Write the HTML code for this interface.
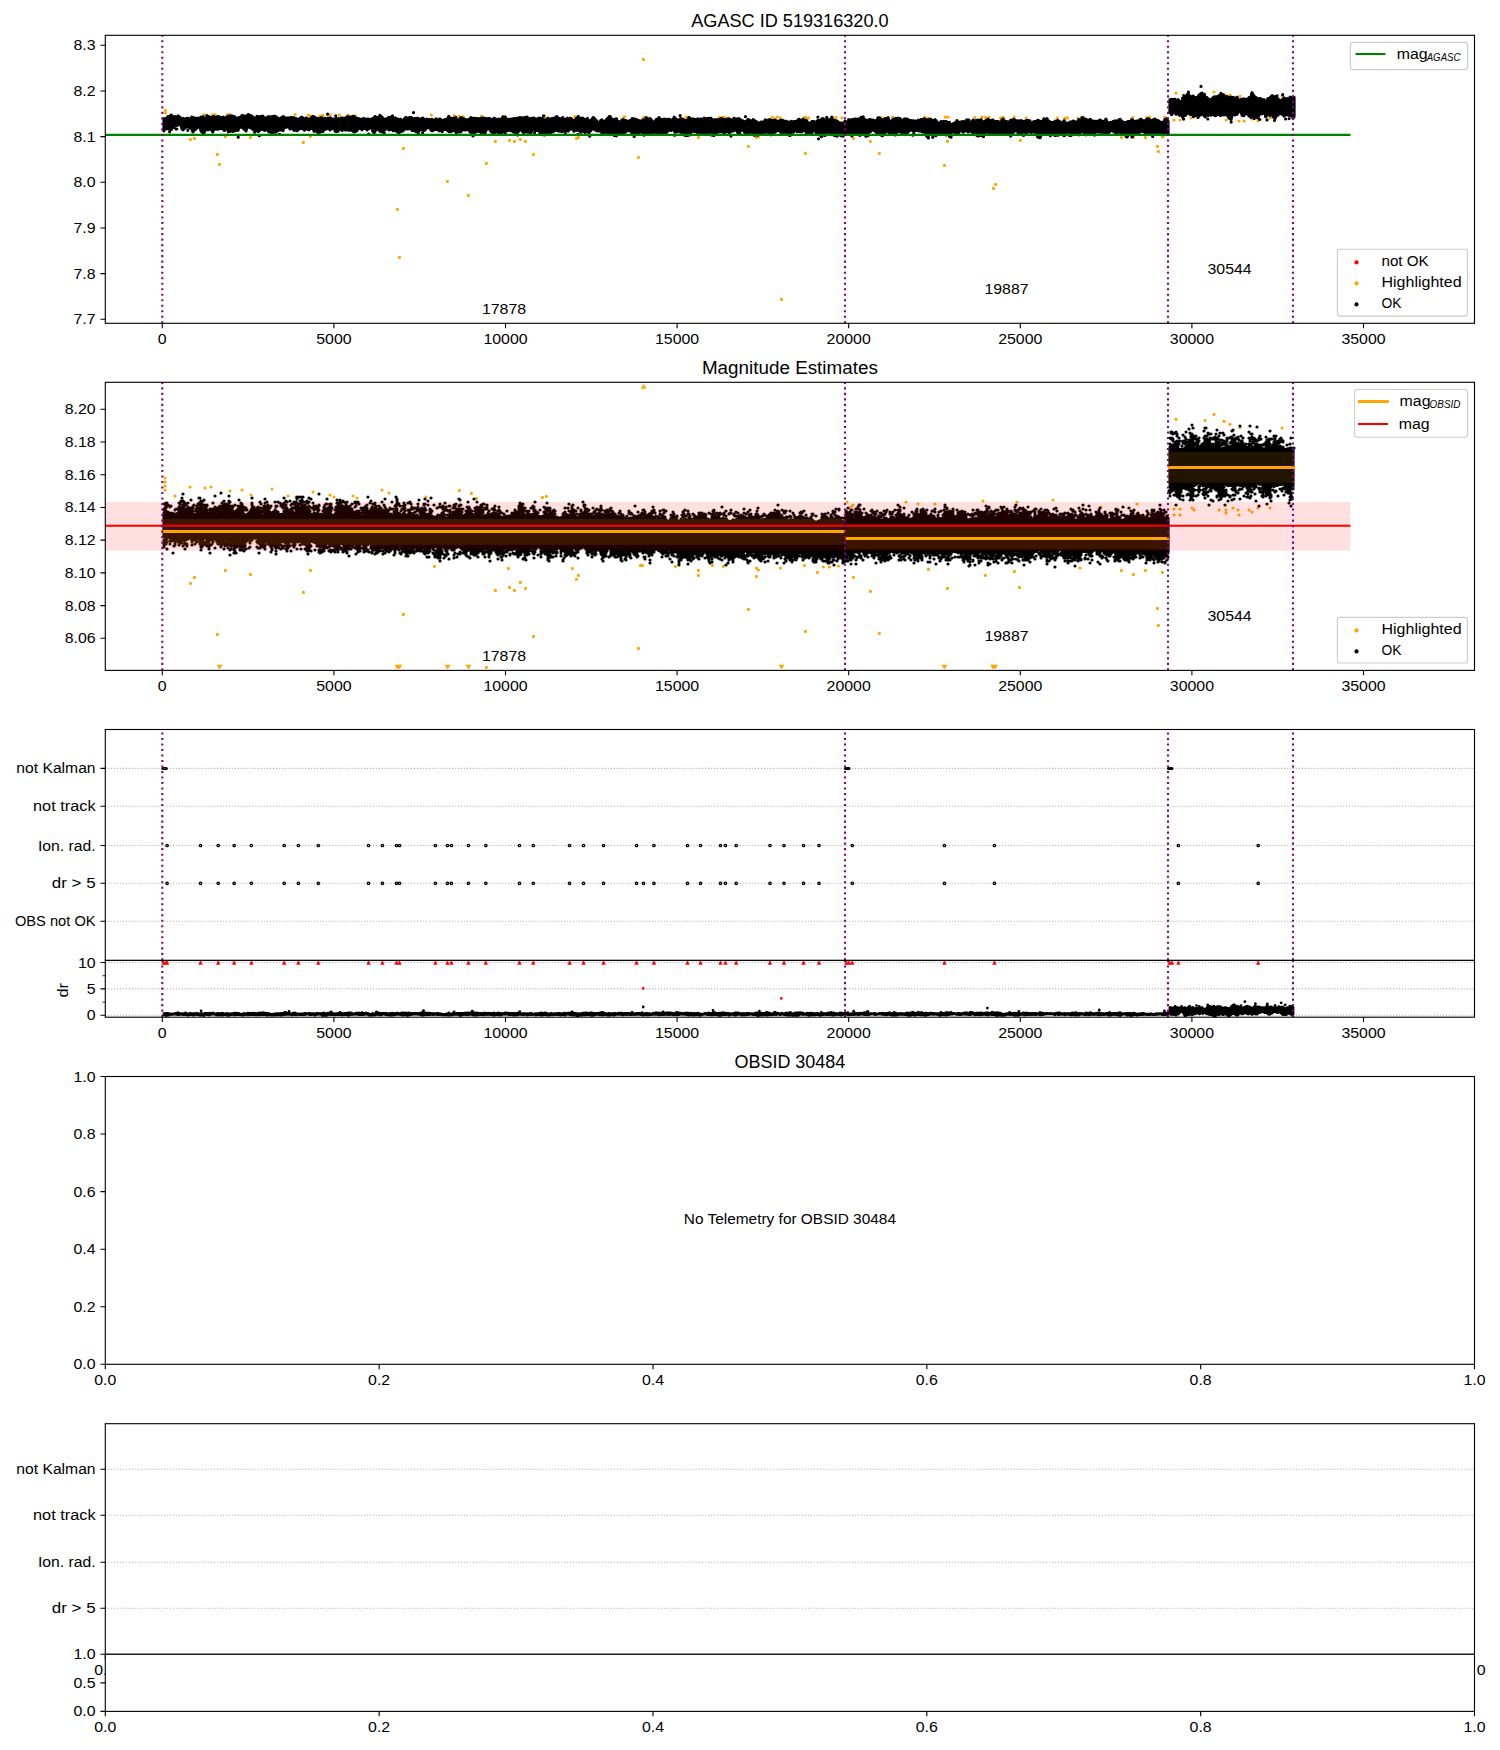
<!DOCTYPE html>
<html><head><meta charset="utf-8"><title>AGASC ID 519316320.0</title>
<style>html,body{margin:0;padding:0;background:#fff;}svg{display:block;}</style>
</head><body>
<svg width="1500" height="1750" viewBox="0 0 1500 1750" font-family="&quot;Liberation Sans&quot;, sans-serif" fill="#000">
<rect width="1500" height="1750" fill="#fff"/>
<text x="691.22" y="26.90" font-size="17.50" textLength="197.36" lengthAdjust="spacingAndGlyphs">AGASC ID 519316320.0</text>
<path d="M165.4 110.4h0M165.4 113.0h0M190.4 139.4h0M194.4 138.4h0M217.4 154.4h0M219.4 164.4h0M225.4 136.6h0M250.4 137.4h0M303.4 142.4h0M310.4 136.6h0M397.4 209.4h0M399.4 257.4h0M403.4 148.4h0M447.4 181.4h0M468.4 195.4h0M486.4 163.4h0M495.4 141.4h0M509.4 140.4h0M514.4 141.4h0M520.4 139.4h0M525.4 141.4h0M533.4 154.4h0M576.4 138.4h0M578.4 137.4h0M638.4 157.4h0M643.4 59.4h0M698.4 137.4h0M748.4 146.4h0M756.4 137.4h0M758.4 137.0h0M805.4 153.4h0M781.4 299.4h0M853.4 138.4h0M870.4 141.4h0M879.4 153.4h0M944.4 165.4h0M947.4 141.4h0M993.6 188.4h0M995.6 184.4h0M1020.4 140.4h0M1121.4 137.4h0M1133.4 137.4h0M1145.4 137.4h0M1157.4 146.4h0M1158.4 151.4h0M1162.4 137.0h0M1176.0 93.0h0M1205.0 94.0h0M1214.0 92.0h0M1224.0 94.0h0M1230.0 95.0h0M1240.0 96.0h0M1282.0 96.0h0M1174.0 120.0h0M1180.0 120.0h0M1191.0 118.0h0M1226.0 120.0h0M1239.0 121.0h0M1244.0 121.0h0M1252.0 119.0h0M1258.0 121.0h0M1270.0 118.0h0M171.5 114.7h0M203.8 114.9h0M212.6 114.8h0M215.2 114.9h0M227.6 114.5h0M228.8 115.3h0M230.0 114.5h0M244.8 115.7h0M295.2 114.5h0M308.4 115.1h0M310.6 116.0h0M320.0 116.0h0M322.6 115.7h0M323.0 115.4h0M330.2 114.8h0M339.4 115.2h0M348.1 115.2h0M355.7 115.8h0M431.4 115.0h0M454.3 115.5h0M459.1 116.3h0M463.3 116.6h0M481.5 116.2h0M504.9 116.4h0M544.6 115.9h0M544.6 116.9h0M574.7 116.7h0M623.8 117.1h0M624.8 116.8h0M643.6 117.5h0M644.8 117.4h0M686.3 117.0h0M687.9 117.8h0M689.2 118.1h0M709.2 118.0h0M719.4 117.7h0M722.1 117.3h0M723.8 117.4h0M725.4 117.8h0M728.4 118.0h0M772.6 117.3h0M777.1 117.2h0M780.1 117.9h0M804.2 117.5h0M805.5 117.0h0M808.5 118.1h0M827.0 118.0h0M831.4 118.4h0M832.6 117.6h0M836.0 117.6h0M841.9 117.8h0M881.8 117.8h0M892.5 117.2h0M895.0 118.3h0M924.9 117.3h0M928.5 118.2h0M945.3 117.1h0M948.1 117.1h0M974.8 117.6h0M981.6 118.3h0M982.1 117.1h0M985.5 117.4h0M989.2 117.3h0M1000.6 118.1h0M1003.0 117.4h0M1003.9 118.2h0M1014.1 117.2h0M1026.0 118.1h0M1057.2 118.2h0M1057.4 118.1h0M1064.8 118.4h0M1067.2 117.9h0M1077.8 118.3h0M1083.4 117.2h0M1132.7 117.5h0M1147.3 117.6h0M1149.2 118.4h0M1149.5 117.1h0M1164.6 117.1h0M1164.8 117.5h0" stroke="#ffa500" stroke-width="3.2" stroke-linecap="round"/>
<path d="M164.0 118.6 165.0 119.6 166.0 118.9 167.0 117.8 168.0 116.7 169.0 117.0 170.0 116.3 171.0 115.4 172.0 116.3 173.0 116.8 174.0 117.5 175.0 116.7 176.0 117.0 177.0 117.1 178.0 115.9 179.0 116.9 180.0 117.4 181.0 119.6 182.0 119.1 183.0 118.5 184.0 119.3 185.0 118.9 186.0 119.3 187.0 118.4 188.0 118.3 189.0 119.0 190.0 119.2 191.0 118.8 192.0 117.4 193.0 117.9 194.0 117.9 195.0 118.4 196.0 118.4 197.0 119.1 198.0 118.6 199.0 118.4 200.0 118.8 201.0 117.4 202.0 117.1 203.0 116.9 204.0 118.9 205.0 118.4 206.0 118.7 207.0 118.9 208.0 118.3 209.0 116.7 210.0 117.9 211.0 117.4 212.0 118.2 213.0 116.8 214.0 116.7 215.0 118.2 216.0 119.3 217.0 117.6 218.0 116.5 219.0 116.8 220.0 117.8 221.0 117.9 222.0 118.1 223.0 117.1 224.0 117.8 225.0 118.8 226.0 118.1 227.0 116.7 228.0 116.4 229.0 117.5 230.0 116.0 231.0 116.5 232.0 116.0 233.0 116.5 234.0 116.7 235.0 117.1 236.0 118.6 237.0 118.7 238.0 119.6 239.0 118.9 240.0 118.1 241.0 118.3 242.0 115.6 243.0 116.3 244.0 116.9 245.0 116.1 246.0 117.1 247.0 116.8 248.0 115.0 249.0 115.7 250.0 115.5 251.0 115.8 252.0 116.4 253.0 118.0 254.0 118.0 255.0 117.9 256.0 118.2 257.0 116.5 258.0 118.1 259.0 117.0 260.0 117.7 261.0 116.7 262.0 116.2 263.0 116.4 264.0 118.6 265.0 119.0 266.0 118.1 267.0 117.8 268.0 116.8 269.0 117.1 270.0 116.9 271.0 117.8 272.0 116.7 273.0 116.8 274.0 116.4 275.0 116.3 276.0 117.4 277.0 117.7 278.0 118.3 279.0 119.2 280.0 119.8 281.0 118.0 282.0 118.4 283.0 116.7 284.0 117.1 285.0 119.1 286.0 118.5 287.0 118.0 288.0 118.1 289.0 118.1 290.0 118.1 291.0 117.4 292.0 118.5 293.0 119.1 294.0 118.6 295.0 118.7 296.0 119.0 297.0 119.6 298.0 119.4 299.0 119.6 300.0 118.8 301.0 117.6 302.0 117.3 303.0 118.4 304.0 119.2 305.0 118.9 306.0 118.1 307.0 118.4 308.0 119.7 309.0 120.4 310.0 119.0 311.0 118.6 312.0 117.2 313.0 116.4 314.0 117.1 315.0 117.5 316.0 118.5 317.0 119.5 318.0 119.8 319.0 120.4 320.0 119.1 321.0 117.8 322.0 118.3 323.0 120.6 324.0 120.1 325.0 118.4 326.0 118.5 327.0 119.7 328.0 118.2 329.0 118.9 330.0 118.1 331.0 119.2 332.0 119.6 333.0 119.4 334.0 120.7 335.0 119.5 336.0 118.4 337.0 120.0 338.0 118.6 339.0 120.4 340.0 119.6 341.0 118.2 342.0 118.2 343.0 118.3 344.0 118.4 345.0 118.2 346.0 119.1 347.0 116.8 348.0 116.7 349.0 117.0 350.0 119.0 351.0 117.0 352.0 117.1 353.0 116.4 354.0 116.4 355.0 117.6 356.0 118.1 357.0 119.5 358.0 118.5 359.0 118.7 360.0 119.6 361.0 119.9 362.0 119.1 363.0 119.8 364.0 118.5 365.0 120.0 366.0 119.6 367.0 119.0 368.0 119.0 369.0 119.5 370.0 120.7 371.0 119.7 372.0 118.9 373.0 119.2 374.0 118.1 375.0 116.7 376.0 117.9 377.0 117.7 378.0 118.9 379.0 117.8 380.0 115.4 381.0 116.6 382.0 117.3 383.0 119.1 384.0 119.3 385.0 119.2 386.0 119.5 387.0 118.8 388.0 118.7 389.0 117.4 390.0 118.1 391.0 117.5 392.0 117.4 393.0 118.3 394.0 119.1 395.0 118.0 396.0 119.9 397.0 118.9 398.0 119.4 399.0 119.9 400.0 119.6 401.0 119.4 402.0 120.6 403.0 120.7 404.0 120.3 405.0 118.1 406.0 117.5 407.0 118.8 408.0 118.9 409.0 117.9 410.0 117.5 411.0 117.5 412.0 118.4 413.0 118.8 414.0 119.5 415.0 118.4 416.0 119.3 417.0 118.6 418.0 118.3 419.0 119.9 420.0 119.5 421.0 119.0 422.0 118.6 423.0 118.2 424.0 119.7 425.0 120.5 426.0 120.5 427.0 120.0 428.0 120.4 429.0 119.7 430.0 119.7 431.0 119.7 432.0 119.3 433.0 120.5 434.0 121.4 435.0 121.6 436.0 118.9 437.0 120.4 438.0 120.4 439.0 119.4 440.0 119.1 441.0 119.9 442.0 120.5 443.0 120.6 444.0 120.1 445.0 119.6 446.0 120.0 447.0 119.4 448.0 118.4 449.0 117.9 450.0 118.0 451.0 118.5 452.0 120.6 453.0 118.7 454.0 119.1 455.0 118.9 456.0 119.1 457.0 120.1 458.0 120.8 459.0 119.9 460.0 119.0 461.0 117.7 462.0 118.0 463.0 119.3 464.0 118.9 465.0 119.5 466.0 119.9 467.0 119.8 468.0 120.4 469.0 119.8 470.0 118.7 471.0 117.7 472.0 118.9 473.0 118.5 474.0 118.3 475.0 119.2 476.0 118.4 477.0 120.1 478.0 120.3 479.0 119.3 480.0 118.6 481.0 119.7 482.0 118.3 483.0 117.9 484.0 118.3 485.0 118.7 486.0 118.7 487.0 119.1 488.0 118.7 489.0 118.7 490.0 119.9 491.0 120.2 492.0 119.4 493.0 120.8 494.0 118.4 495.0 118.7 496.0 119.4 497.0 120.1 498.0 119.8 499.0 119.2 500.0 119.7 501.0 119.3 502.0 119.6 503.0 116.9 504.0 117.9 505.0 117.6 506.0 118.9 507.0 119.6 508.0 120.1 509.0 119.4 510.0 119.7 511.0 119.2 512.0 119.4 513.0 119.2 514.0 118.4 515.0 120.4 516.0 120.6 517.0 118.3 518.0 119.4 519.0 118.1 520.0 118.2 521.0 118.0 522.0 117.9 523.0 118.6 524.0 118.5 525.0 117.4 526.0 118.0 527.0 118.8 528.0 120.5 529.0 119.7 530.0 118.5 531.0 118.4 532.0 119.3 533.0 118.5 534.0 118.1 535.0 119.0 536.0 119.1 537.0 119.4 538.0 118.8 539.0 118.2 540.0 118.3 541.0 118.5 542.0 118.5 543.0 119.2 544.0 119.7 545.0 120.1 546.0 120.3 547.0 119.2 548.0 118.3 549.0 119.4 550.0 119.4 551.0 119.5 552.0 118.5 553.0 118.6 554.0 118.3 555.0 117.9 556.0 117.9 557.0 117.1 558.0 118.0 559.0 119.5 560.0 118.9 561.0 119.2 562.0 118.3 563.0 119.3 564.0 121.1 565.0 119.5 566.0 119.3 567.0 120.7 568.0 120.6 569.0 120.4 570.0 118.3 571.0 118.6 572.0 119.8 573.0 121.0 574.0 121.1 575.0 120.1 576.0 119.3 577.0 117.8 578.0 117.5 579.0 119.2 580.0 119.3 581.0 118.2 582.0 119.9 583.0 118.3 584.0 119.9 585.0 119.6 586.0 119.9 587.0 120.5 588.0 120.5 589.0 121.4 590.0 120.9 591.0 120.2 592.0 119.5 593.0 118.3 594.0 118.2 595.0 119.6 596.0 120.4 597.0 121.4 598.0 123.3 599.0 122.8 600.0 122.3 601.0 120.3 602.0 120.0 603.0 121.9 604.0 121.7 605.0 121.0 606.0 120.9 607.0 118.9 608.0 118.5 609.0 117.8 610.0 116.6 611.0 118.4 612.0 119.8 613.0 119.7 614.0 120.1 615.0 119.1 616.0 119.8 617.0 120.6 618.0 121.7 619.0 122.6 620.0 122.2 621.0 121.3 622.0 120.2 623.0 119.6 624.0 120.3 625.0 120.7 626.0 120.5 627.0 121.9 628.0 121.8 629.0 121.3 630.0 120.7 631.0 120.6 632.0 119.6 633.0 118.9 634.0 119.6 635.0 119.3 636.0 119.3 637.0 120.7 638.0 120.3 639.0 121.5 640.0 121.0 641.0 122.1 642.0 121.9 643.0 119.8 644.0 121.0 645.0 120.6 646.0 118.7 647.0 119.3 648.0 119.8 649.0 118.8 650.0 118.7 651.0 119.7 652.0 121.2 653.0 121.9 654.0 122.5 655.0 122.7 656.0 119.7 657.0 119.3 658.0 119.8 659.0 117.6 660.0 119.2 661.0 120.4 662.0 119.7 663.0 119.6 664.0 119.0 665.0 119.4 666.0 119.7 667.0 119.9 668.0 119.2 669.0 119.9 670.0 119.8 671.0 120.9 672.0 121.0 673.0 119.5 674.0 118.5 675.0 119.2 676.0 119.2 677.0 120.1 678.0 120.9 679.0 120.8 680.0 119.2 681.0 118.6 682.0 119.7 683.0 119.1 684.0 120.5 685.0 120.5 686.0 121.0 687.0 120.0 688.0 120.1 689.0 117.6 690.0 118.4 691.0 119.7 692.0 119.2 693.0 118.9 694.0 119.4 695.0 119.9 696.0 119.4 697.0 120.4 698.0 119.0 699.0 120.6 700.0 119.4 701.0 119.1 702.0 120.8 703.0 119.9 704.0 118.7 705.0 119.4 706.0 119.0 707.0 118.6 708.0 118.7 709.0 118.7 710.0 118.5 711.0 118.3 712.0 120.6 713.0 120.1 714.0 121.2 715.0 119.8 716.0 120.6 717.0 119.6 718.0 119.6 719.0 120.6 720.0 120.2 721.0 118.7 722.0 118.9 723.0 119.4 724.0 120.4 725.0 119.7 726.0 119.8 727.0 120.2 728.0 119.0 729.0 119.5 730.0 119.3 731.0 120.2 732.0 120.4 733.0 120.4 734.0 118.4 735.0 119.2 736.0 119.4 737.0 119.1 738.0 119.3 739.0 118.7 740.0 119.6 741.0 120.7 742.0 121.3 743.0 120.8 744.0 122.3 745.0 122.7 746.0 121.3 747.0 121.1 748.0 119.6 749.0 120.0 750.0 121.0 751.0 122.1 752.0 121.4 753.0 119.7 754.0 120.0 755.0 121.6 756.0 121.5 757.0 122.5 758.0 122.8 759.0 123.6 760.0 123.3 761.0 122.0 762.0 122.1 763.0 124.0 764.0 122.6 765.0 120.5 766.0 122.6 767.0 122.5 768.0 121.5 769.0 120.8 770.0 119.6 771.0 120.7 772.0 121.0 773.0 120.5 774.0 120.3 775.0 120.2 776.0 121.5 777.0 121.2 778.0 122.4 779.0 121.3 780.0 120.7 781.0 120.4 782.0 120.2 783.0 120.5 784.0 121.6 785.0 122.6 786.0 121.2 787.0 122.3 788.0 122.1 789.0 123.2 790.0 122.4 791.0 121.3 792.0 122.0 793.0 122.3 794.0 121.5 795.0 121.5 796.0 121.5 797.0 121.7 798.0 120.1 799.0 119.4 800.0 120.1 801.0 120.7 802.0 120.4 803.0 119.2 804.0 121.1 805.0 120.9 806.0 120.1 807.0 121.9 808.0 122.7 809.0 123.2 810.0 123.3 811.0 123.2 812.0 121.7 813.0 121.6 814.0 121.9 815.0 122.3 816.0 122.4 817.0 121.2 818.0 120.7 819.0 120.6 820.0 120.7 821.0 120.2 822.0 118.9 823.0 118.7 824.0 119.8 825.0 120.4 826.0 121.2 827.0 119.6 828.0 119.8 829.0 121.2 830.0 119.5 831.0 119.2 832.0 118.4 833.0 120.5 834.0 120.9 835.0 120.5 836.0 121.0 837.0 121.1 838.0 122.0 839.0 122.9 840.0 123.2 841.0 123.0 842.0 123.2 843.0 123.3 844.0 123.8 845.0 121.4 L845.0 131.5 844.0 134.3 843.0 136.1 842.0 135.4 841.0 134.1 840.0 133.0 839.0 132.7 838.0 133.9 837.0 135.6 836.0 135.2 835.0 133.9 834.0 135.3 833.0 134.4 832.0 132.5 831.0 134.0 830.0 133.6 829.0 131.2 828.0 132.0 827.0 131.8 826.0 132.9 825.0 135.3 824.0 133.6 823.0 135.1 822.0 134.6 821.0 135.3 820.0 135.0 819.0 133.6 818.0 132.5 817.0 133.8 816.0 131.9 815.0 131.3 814.0 128.2 813.0 128.3 812.0 130.8 811.0 132.9 810.0 132.3 809.0 133.4 808.0 133.4 807.0 132.8 806.0 131.5 805.0 129.6 804.0 130.5 803.0 130.7 802.0 131.7 801.0 131.5 800.0 131.7 799.0 131.3 798.0 131.4 797.0 131.5 796.0 130.4 795.0 130.5 794.0 130.7 793.0 132.0 792.0 130.4 791.0 132.8 790.0 133.4 789.0 135.1 788.0 133.5 787.0 133.2 786.0 132.7 785.0 132.0 784.0 131.8 783.0 132.6 782.0 131.6 781.0 132.3 780.0 131.3 779.0 130.0 778.0 130.5 777.0 129.9 776.0 131.3 775.0 130.4 774.0 130.9 773.0 133.5 772.0 133.4 771.0 134.7 770.0 132.8 769.0 132.2 768.0 131.2 767.0 132.1 766.0 131.6 765.0 132.3 764.0 131.8 763.0 133.6 762.0 132.4 761.0 133.4 760.0 134.3 759.0 132.7 758.0 131.8 757.0 133.7 756.0 133.2 755.0 134.2 754.0 135.0 753.0 132.0 752.0 132.2 751.0 131.0 750.0 132.0 749.0 133.3 748.0 132.5 747.0 134.4 746.0 133.8 745.0 132.9 744.0 130.2 743.0 129.3 742.0 129.7 741.0 129.8 740.0 131.4 739.0 131.9 738.0 132.9 737.0 130.8 736.0 128.8 735.0 130.1 734.0 130.2 733.0 131.1 732.0 131.0 731.0 129.5 730.0 132.3 729.0 131.8 728.0 130.7 727.0 130.8 726.0 131.7 725.0 129.3 724.0 132.8 723.0 131.6 722.0 131.3 721.0 131.1 720.0 131.9 719.0 130.0 718.0 131.2 717.0 132.7 716.0 132.9 715.0 131.7 714.0 135.4 713.0 135.1 712.0 132.8 711.0 130.6 710.0 131.4 709.0 130.8 708.0 132.8 707.0 133.0 706.0 133.1 705.0 132.7 704.0 132.9 703.0 133.1 702.0 132.4 701.0 131.6 700.0 133.1 699.0 130.7 698.0 130.7 697.0 132.4 696.0 130.8 695.0 129.7 694.0 131.5 693.0 131.0 692.0 130.2 691.0 131.5 690.0 133.3 689.0 133.6 688.0 135.0 687.0 134.1 686.0 134.3 685.0 134.2 684.0 132.9 683.0 132.2 682.0 130.2 681.0 132.0 680.0 131.6 679.0 127.8 678.0 130.6 677.0 131.2 676.0 130.9 675.0 132.1 674.0 130.1 673.0 128.1 672.0 129.7 671.0 130.4 670.0 129.8 669.0 129.6 668.0 130.9 667.0 131.3 666.0 132.9 665.0 132.8 664.0 132.3 663.0 133.7 662.0 134.0 661.0 133.4 660.0 134.4 659.0 132.7 658.0 131.2 657.0 132.4 656.0 129.5 655.0 129.9 654.0 132.9 653.0 132.9 652.0 132.7 651.0 133.9 650.0 132.8 649.0 133.3 648.0 130.9 647.0 130.5 646.0 133.2 645.0 132.9 644.0 135.0 643.0 134.5 642.0 130.9 641.0 131.3 640.0 131.3 639.0 132.8 638.0 132.8 637.0 132.7 636.0 133.3 635.0 133.6 634.0 134.0 633.0 132.6 632.0 132.4 631.0 131.0 630.0 129.5 629.0 130.5 628.0 128.1 627.0 130.1 626.0 131.8 625.0 131.6 624.0 132.9 623.0 132.2 622.0 131.1 621.0 132.5 620.0 134.3 619.0 133.5 618.0 134.3 617.0 131.4 616.0 133.7 615.0 134.2 614.0 132.9 613.0 134.0 612.0 133.6 611.0 133.0 610.0 132.5 609.0 134.4 608.0 133.1 607.0 132.1 606.0 129.2 605.0 130.1 604.0 132.3 603.0 130.9 602.0 131.6 601.0 130.9 600.0 131.1 599.0 130.2 598.0 130.6 597.0 130.7 596.0 130.2 595.0 128.1 594.0 129.2 593.0 128.6 592.0 128.2 591.0 130.0 590.0 131.3 589.0 132.5 588.0 132.1 587.0 131.2 586.0 130.8 585.0 132.4 584.0 130.8 583.0 130.8 582.0 131.0 581.0 132.2 580.0 130.9 579.0 130.3 578.0 129.9 577.0 130.3 576.0 130.1 575.0 130.1 574.0 131.1 573.0 129.1 572.0 128.4 571.0 128.8 570.0 128.0 569.0 128.8 568.0 129.8 567.0 130.2 566.0 131.0 565.0 129.8 564.0 131.1 563.0 129.8 562.0 131.5 561.0 130.8 560.0 131.2 559.0 129.6 558.0 129.1 557.0 129.6 556.0 130.2 555.0 130.3 554.0 130.9 553.0 131.7 552.0 129.6 551.0 132.2 550.0 132.6 549.0 132.4 548.0 132.5 547.0 133.2 546.0 133.4 545.0 133.3 544.0 133.1 543.0 131.5 542.0 132.3 541.0 133.1 540.0 131.1 539.0 131.1 538.0 130.3 537.0 130.4 536.0 130.2 535.0 130.2 534.0 127.8 533.0 127.5 532.0 130.5 531.0 132.5 530.0 132.6 529.0 132.3 528.0 130.6 527.0 131.2 526.0 131.4 525.0 131.2 524.0 132.6 523.0 132.1 522.0 130.5 521.0 129.5 520.0 130.0 519.0 130.1 518.0 131.9 517.0 133.0 516.0 133.0 515.0 132.1 514.0 131.6 513.0 131.1 512.0 130.4 511.0 130.7 510.0 128.7 509.0 128.5 508.0 130.7 507.0 129.3 506.0 130.9 505.0 131.8 504.0 131.7 503.0 130.7 502.0 132.6 501.0 134.3 500.0 132.7 499.0 132.1 498.0 130.7 497.0 131.9 496.0 130.9 495.0 132.3 494.0 131.8 493.0 132.5 492.0 130.7 491.0 131.1 490.0 129.8 489.0 128.2 488.0 127.5 487.0 128.3 486.0 129.7 485.0 132.8 484.0 131.7 483.0 131.4 482.0 131.2 481.0 132.2 480.0 130.2 479.0 130.4 478.0 131.3 477.0 130.9 476.0 130.0 475.0 132.4 474.0 131.0 473.0 131.4 472.0 133.9 471.0 131.3 470.0 131.8 469.0 129.8 468.0 129.4 467.0 129.0 466.0 129.8 465.0 129.3 464.0 129.0 463.0 129.4 462.0 128.7 461.0 131.5 460.0 132.0 459.0 131.2 458.0 129.7 457.0 132.4 456.0 131.3 455.0 130.9 454.0 128.6 453.0 130.5 452.0 131.2 451.0 131.0 450.0 131.7 449.0 131.5 448.0 130.0 447.0 130.2 446.0 128.4 445.0 129.4 444.0 129.5 443.0 129.3 442.0 131.2 441.0 129.5 440.0 128.6 439.0 130.8 438.0 129.6 437.0 129.2 436.0 129.4 435.0 129.3 434.0 129.3 433.0 130.5 432.0 130.7 431.0 130.1 430.0 126.4 429.0 126.9 428.0 125.8 427.0 125.6 426.0 127.1 425.0 129.9 424.0 130.3 423.0 129.9 422.0 128.0 421.0 129.2 420.0 128.1 419.0 131.3 418.0 131.6 417.0 130.9 416.0 131.5 415.0 130.8 414.0 130.6 413.0 130.0 412.0 130.4 411.0 127.7 410.0 128.5 409.0 128.1 408.0 129.0 407.0 128.1 406.0 128.9 405.0 128.9 404.0 128.6 403.0 130.7 402.0 131.1 401.0 130.2 400.0 131.0 399.0 132.6 398.0 130.4 397.0 130.7 396.0 130.9 395.0 130.3 394.0 128.9 393.0 129.5 392.0 129.0 391.0 129.4 390.0 128.9 389.0 129.9 388.0 127.8 387.0 128.7 386.0 127.4 385.0 129.3 384.0 130.4 383.0 129.6 382.0 131.9 381.0 129.7 380.0 131.2 379.0 129.7 378.0 127.2 377.0 129.3 376.0 129.7 375.0 131.2 374.0 132.0 373.0 130.2 372.0 128.3 371.0 126.2 370.0 126.0 369.0 128.7 368.0 128.3 367.0 129.9 366.0 128.5 365.0 128.5 364.0 126.5 363.0 127.0 362.0 129.7 361.0 127.9 360.0 127.4 359.0 128.4 358.0 128.8 357.0 130.5 356.0 131.3 355.0 129.9 354.0 131.9 353.0 130.8 352.0 130.4 351.0 129.8 350.0 130.0 349.0 130.3 348.0 129.3 347.0 128.6 346.0 129.8 345.0 128.8 344.0 128.7 343.0 128.7 342.0 130.4 341.0 128.6 340.0 128.0 339.0 129.0 338.0 131.0 337.0 131.4 336.0 129.6 335.0 128.8 334.0 128.6 333.0 126.8 332.0 128.8 331.0 129.0 330.0 129.9 329.0 127.1 328.0 128.0 327.0 128.4 326.0 129.1 325.0 127.6 324.0 128.8 323.0 131.4 322.0 128.8 321.0 129.3 320.0 131.6 319.0 131.2 318.0 132.0 317.0 131.7 316.0 129.8 315.0 128.4 314.0 130.1 313.0 129.0 312.0 128.6 311.0 127.7 310.0 128.6 309.0 129.8 308.0 129.3 307.0 128.4 306.0 128.4 305.0 129.4 304.0 129.3 303.0 128.7 302.0 127.0 301.0 128.4 300.0 128.8 299.0 127.7 298.0 129.1 297.0 130.1 296.0 129.8 295.0 129.7 294.0 130.3 293.0 128.7 292.0 127.4 291.0 128.3 290.0 128.9 289.0 126.5 288.0 126.9 287.0 126.0 286.0 127.2 285.0 125.7 284.0 126.7 283.0 130.5 282.0 129.6 281.0 128.6 280.0 129.9 279.0 127.5 278.0 130.5 277.0 129.7 276.0 132.1 275.0 129.4 274.0 129.2 273.0 133.2 272.0 133.2 271.0 130.9 270.0 130.4 269.0 131.9 268.0 130.2 267.0 128.6 266.0 128.4 265.0 130.4 264.0 128.5 263.0 129.6 262.0 128.4 261.0 128.6 260.0 129.8 259.0 131.1 258.0 131.4 257.0 129.5 256.0 127.9 255.0 128.7 254.0 128.7 253.0 129.4 252.0 128.3 251.0 127.1 250.0 127.5 249.0 126.2 248.0 125.7 247.0 127.9 246.0 129.8 245.0 128.9 244.0 129.2 243.0 126.6 242.0 127.1 241.0 127.3 240.0 127.1 239.0 126.9 238.0 130.3 237.0 130.2 236.0 129.5 235.0 130.6 234.0 129.2 233.0 129.4 232.0 127.9 231.0 128.1 230.0 131.0 229.0 130.9 228.0 129.7 227.0 128.0 226.0 129.1 225.0 129.5 224.0 129.5 223.0 128.2 222.0 128.6 221.0 128.3 220.0 128.3 219.0 128.8 218.0 129.2 217.0 129.1 216.0 127.6 215.0 129.2 214.0 129.2 213.0 130.3 212.0 130.6 211.0 129.4 210.0 126.0 209.0 128.2 208.0 129.8 207.0 129.6 206.0 129.8 205.0 129.6 204.0 132.8 203.0 132.7 202.0 131.5 201.0 130.5 200.0 126.6 199.0 125.7 198.0 127.1 197.0 126.9 196.0 128.9 195.0 129.6 194.0 128.9 193.0 131.4 192.0 129.3 191.0 128.5 190.0 127.0 189.0 127.3 188.0 126.8 187.0 126.6 186.0 126.9 185.0 127.9 184.0 128.5 183.0 129.8 182.0 128.9 181.0 125.2 180.0 124.6 179.0 123.4 178.0 124.4 177.0 125.5 176.0 125.5 175.0 124.9 174.0 126.2 173.0 126.4 172.0 127.6 171.0 129.1 170.0 129.1 169.0 129.0 168.0 128.4 167.0 128.5 166.0 128.9 165.0 128.9 164.0 128.9Z" fill="#000" stroke="#000" stroke-width="3.2" stroke-linejoin="round"/>
<path d="M163.8 130.8h0M169.6 131.8h0M171.3 129.4h0M172.9 127.3h0M174.0 127.3h0M176.0 129.0h0M176.8 129.0h0M187.8 130.3h0M191.8 117.2h0M193.0 132.0h0M195.1 118.4h0M197.4 127.2h0M198.2 118.2h0M201.4 131.1h0M203.2 133.3h0M204.2 118.0h0M204.6 129.8h0M206.8 115.7h0M209.1 128.6h0M209.5 128.5h0M212.8 132.0h0M215.1 118.1h0M217.2 117.1h0M224.4 130.4h0M228.2 131.8h0M229.1 117.1h0M230.5 131.2h0M233.0 131.5h0M236.4 118.4h0M238.2 137.2h0M238.8 117.7h0M240.1 117.6h0M242.6 115.9h0M246.0 130.9h0M248.2 114.9h0M248.8 114.9h0M248.7 126.2h0M254.6 132.2h0M255.7 130.5h0M259.2 116.8h0M259.3 135.7h0M260.7 129.1h0M266.3 118.0h0M270.4 131.7h0M271.7 134.6h0M276.0 117.2h0M279.5 134.3h0M284.9 118.9h0M291.5 128.1h0M293.7 117.5h0M296.0 118.6h0M295.9 129.8h0M297.2 130.7h0M300.2 118.8h0M304.4 130.2h0M314.1 131.3h0M317.9 118.4h0M318.3 132.9h0M320.4 132.0h0M322.5 129.2h0M327.6 114.2h0M330.6 118.0h0M333.5 119.1h0M335.1 131.1h0M335.7 115.8h0M337.0 131.5h0M343.7 118.4h0M344.9 129.8h0M346.9 129.7h0M364.7 119.5h0M368.7 134.0h0M369.6 119.8h0M370.3 126.6h0M370.7 126.9h0M373.1 118.5h0M372.6 130.9h0M374.0 133.0h0M375.5 116.8h0M377.6 118.4h0M383.0 131.3h0M384.3 132.9h0M388.2 118.1h0M390.8 117.3h0M392.5 115.8h0M393.2 130.7h0M398.4 119.3h0M397.6 131.9h0M400.8 131.5h0M413.5 112.6h0M417.5 131.4h0M418.1 133.3h0M420.6 129.3h0M422.6 132.9h0M426.8 119.0h0M427.5 128.0h0M435.4 120.5h0M442.1 131.6h0M445.8 128.6h0M448.7 116.4h0M453.6 118.2h0M455.9 117.4h0M456.4 132.9h0M457.8 120.7h0M464.4 130.0h0M469.3 130.2h0M471.7 118.8h0M473.0 136.0h0M477.5 118.6h0M477.0 131.1h0M481.0 132.6h0M481.5 131.4h0M482.7 132.5h0M485.9 130.6h0M486.8 128.4h0M489.6 118.7h0M491.2 131.4h0M491.7 131.9h0M493.0 132.6h0M499.0 132.7h0M505.1 117.1h0M505.4 134.0h0M509.2 128.7h0M512.1 119.3h0M513.1 131.8h0M516.8 118.3h0M517.7 135.0h0M519.9 117.5h0M521.0 129.6h0M527.2 117.0h0M527.3 132.1h0M532.8 129.2h0M534.6 132.8h0M536.0 130.4h0M537.0 130.5h0M539.9 133.6h0M543.5 115.9h0M543.5 132.9h0M544.3 135.0h0M548.9 132.5h0M552.3 131.0h0M553.8 118.3h0M556.7 116.6h0M558.1 130.9h0M562.9 117.6h0M565.3 133.5h0M567.3 118.0h0M568.2 131.1h0M570.9 129.1h0M578.3 116.4h0M578.0 134.3h0M579.3 119.1h0M579.2 130.3h0M587.1 131.2h0M587.5 118.4h0M589.7 136.2h0M593.2 117.7h0M597.8 130.7h0M601.8 134.0h0M603.3 132.6h0M604.3 132.8h0M607.4 132.1h0M609.2 116.6h0M614.3 135.4h0M616.5 118.9h0M616.3 135.8h0M618.1 121.6h0M622.3 131.6h0M630.5 130.8h0M632.2 118.6h0M631.7 132.4h0M633.9 119.6h0M634.2 136.5h0M635.9 133.3h0M646.3 117.7h0M646.8 130.8h0M647.5 119.3h0M649.2 133.6h0M651.9 132.7h0M655.0 130.8h0M656.3 130.8h0M660.7 134.0h0M669.3 119.6h0M669.5 119.4h0M672.9 129.0h0M674.2 117.2h0M674.6 135.2h0M676.2 119.0h0M677.0 131.9h0M679.2 128.9h0M680.1 115.6h0M680.3 132.1h0M683.3 132.6h0M684.7 135.2h0M686.5 135.7h0M688.9 134.9h0M691.2 134.7h0M696.0 131.2h0M697.9 131.1h0M703.2 119.2h0M704.0 118.0h0M708.7 133.5h0M711.3 135.0h0M712.5 120.1h0M718.9 131.1h0M723.9 133.2h0M725.3 131.7h0M727.7 130.7h0M729.0 134.2h0M730.9 136.1h0M735.3 119.0h0M739.2 132.1h0M740.4 134.6h0M740.8 120.4h0M741.3 130.1h0M742.9 130.1h0M745.3 122.4h0M745.5 116.7h0M748.6 133.7h0M754.4 135.1h0M755.8 134.8h0M757.8 135.1h0M758.7 133.3h0M761.8 134.0h0M765.5 119.8h0M768.3 120.2h0M768.7 132.8h0M773.0 120.5h0M773.9 134.1h0M775.2 120.2h0M774.8 131.9h0M784.5 121.6h0M790.2 135.3h0M793.7 131.8h0M806.3 133.3h0M806.7 121.4h0M807.1 133.1h0M812.0 133.1h0M813.1 121.6h0M817.9 117.2h0M818.5 138.8h0M821.4 136.7h0M825.0 135.3h0M826.0 133.8h0M826.7 117.4h0M831.8 117.1h0M835.3 135.6h0M837.0 136.1h0M840.9 135.7h0" stroke="#000" stroke-width="3.2" stroke-linecap="round"/>
<path d="M846.0 123.1 847.0 121.8 848.0 121.9 849.0 121.7 850.0 122.2 851.0 120.6 852.0 120.4 853.0 119.9 854.0 119.3 855.0 119.1 856.0 119.3 857.0 119.6 858.0 119.3 859.0 120.2 860.0 120.0 861.0 117.5 862.0 119.7 863.0 119.8 864.0 119.5 865.0 120.3 866.0 120.7 867.0 120.9 868.0 120.2 869.0 120.6 870.0 119.4 871.0 121.2 872.0 120.0 873.0 120.2 874.0 120.5 875.0 120.9 876.0 120.7 877.0 121.3 878.0 117.9 879.0 118.8 880.0 119.3 881.0 119.4 882.0 121.2 883.0 120.1 884.0 120.3 885.0 118.6 886.0 119.5 887.0 118.5 888.0 117.8 889.0 120.9 890.0 121.5 891.0 121.2 892.0 121.2 893.0 119.7 894.0 119.1 895.0 120.0 896.0 118.4 897.0 119.4 898.0 118.3 899.0 119.2 900.0 118.7 901.0 120.9 902.0 121.8 903.0 121.0 904.0 119.2 905.0 119.0 906.0 119.5 907.0 119.0 908.0 119.8 909.0 121.0 910.0 120.9 911.0 120.5 912.0 121.3 913.0 120.8 914.0 121.6 915.0 121.0 916.0 122.4 917.0 121.6 918.0 120.4 919.0 120.6 920.0 120.1 921.0 119.5 922.0 119.8 923.0 120.8 924.0 118.8 925.0 119.4 926.0 119.7 927.0 119.9 928.0 121.0 929.0 119.7 930.0 120.7 931.0 120.5 932.0 120.7 933.0 120.5 934.0 120.3 935.0 120.0 936.0 120.7 937.0 122.6 938.0 123.0 939.0 123.0 940.0 122.8 941.0 121.7 942.0 122.0 943.0 123.5 944.0 121.5 945.0 122.0 946.0 122.6 947.0 122.3 948.0 122.5 949.0 123.3 950.0 124.5 951.0 124.5 952.0 124.8 953.0 123.8 954.0 123.6 955.0 122.9 956.0 122.5 957.0 121.6 958.0 122.0 959.0 123.0 960.0 122.2 961.0 122.0 962.0 122.3 963.0 121.9 964.0 122.4 965.0 122.2 966.0 120.8 967.0 119.9 968.0 121.0 969.0 121.6 970.0 122.4 971.0 122.2 972.0 122.0 973.0 120.3 974.0 121.8 975.0 120.7 976.0 121.8 977.0 120.5 978.0 120.1 979.0 120.6 980.0 120.4 981.0 120.0 982.0 121.2 983.0 121.8 984.0 121.9 985.0 121.4 986.0 120.5 987.0 120.3 988.0 120.1 989.0 120.4 990.0 121.4 991.0 121.1 992.0 120.4 993.0 120.1 994.0 121.6 995.0 121.6 996.0 121.7 997.0 121.8 998.0 122.1 999.0 121.9 1000.0 122.8 1001.0 123.0 1002.0 119.9 1003.0 120.2 1004.0 123.2 1005.0 121.4 1006.0 121.4 1007.0 122.3 1008.0 122.0 1009.0 122.9 1010.0 121.2 1011.0 120.1 1012.0 120.3 1013.0 120.0 1014.0 119.4 1015.0 120.5 1016.0 121.0 1017.0 121.1 1018.0 120.8 1019.0 121.2 1020.0 121.1 1021.0 120.5 1022.0 121.2 1023.0 121.6 1024.0 121.5 1025.0 122.1 1026.0 120.8 1027.0 120.9 1028.0 120.5 1029.0 122.0 1030.0 122.2 1031.0 123.8 1032.0 124.4 1033.0 123.0 1034.0 121.5 1035.0 121.8 1036.0 121.4 1037.0 121.2 1038.0 120.3 1039.0 121.2 1040.0 121.4 1041.0 121.7 1042.0 121.9 1043.0 120.9 1044.0 119.0 1045.0 119.5 1046.0 119.6 1047.0 119.7 1048.0 121.1 1049.0 121.1 1050.0 122.5 1051.0 122.3 1052.0 122.6 1053.0 122.6 1054.0 122.9 1055.0 121.3 1056.0 122.3 1057.0 122.0 1058.0 120.9 1059.0 121.6 1060.0 121.8 1061.0 122.8 1062.0 123.0 1063.0 122.8 1064.0 120.8 1065.0 122.5 1066.0 123.4 1067.0 123.4 1068.0 123.2 1069.0 123.6 1070.0 122.1 1071.0 122.5 1072.0 122.1 1073.0 121.0 1074.0 121.4 1075.0 121.7 1076.0 123.1 1077.0 123.4 1078.0 121.3 1079.0 119.6 1080.0 120.1 1081.0 120.3 1082.0 119.8 1083.0 119.0 1084.0 119.6 1085.0 119.2 1086.0 119.3 1087.0 120.7 1088.0 121.2 1089.0 120.6 1090.0 119.8 1091.0 120.2 1092.0 122.1 1093.0 121.4 1094.0 123.0 1095.0 121.7 1096.0 121.4 1097.0 122.0 1098.0 121.1 1099.0 121.3 1100.0 120.1 1101.0 121.1 1102.0 122.2 1103.0 121.4 1104.0 121.6 1105.0 121.1 1106.0 119.3 1107.0 122.4 1108.0 122.7 1109.0 123.0 1110.0 122.8 1111.0 122.5 1112.0 124.3 1113.0 121.7 1114.0 121.3 1115.0 121.0 1116.0 120.9 1117.0 121.7 1118.0 121.0 1119.0 119.9 1120.0 119.4 1121.0 120.5 1122.0 121.7 1123.0 122.3 1124.0 123.4 1125.0 122.3 1126.0 122.9 1127.0 123.0 1128.0 122.4 1129.0 121.4 1130.0 122.2 1131.0 121.3 1132.0 121.1 1133.0 120.4 1134.0 122.3 1135.0 122.0 1136.0 121.3 1137.0 121.2 1138.0 121.1 1139.0 121.3 1140.0 119.8 1141.0 119.3 1142.0 120.5 1143.0 121.8 1144.0 120.8 1145.0 121.1 1146.0 120.7 1147.0 118.9 1148.0 119.5 1149.0 119.2 1150.0 120.7 1151.0 120.8 1152.0 121.0 1153.0 119.8 1154.0 120.5 1155.0 119.1 1156.0 120.1 1157.0 121.8 1158.0 120.6 1159.0 121.6 1160.0 122.8 1161.0 122.2 1162.0 123.0 1163.0 122.6 1164.0 121.8 1165.0 119.9 1166.0 119.5 1167.0 118.8 1168.0 121.8 L1168.0 134.4 1167.0 133.2 1166.0 132.4 1165.0 133.0 1164.0 134.6 1163.0 133.7 1162.0 133.6 1161.0 132.3 1160.0 131.5 1159.0 130.8 1158.0 131.3 1157.0 130.3 1156.0 130.8 1155.0 131.8 1154.0 131.0 1153.0 132.9 1152.0 132.8 1151.0 133.4 1150.0 132.9 1149.0 131.7 1148.0 133.0 1147.0 131.3 1146.0 131.8 1145.0 132.0 1144.0 130.8 1143.0 131.3 1142.0 131.1 1141.0 131.2 1140.0 131.0 1139.0 132.2 1138.0 132.5 1137.0 131.5 1136.0 132.5 1135.0 133.9 1134.0 132.7 1133.0 134.1 1132.0 135.4 1131.0 133.6 1130.0 133.2 1129.0 133.3 1128.0 135.1 1127.0 136.9 1126.0 135.3 1125.0 132.5 1124.0 130.8 1123.0 131.7 1122.0 132.8 1121.0 132.1 1120.0 131.6 1119.0 131.5 1118.0 131.4 1117.0 133.9 1116.0 133.1 1115.0 132.5 1114.0 129.6 1113.0 130.2 1112.0 129.6 1111.0 130.2 1110.0 131.2 1109.0 131.7 1108.0 133.6 1107.0 133.0 1106.0 132.9 1105.0 132.7 1104.0 130.6 1103.0 132.2 1102.0 132.8 1101.0 130.3 1100.0 128.8 1099.0 132.2 1098.0 131.6 1097.0 130.9 1096.0 131.5 1095.0 133.1 1094.0 132.6 1093.0 130.7 1092.0 132.4 1091.0 131.5 1090.0 132.7 1089.0 131.8 1088.0 132.5 1087.0 133.4 1086.0 134.7 1085.0 133.7 1084.0 131.8 1083.0 131.9 1082.0 130.7 1081.0 131.9 1080.0 132.0 1079.0 134.8 1078.0 133.5 1077.0 132.2 1076.0 133.9 1075.0 134.2 1074.0 133.9 1073.0 133.7 1072.0 133.4 1071.0 133.2 1070.0 133.0 1069.0 131.6 1068.0 129.8 1067.0 131.8 1066.0 133.0 1065.0 135.2 1064.0 135.6 1063.0 133.3 1062.0 132.5 1061.0 132.5 1060.0 133.1 1059.0 133.7 1058.0 135.2 1057.0 134.4 1056.0 135.3 1055.0 135.5 1054.0 133.3 1053.0 134.2 1052.0 132.5 1051.0 133.2 1050.0 133.9 1049.0 133.7 1048.0 133.9 1047.0 133.5 1046.0 132.7 1045.0 133.0 1044.0 133.2 1043.0 132.9 1042.0 131.7 1041.0 134.9 1040.0 137.7 1039.0 137.3 1038.0 136.7 1037.0 135.2 1036.0 131.9 1035.0 131.8 1034.0 131.9 1033.0 131.1 1032.0 132.2 1031.0 132.3 1030.0 128.9 1029.0 128.3 1028.0 131.2 1027.0 132.0 1026.0 133.6 1025.0 131.1 1024.0 131.8 1023.0 131.0 1022.0 132.7 1021.0 132.8 1020.0 131.2 1019.0 131.6 1018.0 132.6 1017.0 130.0 1016.0 130.4 1015.0 129.8 1014.0 131.9 1013.0 132.5 1012.0 132.3 1011.0 133.8 1010.0 133.3 1009.0 133.3 1008.0 132.8 1007.0 130.8 1006.0 132.0 1005.0 132.8 1004.0 134.3 1003.0 133.8 1002.0 134.4 1001.0 133.7 1000.0 134.3 999.0 133.4 998.0 133.8 997.0 133.6 996.0 133.3 995.0 134.1 994.0 134.1 993.0 133.7 992.0 133.4 991.0 131.4 990.0 131.3 989.0 132.3 988.0 131.3 987.0 131.1 986.0 131.6 985.0 133.1 984.0 133.3 983.0 135.5 982.0 133.7 981.0 133.0 980.0 134.2 979.0 134.7 978.0 135.5 977.0 132.8 976.0 131.3 975.0 130.1 974.0 132.6 973.0 133.1 972.0 131.8 971.0 130.8 970.0 130.9 969.0 131.5 968.0 131.9 967.0 129.2 966.0 128.2 965.0 131.0 964.0 130.2 963.0 132.1 962.0 129.1 961.0 130.3 960.0 129.4 959.0 131.9 958.0 133.1 957.0 134.4 956.0 133.4 955.0 130.9 954.0 132.1 953.0 129.9 952.0 131.3 951.0 133.1 950.0 132.5 949.0 133.7 948.0 133.9 947.0 133.4 946.0 135.0 945.0 133.8 944.0 133.5 943.0 133.2 942.0 132.4 941.0 133.1 940.0 131.9 939.0 130.7 938.0 132.2 937.0 134.5 936.0 132.3 935.0 131.7 934.0 132.7 933.0 132.6 932.0 133.6 931.0 133.5 930.0 134.3 929.0 134.1 928.0 136.1 927.0 135.7 926.0 134.8 925.0 131.6 924.0 131.9 923.0 131.3 922.0 131.9 921.0 130.5 920.0 129.9 919.0 131.1 918.0 129.6 917.0 128.8 916.0 130.4 915.0 130.7 914.0 131.0 913.0 131.0 912.0 129.8 911.0 129.9 910.0 129.7 909.0 130.8 908.0 131.8 907.0 132.8 906.0 132.3 905.0 132.6 904.0 132.0 903.0 131.6 902.0 133.3 901.0 131.3 900.0 131.6 899.0 129.9 898.0 131.9 897.0 132.0 896.0 133.5 895.0 134.3 894.0 133.6 893.0 134.0 892.0 132.5 891.0 132.1 890.0 133.3 889.0 132.3 888.0 131.3 887.0 131.4 886.0 130.2 885.0 131.9 884.0 132.9 883.0 134.9 882.0 135.7 881.0 134.7 880.0 134.4 879.0 134.0 878.0 132.1 877.0 131.9 876.0 132.0 875.0 130.5 874.0 130.3 873.0 128.9 872.0 129.8 871.0 131.0 870.0 131.9 869.0 131.3 868.0 134.0 867.0 134.7 866.0 135.7 865.0 132.8 864.0 131.6 863.0 132.0 862.0 133.6 861.0 133.5 860.0 135.3 859.0 134.8 858.0 134.3 857.0 132.3 856.0 131.0 855.0 132.6 854.0 132.7 853.0 134.0 852.0 134.6 851.0 133.8 850.0 131.8 849.0 133.5 848.0 130.9 847.0 132.5 846.0 132.8Z" fill="#000" stroke="#000" stroke-width="3.2" stroke-linejoin="round"/>
<path d="M848.7 119.7h0M851.6 119.5h0M851.9 136.0h0M858.6 119.1h0M863.2 116.9h0M862.9 133.8h0M864.0 118.8h0M865.6 120.1h0M866.0 136.2h0M867.9 135.7h0M877.1 133.0h0M879.5 117.9h0M882.7 135.3h0M885.0 132.9h0M886.0 131.0h0M889.5 134.0h0M895.3 134.9h0M912.9 135.2h0M913.8 133.7h0M915.5 130.5h0M917.0 129.4h0M927.0 136.5h0M928.4 137.9h0M930.7 119.0h0M931.3 134.3h0M932.7 137.3h0M935.0 119.9h0M935.0 134.2h0M935.7 135.7h0M938.3 132.8h0M942.3 121.9h0M946.2 121.6h0M949.5 122.3h0M949.4 136.3h0M950.1 133.0h0M951.1 137.1h0M956.9 120.5h0M959.2 134.6h0M962.8 121.6h0M966.8 129.4h0M968.2 120.4h0M968.9 120.0h0M976.4 131.3h0M977.0 135.6h0M978.3 135.9h0M980.6 135.5h0M983.4 136.7h0M987.9 119.2h0M988.8 132.9h0M991.5 120.7h0M991.9 134.0h0M997.5 121.3h0M1000.2 122.5h0M1000.8 133.8h0M1003.2 119.1h0M1010.7 136.1h0M1011.8 132.7h0M1014.6 130.4h0M1020.1 132.1h0M1021.2 133.5h0M1023.5 135.4h0M1026.6 120.7h0M1029.4 131.9h0M1030.0 120.9h0M1032.6 131.2h0M1037.9 137.0h0M1047.0 118.6h0M1050.4 135.7h0M1057.5 120.6h0M1065.8 133.3h0M1069.1 132.0h0M1069.7 135.4h0M1071.0 135.4h0M1081.1 120.1h0M1081.9 117.6h0M1082.8 117.9h0M1090.0 119.3h0M1093.8 121.2h0M1094.5 135.1h0M1097.7 131.6h0M1100.6 120.6h0M1104.3 131.8h0M1110.7 122.4h0M1113.0 131.2h0M1120.1 132.1h0M1121.2 134.4h0M1126.2 136.4h0M1127.8 121.6h0M1131.7 119.6h0M1132.0 137.0h0M1132.8 120.3h0M1132.7 135.9h0M1138.0 134.6h0M1138.8 133.4h0M1140.5 131.7h0M1145.0 132.8h0M1152.7 136.5h0M1153.9 120.0h0M1155.8 133.0h0M1157.2 121.5h0M1156.7 130.3h0M1158.7 132.7h0M1165.1 119.4h0M1167.3 134.2h0" stroke="#000" stroke-width="3.2" stroke-linecap="round"/>
<path d="M1170.0 99.6 1171.0 101.4 1172.0 99.4 1173.0 100.9 1174.0 100.0 1175.0 99.4 1176.0 102.2 1177.0 101.5 1178.0 100.7 1179.0 101.3 1180.0 102.3 1181.0 101.3 1182.0 101.5 1183.0 99.3 1184.0 98.7 1185.0 98.2 1186.0 96.6 1187.0 95.2 1188.0 94.1 1189.0 95.4 1190.0 96.4 1191.0 96.8 1192.0 97.7 1193.0 96.1 1194.0 97.0 1195.0 98.0 1196.0 99.5 1197.0 98.1 1198.0 97.8 1199.0 95.2 1200.0 95.7 1201.0 93.5 1202.0 93.2 1203.0 96.8 1204.0 94.3 1205.0 97.0 1206.0 98.2 1207.0 98.0 1208.0 99.0 1209.0 99.8 1210.0 101.1 1211.0 100.1 1212.0 98.9 1213.0 98.1 1214.0 96.9 1215.0 97.6 1216.0 96.9 1217.0 99.2 1218.0 96.4 1219.0 95.7 1220.0 95.4 1221.0 93.5 1222.0 98.2 1223.0 94.9 1224.0 95.9 1225.0 96.2 1226.0 99.6 1227.0 96.5 1228.0 99.0 1229.0 98.0 1230.0 98.1 1231.0 97.5 1232.0 99.0 1233.0 97.4 1234.0 97.9 1235.0 98.8 1236.0 101.7 1237.0 97.3 1238.0 100.2 1239.0 101.3 1240.0 99.9 1241.0 100.1 1242.0 99.1 1243.0 101.6 1244.0 101.1 1245.0 100.2 1246.0 99.5 1247.0 99.2 1248.0 98.9 1249.0 97.7 1250.0 101.3 1251.0 97.8 1252.0 92.9 1253.0 94.9 1254.0 96.1 1255.0 97.7 1256.0 97.9 1257.0 98.2 1258.0 99.0 1259.0 100.6 1260.0 99.5 1261.0 98.9 1262.0 101.9 1263.0 101.9 1264.0 99.6 1265.0 102.9 1266.0 102.9 1267.0 100.9 1268.0 98.6 1269.0 99.3 1270.0 98.1 1271.0 97.0 1272.0 95.8 1273.0 96.3 1274.0 98.9 1275.0 98.5 1276.0 96.6 1277.0 98.5 1278.0 98.9 1279.0 100.3 1280.0 101.8 1281.0 100.8 1282.0 100.1 1283.0 99.8 1284.0 98.0 1285.0 99.5 1286.0 101.5 1287.0 101.1 1288.0 100.2 1289.0 99.6 1290.0 98.4 1291.0 97.6 1292.0 97.6 1293.0 97.0 1294.0 97.2 L1294.0 116.4 1293.0 118.1 1292.0 115.5 1291.0 115.4 1290.0 115.3 1289.0 115.3 1288.0 114.6 1287.0 114.8 1286.0 115.0 1285.0 114.0 1284.0 116.0 1283.0 114.0 1282.0 114.1 1281.0 113.4 1280.0 111.2 1279.0 112.8 1278.0 115.0 1277.0 115.4 1276.0 115.8 1275.0 118.3 1274.0 116.6 1273.0 114.2 1272.0 112.2 1271.0 112.0 1270.0 114.7 1269.0 113.6 1268.0 114.1 1267.0 113.3 1266.0 116.6 1265.0 113.2 1264.0 112.6 1263.0 113.0 1262.0 113.8 1261.0 110.7 1260.0 113.4 1259.0 115.1 1258.0 116.8 1257.0 116.3 1256.0 116.3 1255.0 117.0 1254.0 114.5 1253.0 116.2 1252.0 114.7 1251.0 117.0 1250.0 114.1 1249.0 115.8 1248.0 113.7 1247.0 113.9 1246.0 113.3 1245.0 113.7 1244.0 114.9 1243.0 114.3 1242.0 114.0 1241.0 111.8 1240.0 111.0 1239.0 111.6 1238.0 111.6 1237.0 114.3 1236.0 114.4 1235.0 115.0 1234.0 113.9 1233.0 111.4 1232.0 114.8 1231.0 119.4 1230.0 117.0 1229.0 118.1 1228.0 114.6 1227.0 115.3 1226.0 114.5 1225.0 113.4 1224.0 114.9 1223.0 113.2 1222.0 113.9 1221.0 115.3 1220.0 115.3 1219.0 114.3 1218.0 113.0 1217.0 114.1 1216.0 113.2 1215.0 115.5 1214.0 114.9 1213.0 113.5 1212.0 112.3 1211.0 115.2 1210.0 114.1 1209.0 114.1 1208.0 115.4 1207.0 114.7 1206.0 114.6 1205.0 116.3 1204.0 115.3 1203.0 113.0 1202.0 113.9 1201.0 114.7 1200.0 114.0 1199.0 115.8 1198.0 115.2 1197.0 113.8 1196.0 114.4 1195.0 115.2 1194.0 115.9 1193.0 114.5 1192.0 113.6 1191.0 114.6 1190.0 114.2 1189.0 112.5 1188.0 112.1 1187.0 112.5 1186.0 114.7 1185.0 115.4 1184.0 115.7 1183.0 114.3 1182.0 114.9 1181.0 112.9 1180.0 114.1 1179.0 112.5 1178.0 112.8 1177.0 113.0 1176.0 114.0 1175.0 111.2 1174.0 109.7 1173.0 112.4 1172.0 113.9 1171.0 113.5 1170.0 112.2Z" fill="#000" stroke="#000" stroke-width="3.2" stroke-linejoin="round"/>
<path d="M1171.6 114.6h0M1174.1 99.3h0M1178.2 99.6h0M1177.9 113.8h0M1179.6 115.3h0M1182.5 98.0h0M1182.5 117.0h0M1183.7 95.6h0M1183.6 119.1h0M1188.4 92.0h0M1188.1 112.8h0M1188.7 95.1h0M1193.3 116.6h0M1195.2 115.4h0M1196.7 97.6h0M1198.5 96.0h0M1197.9 117.4h0M1198.5 116.2h0M1199.8 114.8h0M1201.0 86.4h0M1205.2 116.8h0M1206.7 97.5h0M1207.8 119.0h0M1209.3 114.3h0M1210.9 99.5h0M1213.2 114.1h0M1216.2 115.2h0M1223.2 114.0h0M1225.2 113.6h0M1227.7 97.9h0M1230.6 97.0h0M1231.2 122.1h0M1232.2 98.2h0M1232.7 112.3h0M1234.3 114.4h0M1242.1 115.3h0M1244.1 98.8h0M1243.7 115.7h0M1250.6 97.7h0M1251.0 117.3h0M1254.2 118.6h0M1255.7 97.9h0M1256.7 116.8h0M1257.6 99.0h0M1257.6 118.0h0M1259.9 98.7h0M1259.7 119.4h0M1260.8 112.5h0M1261.8 100.0h0M1265.5 115.3h0M1265.6 102.9h0M1265.6 116.6h0M1267.0 119.9h0M1270.3 97.6h0M1269.8 115.6h0M1271.2 114.4h0M1273.0 116.9h0M1274.1 97.0h0M1274.5 120.5h0M1277.1 95.8h0M1281.1 113.6h0M1282.1 99.9h0M1282.7 94.7h0M1284.6 114.4h0M1286.5 101.5h0M1285.6 119.0h0M1287.1 98.5h0M1289.1 118.6h0M1290.0 97.2h0" stroke="#000" stroke-width="3.2" stroke-linecap="round"/>
<path d="M105.3 134.9H1350.5" stroke="#008000" stroke-width="2.08"/>
<text x="481.91" y="313.90" font-size="14.58" textLength="44.19" lengthAdjust="spacingAndGlyphs">17878</text>
<text x="984.41" y="293.80" font-size="14.58" textLength="44.19" lengthAdjust="spacingAndGlyphs">19887</text>
<text x="1207.51" y="273.80" font-size="14.58" textLength="44.19" lengthAdjust="spacingAndGlyphs">30544</text>
<rect x="1350.4" y="42.4" width="117.2" height="27.2" rx="2.8" fill="#fff" fill-opacity="0.8" stroke="#cccccc" stroke-width="1.11"/>
<path d="M1355.5 54H1385.5" stroke="#008000" stroke-width="2.08"/>
<text x="1396.70" y="58.70" font-size="14.58" textLength="30.86" lengthAdjust="spacingAndGlyphs">mag</text>
<text x="1426.70" y="61.00" font-size="10.21" textLength="33.79" lengthAdjust="spacingAndGlyphs" font-style="italic">AGASC</text>
<rect x="1337.4" y="249.3" width="130.1" height="66.8" rx="2.8" fill="#fff" fill-opacity="0.8" stroke="#cccccc" stroke-width="1.11"/>
<circle cx="1356.5" cy="262.4" r="2.1" fill="#ff0000"/>
<text x="1381.50" y="265.70" font-size="14.58" textLength="47.20" lengthAdjust="spacingAndGlyphs">not OK</text>
<circle cx="1356.5" cy="283.4" r="2.1" fill="#ffa500"/>
<text x="1381.50" y="286.70" font-size="14.58" textLength="80.07" lengthAdjust="spacingAndGlyphs">Highlighted</text>
<circle cx="1356.5" cy="304.4" r="2.1" fill="#000"/>
<text x="1381.50" y="307.70" font-size="14.58" textLength="20.04" lengthAdjust="spacingAndGlyphs">OK</text>
<path d="M162.30 323.3V35.3" stroke="#800080" stroke-width="2.08" stroke-dasharray="2.08 3.43"/>
<path d="M845.00 323.3V35.3" stroke="#800080" stroke-width="2.08" stroke-dasharray="2.08 3.43"/>
<path d="M1168.00 323.3V35.3" stroke="#800080" stroke-width="2.08" stroke-dasharray="2.08 3.43"/>
<path d="M1293.00 323.3V35.3" stroke="#800080" stroke-width="2.08" stroke-dasharray="2.08 3.43"/>
<rect x="105.3" y="35.3" width="1369.20" height="288.00" fill="none" stroke="#000" stroke-width="1.11"/>
<path d="M100.44 319.30H105.3M100.44 273.64H105.3M100.44 227.97H105.3M100.44 182.30H105.3M100.44 136.63H105.3M100.44 90.97H105.3M100.44 45.30H105.3" stroke="#000" stroke-width="1.11"/>
<text x="73.49" y="324.30" font-size="14.58" textLength="22.09" lengthAdjust="spacingAndGlyphs">7.7</text>
<text x="73.49" y="278.64" font-size="14.58" textLength="22.09" lengthAdjust="spacingAndGlyphs">7.8</text>
<text x="73.49" y="232.97" font-size="14.58" textLength="22.09" lengthAdjust="spacingAndGlyphs">7.9</text>
<text x="73.49" y="187.30" font-size="14.58" textLength="22.09" lengthAdjust="spacingAndGlyphs">8.0</text>
<text x="73.49" y="141.63" font-size="14.58" textLength="22.09" lengthAdjust="spacingAndGlyphs">8.1</text>
<text x="73.49" y="95.97" font-size="14.58" textLength="22.09" lengthAdjust="spacingAndGlyphs">8.2</text>
<text x="73.49" y="50.30" font-size="14.58" textLength="22.09" lengthAdjust="spacingAndGlyphs">8.3</text>
<path d="M162.30 323.3V328.16M333.90 323.3V328.16M505.50 323.3V328.16M677.10 323.3V328.16M848.70 323.3V328.16M1020.30 323.3V328.16M1191.90 323.3V328.16M1363.50 323.3V328.16" stroke="#000" stroke-width="1.11"/>
<text x="157.88" y="343.80" font-size="14.58" textLength="8.84" lengthAdjust="spacingAndGlyphs">0</text>
<text x="316.23" y="343.80" font-size="14.58" textLength="35.35" lengthAdjust="spacingAndGlyphs">5000</text>
<text x="483.41" y="343.80" font-size="14.58" textLength="44.19" lengthAdjust="spacingAndGlyphs">10000</text>
<text x="655.01" y="343.80" font-size="14.58" textLength="44.19" lengthAdjust="spacingAndGlyphs">15000</text>
<text x="826.61" y="343.80" font-size="14.58" textLength="44.19" lengthAdjust="spacingAndGlyphs">20000</text>
<text x="998.21" y="343.80" font-size="14.58" textLength="44.19" lengthAdjust="spacingAndGlyphs">25000</text>
<text x="1169.81" y="343.80" font-size="14.58" textLength="44.19" lengthAdjust="spacingAndGlyphs">30000</text>
<text x="1341.41" y="343.80" font-size="14.58" textLength="44.19" lengthAdjust="spacingAndGlyphs">35000</text>
<text x="701.93" y="373.90" font-size="17.50" textLength="175.93" lengthAdjust="spacingAndGlyphs">Magnitude Estimates</text>
<path d="M190.4 583.4h0M194.4 577.4h0M225.4 570.4h0M250.4 574.4h0M303.4 592.4h0M310.4 570.4h0M217.4 634.4h0M403.4 614.4h0M434.4 566.4h0M508.4 568.4h0M495.4 590.4h0M509.4 587.4h0M514.4 590.4h0M520.4 582.4h0M525.4 588.4h0M533.4 636.4h0M572.4 568.4h0M578.4 575.4h0M576.4 579.4h0M638.4 648.4h0M640.4 565.4h0M642.4 565.4h0M675.4 566.4h0M698.4 570.4h0M698.4 575.4h0M712.4 565.4h0M723.4 566.4h0M756.4 568.0h0M758.4 570.0h0M756.4 576.4h0M748.4 609.4h0M780.4 568.0h0M805.4 631.4h0M817.4 572.4h0M804.4 565.4h0M823.4 567.0h0M829.4 567.0h0M838.4 566.0h0M853.4 577.4h0M870.4 591.4h0M879.4 633.4h0M928.4 569.4h0M947.4 588.4h0M985.4 575.4h0M1014.4 571.4h0M1019.4 587.4h0M1121.4 570.4h0M1133.4 574.4h0M1145.4 570.4h0M1080.0 568.0h0M1157.4 608.4h0M1158.4 625.4h0M1162.4 572.4h0M486.4 667.4h0M165.0 478.0h0M165.0 482.0h0M165.0 486.0h0M165.0 490.0h0M190.0 487.0h0M175.0 496.0h0M205.0 488.0h0M211.0 487.0h0M230.0 491.0h0M242.0 490.0h0M251.0 495.0h0M272.0 489.0h0M288.0 496.0h0M296.0 497.0h0M313.0 492.0h0M330.0 495.0h0M334.0 497.0h0M353.0 496.0h0M357.0 498.0h0M382.0 490.0h0M389.0 493.0h0M426.0 497.0h0M459.4 490.4h0M471.4 493.4h0M476.4 498.4h0M542.4 497.4h0M546.4 496.4h0M847.0 502.0h0M851.0 507.0h0M853.0 505.0h0M906.0 502.0h0M918.0 504.0h0M935.0 504.0h0M983.0 501.0h0M987.0 507.0h0M1017.0 502.0h0M1053.0 500.0h0M1101.0 507.0h0M1137.0 504.0h0M1176.0 419.4h0M1205.0 420.4h0M1214.0 414.4h0M1224.0 421.4h0M1230.0 424.4h0M1240.0 427.4h0M1282.0 428.0h0M1174.0 509.0h0M1180.0 509.0h0M1174.0 515.0h0M1180.0 515.0h0M1192.0 508.0h0M1194.0 510.0h0M1219.0 510.0h0M1226.0 510.0h0M1226.0 513.0h0M1233.0 508.0h0M1238.0 510.0h0M1239.0 515.0h0M1249.0 510.0h0M1252.0 512.0h0M1258.0 508.0h0M1270.0 508.0h0" stroke="#ffa500" stroke-width="3.2" stroke-linecap="round"/>
<path d="M216.6 664.8h6.0l-3.0 4.8zM394.4 664.8h6.0l-3.0 4.8zM396.4 664.8h6.0l-3.0 4.8zM444.6 664.8h6.0l-3.0 4.8zM465.4 664.8h6.0l-3.0 4.8zM778.4 664.8h6.0l-3.0 4.8zM941.4 664.8h6.0l-3.0 4.8zM990.0 664.8h6.0l-3.0 4.8zM992.0 664.8h6.0l-3.0 4.8z" fill="#ffa500"/>
<path d="M640.6 388.8h6.0l-3.0 -4.8z" fill="#ffa500"/>
<path d="M164 514.6 165 515.4 166 514.3 167 513.5 168 514.0 169 515.4 170 515.2 171 513.9 172 513.4 173 513.6 174 514.6 175 514.4 176 514.0 177 513.9 178 514.1 179 513.6 180 513.8 181 514.2 182 515.5 183 514.9 184 515.4 185 514.1 186 514.8 187 514.7 188 514.1 189 514.2 190 514.9 191 514.4 192 515.2 193 516.0 194 516.6 195 517.0 196 514.9 197 515.0 198 514.2 199 515.0 200 514.8 201 514.8 202 515.0 203 514.3 204 514.4 205 513.8 206 515.7 207 514.8 208 514.7 209 513.2 210 512.5 211 512.6 212 514.0 213 514.8 214 514.9 215 514.2 216 515.8 217 514.5 218 513.8 219 514.5 220 513.7 221 514.2 222 515.1 223 514.8 224 515.0 225 514.9 226 514.2 227 511.9 228 512.0 229 513.0 230 512.3 231 512.8 232 513.7 233 515.1 234 513.8 235 513.7 236 514.3 237 514.8 238 513.7 239 515.5 240 514.5 241 515.4 242 515.0 243 515.2 244 516.3 245 516.2 246 515.7 247 514.5 248 514.1 249 513.2 250 515.4 251 513.9 252 512.2 253 514.5 254 515.6 255 515.0 256 515.6 257 514.6 258 514.2 259 514.8 260 515.1 261 514.7 262 516.0 263 516.1 264 515.7 265 514.4 266 514.7 267 514.5 268 514.6 269 515.3 270 514.7 271 515.0 272 515.6 273 515.6 274 517.1 275 514.9 276 514.8 277 513.9 278 514.3 279 516.5 280 514.6 281 514.5 282 515.2 283 515.2 284 515.8 285 514.3 286 515.3 287 514.4 288 513.7 289 514.7 290 515.2 291 514.5 292 514.1 293 514.3 294 514.6 295 514.6 296 514.0 297 512.6 298 514.6 299 514.9 300 514.0 301 513.2 302 513.4 303 513.7 304 512.6 305 514.7 306 515.2 307 514.9 308 515.3 309 515.4 310 516.1 311 515.9 312 516.6 313 517.3 314 516.2 315 515.4 316 514.6 317 514.7 318 514.3 319 514.7 320 515.1 321 515.6 322 514.5 323 515.7 324 515.3 325 515.2 326 514.8 327 513.4 328 514.3 329 513.3 330 515.0 331 515.1 332 516.4 333 516.5 334 516.6 335 517.2 336 516.4 337 517.2 338 516.4 339 516.2 340 515.3 341 515.8 342 516.1 343 515.4 344 514.4 345 514.8 346 515.4 347 515.3 348 514.5 349 514.3 350 514.5 351 512.8 352 513.4 353 515.3 354 514.4 355 514.6 356 516.3 357 516.5 358 516.9 359 516.2 360 514.9 361 517.4 362 516.9 363 516.6 364 517.5 365 517.3 366 516.7 367 515.4 368 515.3 369 515.3 370 514.9 371 514.5 372 514.1 373 514.6 374 514.5 375 515.3 376 516.2 377 516.2 378 516.0 379 517.1 380 517.0 381 515.3 382 514.9 383 515.4 384 514.8 385 515.7 386 514.3 387 513.4 388 515.1 389 515.8 390 514.5 391 515.0 392 516.4 393 515.2 394 514.5 395 514.0 396 513.9 397 513.3 398 513.9 399 513.5 400 514.4 401 516.7 402 515.5 403 516.4 404 517.1 405 514.8 406 515.3 407 515.5 408 515.4 409 516.2 410 515.7 411 516.1 412 515.7 413 515.7 414 515.1 415 517.2 416 516.7 417 515.5 418 517.2 419 518.0 420 517.0 421 516.1 422 515.4 423 516.6 424 516.1 425 515.5 426 516.4 427 516.0 428 516.0 429 517.5 430 517.6 431 518.0 432 517.5 433 518.0 434 517.1 435 517.5 436 517.7 437 516.8 438 515.5 439 516.2 440 516.1 441 516.6 442 515.9 443 516.5 444 517.1 445 518.6 446 519.1 447 518.3 448 518.6 449 517.2 450 517.7 451 517.3 452 517.9 453 517.6 454 516.9 455 516.1 456 517.2 457 516.9 458 517.2 459 517.3 460 515.3 461 516.2 462 516.0 463 516.5 464 516.8 465 515.2 466 515.5 467 515.8 468 516.4 469 517.2 470 516.4 471 516.2 472 516.8 473 515.3 474 517.2 475 516.2 476 517.4 477 517.2 478 518.4 479 518.5 480 517.8 481 516.0 482 516.3 483 516.7 484 517.1 485 515.9 486 515.6 487 515.4 488 516.1 489 515.7 490 516.0 491 517.0 492 516.6 493 517.7 494 517.6 495 517.1 496 517.8 497 517.8 498 517.2 499 516.6 500 516.7 501 517.0 502 517.9 503 517.7 504 516.9 505 515.8 506 516.5 507 517.0 508 517.8 509 517.1 510 516.0 511 517.1 512 516.9 513 516.0 514 517.7 515 518.1 516 517.7 517 517.7 518 516.9 519 517.7 520 517.1 521 516.8 522 516.7 523 515.9 524 517.2 525 518.5 526 518.6 527 516.4 528 516.5 529 516.2 530 516.9 531 515.3 532 514.4 533 515.1 534 516.7 535 516.8 536 518.7 537 517.5 538 517.4 539 517.3 540 516.6 541 517.8 542 516.6 543 516.0 544 516.3 545 516.3 546 517.6 547 517.1 548 517.6 549 517.2 550 518.3 551 517.9 552 518.0 553 516.5 554 517.4 555 516.9 556 517.9 557 518.1 558 518.3 559 518.9 560 518.7 561 517.5 562 517.7 563 517.8 564 516.8 565 517.6 566 518.8 567 518.5 568 518.3 569 518.4 570 519.0 571 518.0 572 518.7 573 517.7 574 518.1 575 518.4 576 517.1 577 517.9 578 518.0 579 516.6 580 516.7 581 516.6 582 516.4 583 517.3 584 516.9 585 517.3 586 516.7 587 516.9 588 518.7 589 518.7 590 517.2 591 516.7 592 517.1 593 516.1 594 517.6 595 517.7 596 517.8 597 517.9 598 517.4 599 516.7 600 514.8 601 514.8 602 516.3 603 517.6 604 517.7 605 516.4 606 516.9 607 517.4 608 516.8 609 518.4 610 517.5 611 517.9 612 517.2 613 518.4 614 517.4 615 517.1 616 518.6 617 517.6 618 517.5 619 518.4 620 518.8 621 517.4 622 518.4 623 518.3 624 519.4 625 517.8 626 518.8 627 519.2 628 518.7 629 518.5 630 519.0 631 518.4 632 518.4 633 518.0 634 518.5 635 519.3 636 518.0 637 518.5 638 519.0 639 520.3 640 519.3 641 520.3 642 519.5 643 519.8 644 519.8 645 519.9 646 519.4 647 518.7 648 520.2 649 521.1 650 520.4 651 519.9 652 519.6 653 518.6 654 518.1 655 519.1 656 520.1 657 519.8 658 519.0 659 518.5 660 518.5 661 519.6 662 519.8 663 518.7 664 518.3 665 519.2 666 519.8 667 521.3 668 521.9 669 521.4 670 520.3 671 520.4 672 519.4 673 519.2 674 520.4 675 520.8 676 521.4 677 522.2 678 521.2 679 521.5 680 521.1 681 521.1 682 521.1 683 521.3 684 519.9 685 519.1 686 519.8 687 520.5 688 520.2 689 520.3 690 519.4 691 520.7 692 521.1 693 522.2 694 521.3 695 521.1 696 521.1 697 522.1 698 522.1 699 522.0 700 520.3 701 519.9 702 519.2 703 519.7 704 520.9 705 521.0 706 520.3 707 522.2 708 520.8 709 522.0 710 522.5 711 522.1 712 522.7 713 521.2 714 520.7 715 520.6 716 521.0 717 520.9 718 522.3 719 521.5 720 521.1 721 520.1 722 520.8 723 521.5 724 520.7 725 519.8 726 519.2 727 520.8 728 521.5 729 521.5 730 521.9 731 521.9 732 521.9 733 520.3 734 521.0 735 521.5 736 522.2 737 522.5 738 521.4 739 521.4 740 520.1 741 521.6 742 520.3 743 521.1 744 520.4 745 520.0 746 519.7 747 519.9 748 520.7 749 521.7 750 521.2 751 521.8 752 522.2 753 523.3 754 521.9 755 521.8 756 522.0 757 521.7 758 521.9 759 521.0 760 520.7 761 520.3 762 520.1 763 519.7 764 520.2 765 519.5 766 519.6 767 520.6 768 519.5 769 519.3 770 519.6 771 519.3 772 519.2 773 521.4 774 521.5 775 520.9 776 520.4 777 519.4 778 519.1 779 518.0 780 519.6 781 519.8 782 521.0 783 521.0 784 519.4 785 521.5 786 521.7 787 522.1 788 521.2 789 520.7 790 520.7 791 522.2 792 520.7 793 520.0 794 520.8 795 519.3 796 521.1 797 520.2 798 521.4 799 521.1 800 520.8 801 520.0 802 521.5 803 521.1 804 520.0 805 520.9 806 520.8 807 521.3 808 520.8 809 521.2 810 521.5 811 521.3 812 519.9 813 520.7 814 521.9 815 521.9 816 522.3 817 522.4 818 521.6 819 522.2 820 521.5 821 520.5 822 519.7 823 521.0 824 521.6 825 521.8 826 521.1 827 519.6 828 520.8 829 520.8 830 520.4 831 520.1 832 520.0 833 518.9 834 520.2 835 521.1 836 521.7 837 521.2 838 520.1 839 519.4 840 519.8 841 521.6 842 522.1 843 521.7 844 521.8 845 522.1 L845 552.3 844 553.1 843 553.5 842 553.3 841 553.4 840 552.5 839 552.1 838 552.0 837 551.8 836 551.8 835 552.5 834 553.6 833 552.9 832 553.3 831 552.9 830 552.2 829 553.0 828 553.5 827 551.7 826 551.6 825 551.8 824 552.6 823 552.9 822 553.1 821 553.0 820 553.2 819 552.9 818 552.7 817 552.7 816 552.5 815 553.6 814 554.0 813 553.4 812 553.2 811 552.8 810 552.1 809 550.7 808 550.9 807 550.5 806 552.2 805 551.9 804 551.6 803 550.8 802 551.6 801 552.2 800 552.8 799 552.3 798 551.6 797 550.6 796 550.6 795 553.1 794 552.6 793 553.0 792 553.7 791 553.7 790 553.3 789 552.8 788 553.2 787 551.3 786 551.4 785 552.2 784 551.1 783 550.1 782 550.0 781 550.7 780 549.9 779 551.9 778 551.2 777 551.4 776 550.7 775 551.2 774 549.5 773 550.1 772 550.0 771 551.2 770 550.9 769 550.7 768 551.0 767 552.9 766 552.2 765 554.0 764 553.0 763 551.7 762 553.2 761 552.2 760 551.9 759 551.6 758 551.9 757 550.7 756 550.4 755 551.2 754 551.9 753 551.7 752 551.7 751 551.6 750 553.6 749 551.9 748 553.3 747 551.6 746 550.4 745 550.9 744 551.5 743 552.8 742 551.5 741 551.2 740 551.4 739 551.0 738 551.2 737 553.0 736 552.8 735 551.9 734 552.1 733 551.3 732 551.5 731 550.6 730 550.3 729 549.7 728 550.6 727 551.4 726 551.1 725 550.5 724 551.3 723 551.1 722 552.8 721 551.2 720 550.4 719 551.0 718 551.6 717 550.8 716 550.9 715 550.1 714 551.4 713 550.2 712 550.4 711 552.1 710 551.4 709 551.3 708 550.2 707 550.2 706 549.1 705 549.8 704 550.8 703 550.9 702 549.9 701 550.1 700 549.9 699 550.1 698 549.8 697 550.6 696 549.5 695 550.1 694 550.5 693 550.3 692 549.7 691 550.1 690 549.7 689 550.4 688 550.7 687 550.0 686 550.2 685 551.0 684 550.6 683 550.0 682 550.8 681 552.5 680 552.1 679 551.5 678 550.6 677 550.5 676 550.1 675 549.4 674 548.0 673 547.7 672 548.4 671 548.9 670 549.9 669 548.7 668 548.5 667 549.1 666 549.3 665 548.8 664 549.2 663 548.3 662 550.2 661 550.5 660 549.8 659 550.6 658 550.0 657 548.2 656 549.0 655 549.1 654 550.1 653 550.3 652 550.0 651 548.9 650 549.7 649 551.0 648 550.2 647 548.9 646 547.3 645 549.5 644 548.0 643 548.0 642 547.9 641 548.5 640 549.1 639 549.4 638 548.7 637 549.4 636 549.3 635 549.0 634 549.2 633 547.2 632 547.4 631 547.8 630 548.3 629 547.9 628 548.3 627 548.8 626 548.9 625 547.4 624 549.1 623 549.0 622 549.8 621 549.9 620 549.3 619 548.5 618 548.4 617 550.2 616 550.0 615 548.6 614 548.6 613 548.6 612 547.7 611 548.7 610 548.3 609 546.6 608 548.4 607 549.5 606 549.9 605 550.2 604 549.8 603 549.8 602 549.4 601 548.6 600 549.0 599 548.5 598 548.6 597 547.0 596 548.1 595 547.7 594 546.2 593 546.4 592 545.7 591 546.5 590 546.6 589 547.9 588 547.3 587 545.8 586 543.9 585 544.9 584 544.4 583 546.2 582 547.7 581 547.4 580 548.6 579 547.4 578 546.8 577 546.6 576 545.7 575 546.2 574 547.2 573 546.0 572 545.1 571 547.0 570 546.4 569 547.9 568 547.3 567 548.9 566 547.8 565 547.0 564 547.8 563 548.1 562 548.0 561 547.2 560 546.7 559 548.0 558 548.2 557 547.7 556 548.2 555 547.7 554 547.3 553 548.2 552 549.8 551 548.0 550 547.9 549 546.8 548 547.5 547 546.4 546 546.4 545 546.1 544 545.5 543 545.7 542 545.0 541 546.0 540 546.4 539 546.5 538 546.7 537 546.0 536 546.2 535 546.9 534 546.6 533 546.0 532 546.1 531 546.1 530 546.0 529 546.4 528 546.3 527 547.5 526 548.4 525 548.6 524 548.1 523 549.6 522 548.9 521 549.0 520 547.9 519 547.8 518 547.0 517 547.4 516 546.1 515 548.3 514 548.2 513 548.2 512 546.5 511 547.3 510 548.4 509 546.9 508 547.5 507 548.4 506 546.4 505 545.6 504 546.3 503 547.1 502 546.8 501 546.8 500 547.1 499 546.6 498 546.4 497 547.1 496 545.9 495 544.4 494 545.4 493 546.5 492 546.0 491 547.5 490 547.2 489 547.3 488 545.8 487 545.1 486 545.9 485 547.2 484 546.0 483 545.6 482 544.5 481 545.4 480 545.8 479 544.9 478 546.0 477 546.4 476 546.5 475 545.4 474 545.0 473 546.2 472 547.1 471 546.7 470 546.6 469 545.6 468 545.6 467 545.6 466 545.8 465 545.4 464 545.9 463 545.6 462 545.4 461 545.1 460 544.8 459 544.7 458 546.4 457 547.2 456 545.8 455 546.3 454 546.9 453 548.9 452 548.1 451 546.8 450 546.9 449 545.8 448 545.2 447 546.4 446 545.5 445 545.8 444 545.4 443 546.2 442 547.0 441 547.1 440 548.7 439 548.6 438 546.4 437 547.0 436 546.7 435 545.6 434 545.7 433 544.5 432 545.2 431 544.9 430 545.1 429 546.0 428 546.4 427 546.7 426 546.3 425 546.4 424 545.7 423 545.5 422 545.2 421 546.2 420 547.1 419 544.7 418 545.4 417 544.8 416 545.0 415 544.5 414 543.7 413 545.4 412 545.8 411 544.5 410 545.0 409 545.9 408 546.7 407 546.8 406 546.5 405 546.3 404 544.8 403 544.7 402 543.6 401 543.1 400 545.2 399 544.4 398 544.6 397 543.0 396 544.2 395 545.2 394 544.9 393 544.0 392 542.5 391 544.2 390 545.0 389 545.1 388 543.7 387 544.6 386 545.2 385 544.9 384 542.5 383 543.0 382 543.3 381 542.4 380 544.1 379 543.4 378 544.2 377 543.8 376 543.3 375 543.8 374 544.6 373 545.2 372 545.2 371 543.7 370 542.5 369 543.2 368 544.4 367 542.9 366 544.4 365 543.9 364 542.9 363 543.8 362 543.4 361 543.4 360 542.1 359 542.1 358 541.3 357 540.9 356 542.8 355 542.3 354 542.9 353 542.7 352 542.3 351 542.1 350 542.1 349 543.6 348 542.6 347 543.6 346 543.4 345 543.9 344 543.9 343 544.2 342 543.5 341 543.4 340 542.1 339 542.7 338 540.8 337 542.2 336 543.0 335 544.0 334 543.2 333 542.9 332 542.8 331 542.2 330 543.3 329 543.2 328 542.6 327 542.0 326 543.2 325 542.5 324 543.9 323 544.0 322 543.5 321 541.5 320 543.0 319 544.0 318 543.6 317 543.7 316 542.6 315 542.6 314 541.0 313 541.6 312 540.5 311 539.5 310 540.9 309 541.8 308 541.6 307 541.9 306 541.1 305 541.6 304 541.0 303 539.5 302 539.6 301 540.7 300 541.4 299 540.5 298 540.6 297 538.5 296 540.2 295 541.4 294 540.8 293 541.2 292 541.1 291 539.9 290 540.4 289 540.4 288 540.9 287 541.2 286 540.4 285 541.8 284 541.0 283 541.0 282 541.5 281 539.7 280 539.2 279 539.8 278 539.7 277 541.0 276 541.3 275 541.0 274 540.5 273 539.6 272 540.5 271 541.6 270 539.8 269 539.4 268 539.1 267 539.2 266 539.8 265 539.6 264 540.1 263 540.3 262 540.7 261 540.5 260 541.0 259 540.1 258 538.2 257 537.2 256 537.6 255 538.1 254 537.4 253 537.9 252 538.1 251 538.7 250 539.0 249 538.9 248 538.1 247 539.2 246 540.6 245 540.2 244 539.7 243 540.4 242 540.1 241 540.2 240 540.5 239 540.7 238 540.5 237 540.1 236 539.3 235 540.2 234 539.9 233 540.7 232 540.5 231 540.7 230 540.4 229 538.7 228 539.4 227 539.5 226 538.8 225 538.3 224 537.0 223 537.8 222 537.9 221 538.3 220 538.6 219 539.6 218 540.4 217 540.1 216 539.8 215 537.5 214 538.1 213 539.0 212 538.6 211 539.0 210 539.6 209 540.4 208 540.0 207 539.3 206 538.4 205 537.7 204 537.0 203 539.0 202 538.4 201 536.7 200 537.8 199 535.4 198 536.1 197 537.5 196 538.0 195 537.8 194 537.2 193 538.6 192 539.7 191 538.0 190 538.0 189 537.6 188 536.4 187 537.9 186 536.9 185 536.9 184 537.3 183 537.2 182 538.6 181 537.9 180 536.7 179 538.0 178 537.3 177 537.2 176 537.6 175 536.6 174 536.8 173 536.3 172 536.2 171 536.1 170 537.4 169 536.1 168 536.0 167 536.8 166 537.3 165 537.2 164 537.0Z" fill="#000" stroke="#000" stroke-width="3.2" stroke-linejoin="round"/>
<path d="M164 509h0M164 504h0M164 513h0M164 510h0M164 540h0M164 545h0M164 544h0M164 540h0M164 543h0M164 543h0M164 542h0M165 511h0M165 508h0M165 542h0M165 541h0M164 547h0M165 541h0M165 543h0M167 504h0M166 508h0M166 511h0M166 506h0M166 503h0M166 544h0M167 549h0M166 538h0M166 538h0M166 539h0M166 544h0M167 506h0M167 503h0M166 512h0M167 513h0M167 539h0M167 542h0M168 505h0M168 513h0M169 513h0M168 512h0M170 514h0M170 507h0M170 506h0M170 541h0M170 544h0M170 538h0M171 539h0M171 513h0M171 506h0M171 536h0M171 539h0M171 536h0M172 538h0M172 537h0M172 541h0M172 540h0M173 553h0M173 537h0M173 539h0M173 537h0M174 539h0M174 546h0M174 538h0M175 510h0M175 541h0M175 539h0M175 545h0M175 543h0M175 539h0M176 509h0M176 539h0M177 540h0M175 541h0M176 538h0M178 541h0M177 538h0M178 513h0M178 514h0M178 509h0M178 509h0M177 539h0M178 542h0M179 503h0M179 512h0M179 513h0M179 507h0M179 508h0M179 511h0M179 512h0M179 512h0M178 538h0M179 541h0M179 545h0M179 542h0M180 503h0M180 512h0M180 511h0M180 508h0M180 509h0M180 507h0M179 507h0M180 514h0M180 513h0M180 512h0M180 507h0M181 539h0M180 543h0M180 540h0M181 502h0M181 513h0M181 509h0M181 501h0M180 504h0M181 513h0M181 509h0M181 508h0M181 507h0M180 540h0M182 541h0M181 539h0M180 540h0M183 505h0M182 508h0M182 514h0M182 514h0M182 512h0M183 512h0M182 507h0M182 498h0M182 515h0M183 511h0M182 510h0M183 512h0M183 494h0M183 512h0M183 506h0M183 512h0M183 509h0M183 514h0M184 514h0M184 506h0M183 514h0M182 543h0M183 540h0M184 502h0M184 515h0M183 501h0M184 514h0M184 513h0M184 508h0M184 503h0M185 510h0M184 513h0M184 540h0M183 546h0M184 539h0M185 544h0M185 512h0M184 512h0M185 503h0M185 511h0M185 510h0M185 509h0M185 504h0M185 538h0M185 549h0M185 539h0M185 538h0M185 543h0M186 509h0M186 514h0M186 505h0M186 513h0M186 514h0M186 511h0M186 510h0M186 540h0M187 514h0M187 544h0M187 546h0M188 514h0M188 513h0M188 507h0M188 510h0M188 503h0M189 510h0M189 508h0M190 512h0M189 513h0M189 509h0M189 511h0M189 514h0M189 510h0M188 539h0M190 514h0M189 514h0M191 500h0M189 510h0M190 514h0M190 514h0M190 508h0M191 513h0M191 513h0M191 511h0M191 514h0M191 508h0M191 513h0M191 513h0M191 508h0M192 542h0M192 512h0M192 509h0M192 512h0M192 508h0M192 540h0M192 545h0M193 506h0M193 508h0M193 515h0M193 511h0M193 515h0M193 540h0M194 505h0M194 514h0M194 539h0M195 544h0M197 514h0M196 509h0M196 511h0M197 507h0M197 506h0M197 506h0M197 515h0M197 513h0M197 512h0M197 514h0M196 509h0M197 506h0M197 542h0M197 539h0M196 541h0M197 514h0M198 514h0M198 510h0M198 513h0M198 504h0M198 511h0M198 511h0M198 514h0M199 508h0M198 514h0M199 510h0M199 512h0M199 498h0M199 511h0M198 537h0M199 513h0M199 503h0M199 514h0M199 515h0M199 510h0M199 508h0M199 508h0M199 514h0M198 508h0M199 515h0M199 515h0M200 544h0M200 498h0M199 509h0M200 512h0M200 503h0M200 504h0M200 509h0M200 508h0M200 515h0M199 539h0M200 539h0M200 544h0M200 541h0M200 544h0M200 542h0M201 515h0M201 507h0M201 514h0M201 514h0M201 509h0M200 505h0M200 505h0M201 506h0M202 509h0M201 514h0M201 501h0M202 508h0M202 512h0M201 537h0M201 541h0M201 546h0M201 538h0M201 538h0M201 540h0M201 547h0M202 514h0M202 513h0M202 504h0M203 514h0M201 510h0M202 504h0M202 514h0M201 514h0M202 542h0M202 540h0M201 550h0M202 544h0M202 544h0M202 539h0M203 539h0M202 542h0M202 542h0M202 539h0M203 501h0M203 513h0M203 510h0M203 511h0M203 513h0M203 541h0M203 541h0M203 544h0M203 545h0M202 547h0M203 539h0M204 508h0M204 500h0M204 511h0M203 512h0M203 505h0M204 509h0M205 510h0M203 539h0M204 537h0M205 508h0M205 507h0M205 505h0M205 509h0M205 509h0M205 513h0M205 511h0M205 509h0M205 510h0M205 505h0M205 511h0M205 543h0M205 543h0M206 507h0M205 515h0M205 513h0M206 509h0M206 510h0M206 515h0M206 511h0M206 513h0M206 508h0M206 510h0M206 508h0M206 506h0M206 509h0M206 514h0M206 545h0M206 542h0M207 512h0M207 511h0M207 510h0M207 506h0M207 514h0M207 505h0M207 546h0M207 541h0M207 545h0M208 541h0M209 549h0M208 544h0M208 541h0M208 541h0M210 513h0M209 542h0M210 553h0M209 547h0M210 509h0M210 510h0M211 509h0M210 545h0M210 510h0M211 545h0M212 540h0M212 544h0M213 513h0M213 503h0M213 511h0M213 509h0M213 541h0M213 542h0M213 540h0M214 511h0M214 515h0M215 496h0M215 514h0M214 513h0M215 507h0M215 510h0M215 512h0M215 512h0M217 511h0M215 548h0M217 508h0M217 542h0M217 509h0M218 512h0M218 509h0M218 511h0M218 509h0M219 544h0M218 541h0M219 513h0M219 507h0M219 540h0M218 544h0M219 542h0M219 541h0M220 513h0M220 506h0M219 511h0M220 509h0M220 541h0M220 544h0M221 547h0M220 540h0M220 542h0M219 540h0M220 542h0M221 514h0M221 493h0M220 511h0M221 511h0M221 511h0M221 511h0M221 547h0M221 541h0M222 541h0M221 543h0M221 546h0M221 544h0M221 541h0M222 514h0M222 514h0M222 514h0M222 511h0M222 508h0M222 503h0M222 511h0M222 507h0M222 544h0M222 543h0M222 540h0M223 512h0M223 513h0M223 509h0M223 507h0M223 514h0M223 511h0M223 505h0M223 510h0M223 544h0M223 542h0M223 541h0M223 538h0M223 538h0M223 541h0M223 542h0M223 544h0M224 513h0M224 513h0M225 511h0M224 511h0M224 514h0M224 513h0M224 501h0M224 513h0M223 514h0M224 549h0M224 537h0M224 541h0M224 540h0M223 544h0M224 542h0M224 540h0M224 539h0M224 541h0M224 543h0M225 514h0M225 504h0M225 508h0M225 506h0M225 511h0M225 514h0M225 514h0M225 512h0M225 509h0M225 539h0M225 544h0M225 544h0M225 544h0M225 546h0M225 542h0M225 507h0M225 509h0M227 512h0M226 513h0M226 509h0M225 510h0M226 510h0M226 504h0M226 543h0M226 544h0M227 509h0M227 507h0M227 510h0M227 506h0M227 509h0M227 512h0M227 545h0M227 544h0M229 510h0M228 511h0M228 512h0M228 508h0M229 496h0M228 507h0M228 512h0M228 505h0M228 512h0M227 509h0M228 511h0M228 545h0M228 542h0M228 548h0M228 541h0M229 544h0M229 503h0M229 501h0M229 508h0M229 502h0M229 501h0M229 512h0M229 508h0M230 542h0M229 539h0M229 541h0M229 539h0M229 545h0M229 541h0M230 512h0M230 506h0M230 509h0M230 502h0M230 507h0M230 506h0M230 550h0M230 541h0M230 541h0M231 546h0M230 555h0M231 508h0M231 510h0M230 507h0M231 543h0M231 546h0M231 543h0M231 542h0M231 545h0M232 506h0M232 512h0M232 513h0M232 509h0M232 545h0M231 542h0M232 541h0M231 549h0M233 515h0M233 513h0M233 513h0M233 514h0M233 515h0M233 511h0M233 507h0M233 541h0M233 544h0M232 542h0M233 545h0M233 546h0M233 542h0M234 512h0M235 545h0M234 553h0M234 545h0M234 550h0M234 540h0M234 542h0M234 549h0M235 505h0M235 548h0M235 545h0M235 544h0M235 543h0M235 540h0M235 551h0M235 542h0M236 511h0M236 543h0M236 540h0M236 540h0M237 541h0M237 512h0M237 514h0M237 510h0M236 543h0M237 543h0M237 541h0M237 543h0M237 544h0M236 553h0M237 543h0M238 513h0M238 509h0M238 506h0M238 545h0M238 542h0M238 546h0M239 544h0M238 545h0M237 547h0M238 542h0M238 542h0M239 512h0M238 515h0M239 512h0M240 550h0M239 543h0M239 544h0M240 543h0M240 542h0M240 511h0M239 500h0M240 506h0M240 508h0M240 509h0M240 544h0M240 549h0M240 543h0M241 543h0M239 546h0M240 546h0M241 508h0M241 503h0M241 515h0M240 514h0M241 544h0M242 506h0M242 510h0M242 514h0M242 513h0M242 504h0M243 509h0M241 511h0M241 547h0M242 543h0M242 550h0M242 541h0M243 513h0M243 511h0M243 509h0M243 513h0M243 507h0M243 510h0M243 543h0M242 545h0M243 547h0M243 550h0M243 543h0M244 507h0M244 514h0M244 541h0M244 551h0M244 543h0M245 540h0M244 543h0M244 540h0M245 516h0M244 547h0M245 542h0M245 545h0M245 546h0M246 508h0M246 510h0M246 549h0M246 542h0M247 510h0M247 540h0M248 538h0M248 538h0M248 540h0M249 548h0M250 512h0M250 513h0M250 543h0M250 547h0M251 511h0M251 510h0M251 512h0M252 511h0M251 511h0M250 542h0M252 505h0M252 512h0M252 511h0M252 503h0M252 508h0M252 510h0M252 498h0M252 510h0M252 509h0M252 540h0M253 510h0M253 512h0M254 514h0M253 512h0M254 513h0M253 507h0M255 512h0M254 507h0M254 509h0M254 515h0M255 512h0M255 515h0M255 510h0M256 511h0M256 512h0M256 510h0M257 547h0M256 513h0M257 508h0M257 512h0M256 510h0M257 542h0M257 541h0M258 507h0M258 508h0M258 513h0M257 510h0M259 513h0M258 541h0M258 548h0M258 543h0M258 542h0M259 510h0M259 511h0M259 513h0M258 510h0M259 542h0M259 541h0M258 541h0M259 553h0M260 508h0M260 514h0M260 502h0M260 511h0M260 548h0M260 548h0M260 541h0M261 513h0M261 504h0M261 512h0M261 513h0M261 508h0M261 513h0M260 544h0M261 541h0M261 541h0M261 541h0M261 543h0M262 541h0M262 544h0M261 546h0M263 510h0M263 509h0M263 543h0M263 542h0M263 546h0M263 543h0M263 541h0M263 547h0M264 506h0M264 515h0M264 507h0M263 512h0M264 543h0M264 543h0M264 543h0M264 545h0M265 499h0M265 506h0M265 503h0M265 514h0M265 513h0M265 546h0M265 545h0M265 549h0M265 542h0M266 509h0M266 510h0M266 509h0M265 510h0M266 511h0M266 541h0M267 506h0M267 509h0M267 502h0M267 508h0M268 509h0M268 505h0M267 511h0M268 513h0M267 509h0M267 542h0M268 507h0M268 513h0M269 514h0M267 513h0M268 511h0M268 505h0M268 512h0M268 544h0M269 513h0M269 514h0M268 510h0M269 513h0M269 515h0M269 513h0M269 512h0M269 511h0M269 539h0M269 541h0M268 539h0M270 512h0M270 508h0M270 508h0M270 512h0M269 542h0M270 545h0M270 544h0M270 540h0M270 540h0M270 544h0M270 545h0M271 506h0M271 552h0M272 546h0M271 547h0M271 544h0M272 513h0M272 513h0M273 542h0M272 541h0M272 550h0M272 542h0M272 541h0M272 549h0M273 512h0M273 514h0M273 514h0M273 544h0M274 542h0M273 541h0M274 543h0M275 510h0M275 510h0M275 502h0M275 514h0M276 546h0M275 547h0M274 541h0M276 513h0M276 507h0M276 511h0M276 506h0M276 512h0M276 542h0M276 551h0M276 554h0M276 551h0M276 544h0M276 547h0M276 543h0M275 545h0M277 506h0M277 512h0M277 512h0M277 506h0M278 513h0M277 506h0M277 545h0M277 542h0M277 546h0M277 545h0M277 547h0M276 548h0M277 546h0M278 512h0M278 512h0M278 502h0M278 544h0M278 540h0M277 542h0M278 545h0M278 541h0M279 545h0M279 541h0M279 548h0M280 503h0M281 549h0M281 545h0M281 539h0M280 542h0M280 540h0M280 545h0M280 541h0M281 504h0M281 506h0M281 542h0M281 542h0M281 542h0M281 545h0M283 515h0M282 546h0M283 514h0M283 508h0M283 505h0M283 548h0M284 498h0M283 516h0M284 512h0M284 504h0M284 546h0M284 511h0M284 503h0M285 507h0M285 506h0M285 514h0M285 543h0M285 543h0M286 505h0M286 513h0M287 502h0M286 511h0M286 501h0M286 512h0M286 549h0M286 540h0M287 512h0M287 508h0M286 509h0M286 511h0M287 513h0M287 547h0M287 549h0M287 547h0M287 545h0M287 542h0M287 551h0M287 546h0M287 509h0M288 544h0M288 548h0M289 512h0M289 511h0M289 542h0M289 542h0M289 544h0M290 510h0M290 515h0M290 501h0M290 512h0M290 546h0M291 509h0M291 505h0M292 512h0M291 512h0M291 513h0M291 509h0M291 551h0M292 504h0M292 509h0M292 512h0M292 508h0M292 513h0M292 512h0M292 510h0M292 542h0M293 512h0M293 514h0M293 508h0M293 545h0M293 542h0M294 503h0M294 503h0M294 513h0M294 504h0M294 508h0M294 543h0M294 544h0M294 547h0M295 513h0M295 507h0M295 504h0M295 514h0M294 513h0M294 502h0M295 507h0M295 545h0M295 543h0M296 506h0M296 513h0M296 502h0M296 506h0M296 513h0M296 505h0M296 513h0M296 509h0M296 513h0M296 507h0M296 510h0M297 503h0M297 512h0M297 499h0M297 510h0M297 512h0M297 503h0M297 497h0M298 510h0M297 503h0M297 509h0M297 498h0M297 549h0M298 509h0M298 507h0M298 504h0M297 508h0M298 506h0M298 514h0M298 512h0M298 512h0M299 513h0M298 542h0M298 513h0M299 509h0M299 514h0M299 511h0M300 508h0M299 508h0M299 497h0M300 504h0M300 512h0M300 511h0M300 511h0M300 510h0M300 501h0M300 511h0M300 510h0M300 510h0M300 511h0M300 545h0M302 505h0M301 504h0M301 510h0M301 507h0M301 507h0M302 502h0M300 509h0M301 504h0M301 507h0M301 549h0M302 500h0M302 502h0M301 497h0M302 508h0M302 504h0M303 509h0M302 507h0M302 509h0M302 513h0M302 513h0M302 502h0M301 509h0M302 512h0M302 506h0M302 512h0M302 541h0M302 540h0M302 541h0M303 544h0M302 540h0M302 543h0M302 544h0M302 504h0M303 507h0M303 511h0M303 511h0M303 502h0M304 507h0M304 502h0M303 510h0M302 512h0M303 513h0M303 497h0M304 507h0M303 512h0M303 541h0M303 540h0M303 542h0M303 541h0M304 509h0M304 511h0M304 512h0M304 506h0M304 507h0M304 512h0M304 513h0M304 506h0M305 510h0M303 507h0M304 544h0M306 511h0M305 513h0M305 505h0M305 512h0M305 507h0M304 509h0M305 509h0M305 505h0M305 507h0M305 505h0M305 505h0M305 507h0M305 549h0M305 544h0M305 544h0M307 503h0M306 507h0M306 512h0M306 511h0M306 509h0M306 510h0M305 507h0M307 512h0M306 509h0M307 514h0M306 514h0M306 508h0M306 545h0M307 507h0M308 512h0M308 508h0M307 511h0M307 511h0M307 508h0M307 501h0M307 546h0M307 543h0M307 551h0M308 549h0M307 548h0M308 550h0M307 546h0M307 547h0M308 513h0M308 512h0M308 503h0M308 511h0M308 511h0M309 506h0M308 508h0M308 542h0M308 551h0M308 546h0M309 544h0M308 544h0M308 554h0M308 546h0M308 544h0M308 542h0M307 549h0M309 512h0M309 510h0M308 513h0M309 502h0M309 498h0M309 543h0M309 549h0M309 543h0M309 546h0M309 546h0M309 542h0M309 542h0M309 544h0M309 548h0M310 507h0M311 551h0M310 547h0M310 542h0M309 545h0M310 545h0M310 547h0M310 546h0M311 546h0M311 499h0M310 511h0M311 514h0M311 541h0M310 540h0M312 516h0M312 508h0M314 515h0M313 516h0M313 516h0M314 516h0M314 509h0M314 513h0M314 516h0M313 503h0M314 510h0M315 515h0M314 506h0M316 515h0M315 550h0M316 506h0M316 506h0M317 513h0M316 509h0M316 507h0M317 513h0M317 508h0M317 515h0M318 511h0M317 546h0M318 508h0M318 514h0M318 509h0M319 506h0M318 507h0M318 544h0M318 544h0M319 510h0M319 510h0M319 494h0M319 505h0M319 552h0M319 545h0M319 546h0M319 550h0M320 514h0M320 550h0M320 553h0M320 547h0M319 544h0M320 550h0M320 545h0M321 542h0M321 543h0M321 543h0M321 550h0M321 542h0M321 543h0M322 545h0M322 552h0M322 545h0M323 551h0M322 552h0M323 549h0M324 547h0M323 547h0M323 545h0M323 545h0M323 550h0M324 509h0M323 511h0M324 509h0M324 512h0M324 507h0M324 515h0M324 545h0M324 548h0M323 546h0M324 550h0M324 547h0M324 551h0M325 510h0M325 513h0M326 504h0M325 505h0M325 508h0M325 543h0M325 545h0M327 509h0M326 512h0M326 509h0M326 512h0M326 513h0M326 509h0M325 543h0M327 513h0M327 511h0M328 509h0M327 504h0M327 547h0M326 544h0M327 548h0M329 512h0M328 509h0M328 508h0M328 513h0M328 512h0M327 499h0M329 514h0M329 551h0M329 512h0M329 513h0M329 512h0M329 512h0M329 511h0M330 509h0M329 507h0M329 509h0M329 508h0M329 547h0M329 544h0M329 551h0M330 511h0M330 511h0M330 511h0M331 515h0M330 514h0M330 504h0M330 506h0M330 512h0M330 545h0M330 544h0M330 546h0M330 545h0M330 545h0M330 550h0M331 508h0M331 511h0M331 506h0M331 514h0M331 504h0M331 510h0M331 510h0M332 508h0M331 543h0M331 552h0M332 515h0M333 546h0M334 546h0M333 544h0M332 550h0M334 516h0M334 550h0M334 551h0M335 510h0M336 517h0M335 515h0M335 514h0M335 517h0M335 517h0M335 516h0M335 546h0M335 547h0M336 513h0M336 510h0M335 510h0M336 509h0M336 513h0M336 508h0M336 509h0M336 516h0M336 507h0M336 515h0M337 516h0M336 509h0M337 515h0M336 545h0M335 543h0M336 544h0M335 550h0M335 552h0M337 507h0M337 509h0M337 510h0M337 500h0M337 511h0M337 503h0M338 515h0M337 509h0M337 513h0M337 542h0M337 549h0M338 544h0M338 511h0M338 505h0M338 516h0M338 513h0M338 506h0M338 515h0M338 503h0M339 514h0M338 543h0M338 548h0M338 550h0M337 547h0M338 552h0M339 509h0M339 511h0M339 509h0M339 513h0M339 512h0M339 507h0M339 515h0M339 513h0M339 544h0M339 543h0M339 544h0M339 545h0M340 513h0M340 511h0M340 511h0M340 507h0M339 510h0M340 502h0M340 511h0M340 512h0M340 500h0M340 509h0M340 514h0M340 510h0M340 507h0M340 504h0M340 547h0M341 516h0M341 509h0M341 508h0M342 510h0M341 507h0M341 510h0M342 508h0M341 505h0M341 503h0M341 512h0M341 549h0M341 548h0M342 511h0M342 508h0M342 513h0M342 510h0M342 515h0M342 515h0M342 509h0M342 515h0M342 511h0M343 509h0M343 508h0M343 511h0M343 512h0M343 515h0M343 507h0M343 501h0M343 506h0M343 506h0M343 550h0M343 550h0M344 502h0M344 510h0M344 511h0M344 513h0M343 511h0M344 514h0M344 507h0M344 549h0M344 547h0M343 552h0M344 545h0M344 544h0M345 512h0M345 509h0M345 511h0M345 509h0M345 509h0M345 545h0M346 547h0M345 545h0M345 545h0M344 546h0M345 551h0M344 549h0M346 515h0M346 510h0M346 506h0M346 511h0M346 513h0M346 504h0M346 544h0M346 551h0M346 548h0M346 544h0M346 544h0M347 512h0M347 511h0M347 506h0M347 515h0M347 509h0M347 502h0M347 513h0M347 545h0M347 552h0M347 545h0M347 553h0M347 549h0M348 510h0M348 509h0M347 507h0M348 511h0M348 511h0M348 546h0M348 543h0M348 543h0M348 548h0M348 547h0M348 548h0M349 509h0M349 510h0M349 514h0M349 545h0M349 556h0M348 549h0M349 546h0M350 546h0M349 546h0M349 549h0M349 547h0M350 507h0M350 508h0M350 514h0M350 510h0M350 506h0M350 545h0M350 544h0M350 544h0M350 543h0M350 545h0M350 543h0M350 545h0M350 549h0M350 545h0M350 512h0M351 509h0M351 509h0M350 543h0M351 549h0M351 543h0M351 544h0M351 545h0M351 510h0M352 510h0M352 509h0M352 513h0M352 513h0M352 504h0M353 513h0M352 545h0M352 545h0M353 515h0M353 514h0M353 515h0M352 511h0M353 547h0M354 514h0M354 512h0M354 544h0M355 503h0M354 513h0M355 512h0M355 502h0M355 507h0M355 542h0M355 515h0M356 502h0M356 506h0M356 512h0M356 545h0M356 543h0M357 546h0M356 543h0M355 548h0M356 554h0M356 547h0M357 512h0M357 503h0M357 515h0M357 546h0M358 550h0M357 544h0M357 546h0M357 548h0M357 549h0M357 512h0M358 502h0M357 511h0M358 514h0M358 514h0M358 516h0M358 552h0M358 547h0M358 541h0M358 544h0M358 547h0M360 513h0M359 516h0M359 512h0M359 511h0M359 504h0M359 543h0M360 545h0M359 546h0M360 548h0M360 544h0M360 548h0M360 551h0M360 544h0M361 548h0M361 508h0M362 513h0M362 510h0M363 510h0M362 544h0M363 511h0M363 508h0M363 511h0M362 510h0M364 549h0M364 552h0M363 548h0M365 517h0M364 517h0M364 515h0M364 515h0M364 513h0M364 512h0M364 517h0M363 517h0M364 510h0M364 548h0M363 544h0M364 550h0M364 546h0M365 551h0M365 546h0M364 550h0M364 514h0M365 515h0M365 517h0M365 515h0M365 511h0M366 506h0M365 512h0M365 508h0M366 517h0M365 551h0M365 550h0M364 548h0M365 545h0M366 548h0M365 545h0M364 547h0M366 516h0M366 515h0M366 512h0M366 508h0M366 514h0M365 507h0M366 516h0M366 514h0M365 548h0M366 550h0M366 547h0M365 549h0M367 510h0M367 515h0M367 510h0M367 514h0M367 508h0M367 510h0M367 510h0M367 505h0M367 509h0M367 513h0M367 515h0M367 515h0M368 550h0M367 512h0M368 511h0M368 497h0M367 510h0M368 513h0M368 514h0M368 512h0M367 551h0M369 552h0M370 511h0M370 514h0M371 548h0M370 503h0M371 512h0M371 512h0M371 510h0M371 509h0M371 547h0M371 544h0M371 501h0M372 512h0M372 507h0M371 512h0M372 513h0M372 548h0M372 552h0M372 546h0M372 553h0M373 509h0M373 513h0M373 512h0M372 549h0M374 547h0M373 549h0M373 546h0M373 547h0M374 550h0M373 504h0M373 510h0M374 508h0M373 513h0M374 509h0M375 549h0M374 549h0M374 546h0M375 545h0M375 554h0M375 503h0M376 513h0M375 515h0M375 509h0M375 510h0M375 515h0M375 505h0M375 513h0M375 545h0M375 545h0M375 548h0M375 546h0M375 548h0M375 546h0M376 508h0M376 510h0M376 515h0M376 515h0M377 515h0M376 506h0M376 511h0M375 516h0M376 550h0M376 549h0M376 550h0M377 550h0M376 545h0M376 548h0M377 546h0M376 545h0M377 509h0M377 514h0M377 511h0M377 511h0M377 553h0M377 546h0M377 546h0M377 547h0M376 553h0M377 545h0M377 547h0M377 548h0M377 548h0M377 546h0M378 515h0M378 511h0M378 513h0M378 513h0M378 550h0M378 547h0M378 552h0M378 544h0M378 552h0M378 549h0M379 550h0M378 551h0M378 545h0M378 550h0M378 547h0M377 549h0M379 516h0M379 509h0M379 512h0M379 514h0M379 506h0M379 546h0M379 545h0M379 546h0M379 547h0M379 548h0M379 547h0M381 508h0M380 548h0M380 551h0M380 550h0M380 546h0M381 511h0M380 515h0M381 514h0M381 510h0M381 545h0M381 544h0M381 546h0M381 547h0M380 547h0M381 543h0M382 510h0M382 545h0M382 548h0M382 544h0M382 502h0M383 511h0M383 512h0M383 515h0M384 512h0M383 510h0M383 512h0M383 554h0M383 551h0M384 513h0M384 513h0M385 512h0M384 505h0M385 546h0M384 547h0M385 514h0M385 512h0M385 499h0M385 514h0M385 511h0M385 507h0M385 515h0M385 549h0M385 513h0M385 511h0M386 512h0M386 512h0M386 512h0M387 510h0M386 509h0M386 550h0M385 553h0M386 548h0M386 549h0M387 513h0M387 551h0M387 547h0M387 548h0M387 546h0M388 513h0M388 512h0M388 513h0M389 551h0M388 544h0M388 546h0M388 551h0M389 551h0M388 548h0M388 550h0M389 510h0M389 552h0M389 546h0M389 546h0M389 551h0M390 547h0M389 548h0M390 508h0M389 546h0M390 547h0M390 548h0M390 548h0M390 548h0M390 551h0M390 548h0M390 549h0M390 547h0M391 509h0M391 514h0M391 545h0M391 550h0M391 545h0M390 546h0M390 546h0M390 546h0M392 546h0M392 502h0M392 547h0M392 548h0M392 543h0M393 546h0M392 545h0M393 509h0M393 545h0M394 549h0M394 512h0M395 512h0M394 547h0M394 549h0M394 555h0M395 548h0M395 513h0M395 506h0M396 507h0M396 497h0M395 511h0M395 550h0M396 545h0M395 551h0M395 547h0M396 508h0M396 505h0M396 511h0M397 505h0M396 512h0M396 512h0M395 511h0M396 548h0M395 553h0M397 509h0M397 501h0M397 503h0M397 499h0M398 503h0M397 513h0M397 511h0M398 547h0M397 544h0M398 504h0M397 548h0M399 504h0M399 550h0M398 549h0M400 506h0M400 553h0M401 554h0M401 548h0M401 511h0M401 544h0M402 549h0M402 509h0M402 545h0M403 546h0M403 514h0M403 506h0M404 513h0M403 550h0M403 549h0M403 545h0M403 545h0M402 552h0M404 549h0M404 549h0M404 503h0M404 509h0M404 516h0M404 549h0M405 545h0M404 546h0M404 549h0M404 548h0M404 546h0M404 548h0M405 511h0M405 508h0M405 505h0M405 548h0M404 547h0M405 549h0M405 551h0M405 550h0M405 548h0M405 552h0M407 554h0M406 548h0M406 553h0M406 547h0M406 552h0M406 551h0M406 553h0M406 556h0M406 549h0M407 515h0M407 549h0M407 552h0M407 547h0M407 554h0M407 550h0M407 550h0M408 503h0M408 510h0M408 510h0M408 548h0M408 552h0M408 548h0M408 548h0M408 548h0M408 556h0M409 512h0M409 514h0M409 516h0M409 550h0M409 550h0M409 552h0M409 546h0M410 547h0M409 552h0M410 514h0M410 510h0M410 514h0M410 502h0M410 548h0M410 553h0M410 545h0M409 551h0M411 513h0M411 504h0M411 509h0M413 509h0M412 507h0M412 550h0M412 548h0M413 552h0M412 552h0M412 547h0M412 551h0M413 546h0M413 546h0M413 550h0M413 546h0M413 546h0M413 546h0M414 513h0M415 545h0M413 545h0M414 548h0M414 553h0M414 544h0M415 512h0M415 508h0M416 546h0M415 547h0M415 547h0M415 545h0M416 551h0M416 547h0M416 547h0M416 546h0M417 549h0M417 515h0M417 511h0M417 510h0M417 510h0M417 551h0M417 548h0M418 509h0M418 507h0M418 504h0M418 517h0M418 509h0M418 508h0M418 546h0M418 550h0M418 517h0M419 500h0M419 550h0M419 545h0M418 549h0M420 513h0M420 513h0M420 511h0M420 513h0M420 510h0M420 547h0M420 549h0M420 551h0M420 549h0M420 549h0M420 550h0M421 515h0M421 512h0M421 509h0M421 512h0M421 515h0M421 515h0M421 548h0M421 551h0M421 550h0M422 546h0M421 547h0M422 513h0M422 508h0M422 514h0M422 514h0M422 512h0M422 514h0M422 509h0M422 514h0M422 546h0M422 546h0M421 547h0M422 551h0M424 504h0M424 511h0M423 510h0M423 509h0M423 514h0M423 511h0M423 517h0M424 551h0M423 548h0M424 505h0M423 513h0M425 504h0M423 511h0M424 512h0M424 547h0M424 553h0M424 547h0M424 547h0M425 515h0M425 508h0M425 499h0M425 554h0M425 546h0M425 547h0M425 508h0M426 514h0M426 510h0M426 516h0M426 550h0M427 549h0M426 547h0M426 552h0M427 551h0M426 548h0M426 550h0M425 550h0M426 552h0M427 557h0M427 549h0M428 505h0M428 516h0M429 515h0M428 501h0M428 549h0M429 557h0M428 547h0M429 551h0M428 547h0M428 553h0M429 517h0M429 514h0M429 550h0M429 549h0M429 552h0M429 547h0M428 548h0M429 548h0M429 548h0M429 551h0M431 517h0M430 515h0M430 512h0M430 517h0M430 516h0M430 517h0M431 547h0M430 548h0M430 548h0M430 551h0M430 548h0M431 498h0M431 510h0M432 516h0M430 511h0M430 518h0M430 509h0M431 513h0M431 512h0M431 545h0M430 546h0M432 546h0M432 511h0M432 516h0M433 545h0M433 553h0M433 546h0M434 505h0M434 554h0M433 549h0M434 547h0M435 557h0M433 547h0M435 546h0M434 550h0M434 546h0M435 546h0M435 556h0M435 546h0M436 553h0M436 551h0M437 508h0M438 554h0M437 556h0M438 550h0M439 507h0M438 515h0M438 552h0M438 548h0M438 558h0M438 548h0M438 549h0M439 551h0M439 550h0M439 552h0M440 552h0M439 554h0M439 553h0M439 550h0M440 504h0M440 507h0M440 552h0M439 552h0M440 561h0M440 555h0M440 558h0M440 551h0M440 549h0M440 556h0M441 553h0M440 549h0M441 547h0M441 549h0M441 549h0M442 507h0M442 513h0M441 515h0M442 551h0M442 553h0M443 509h0M443 515h0M443 506h0M442 507h0M443 509h0M442 515h0M443 508h0M443 516h0M443 554h0M444 511h0M444 515h0M444 516h0M444 515h0M444 515h0M444 510h0M444 514h0M443 546h0M444 547h0M444 546h0M443 547h0M444 558h0M444 546h0M444 546h0M445 503h0M444 517h0M445 518h0M445 510h0M445 509h0M445 549h0M445 555h0M445 548h0M445 548h0M445 549h0M446 507h0M447 552h0M446 551h0M447 515h0M447 510h0M447 554h0M446 556h0M448 511h0M449 506h0M448 554h0M448 547h0M448 548h0M448 549h0M449 517h0M449 515h0M449 559h0M450 510h0M450 515h0M450 511h0M450 513h0M450 506h0M451 548h0M450 513h0M451 515h0M452 516h0M452 517h0M452 516h0M452 518h0M452 548h0M452 550h0M454 507h0M453 508h0M453 517h0M453 514h0M454 515h0M453 515h0M452 517h0M453 512h0M454 516h0M454 505h0M454 515h0M455 514h0M455 515h0M454 512h0M454 514h0M455 516h0M455 507h0M454 548h0M454 550h0M454 558h0M454 555h0M454 547h0M455 513h0M456 514h0M455 506h0M455 508h0M454 505h0M455 548h0M455 553h0M455 546h0M456 516h0M456 514h0M456 504h0M456 513h0M456 516h0M455 515h0M456 513h0M456 511h0M456 547h0M457 513h0M457 509h0M457 517h0M457 517h0M457 516h0M457 510h0M458 517h0M457 557h0M458 514h0M459 513h0M458 514h0M458 511h0M458 514h0M458 512h0M458 517h0M458 513h0M458 517h0M458 511h0M458 554h0M459 509h0M460 512h0M459 506h0M459 499h0M459 513h0M459 513h0M459 511h0M459 515h0M459 546h0M460 511h0M460 513h0M460 515h0M461 512h0M460 510h0M460 515h0M460 511h0M460 515h0M461 514h0M460 505h0M460 552h0M460 554h0M460 547h0M460 547h0M460 500h0M461 509h0M461 514h0M461 548h0M461 547h0M461 547h0M461 545h0M461 545h0M462 509h0M462 515h0M462 512h0M461 505h0M462 549h0M463 547h0M462 547h0M463 509h0M463 546h0M464 546h0M463 553h0M462 549h0M463 550h0M463 548h0M464 548h0M463 547h0M465 547h0M464 547h0M464 551h0M464 547h0M465 548h0M465 553h0M465 552h0M465 548h0M465 550h0M465 546h0M465 552h0M466 511h0M466 514h0M466 548h0M466 552h0M466 550h0M466 554h0M466 548h0M466 550h0M466 550h0M466 547h0M466 549h0M467 512h0M467 507h0M468 512h0M467 546h0M467 548h0M467 551h0M466 555h0M467 556h0M467 546h0M468 508h0M468 512h0M468 513h0M467 511h0M469 513h0M468 514h0M468 512h0M468 515h0M468 514h0M468 502h0M468 546h0M468 550h0M469 548h0M468 550h0M468 546h0M469 557h0M469 507h0M469 514h0M469 512h0M468 511h0M468 508h0M469 510h0M469 512h0M470 514h0M469 511h0M469 547h0M469 546h0M468 546h0M468 546h0M470 509h0M470 515h0M470 514h0M470 510h0M470 511h0M470 512h0M471 514h0M470 516h0M470 516h0M470 513h0M470 558h0M470 550h0M471 552h0M470 548h0M470 549h0M469 550h0M470 547h0M472 515h0M471 515h0M471 515h0M471 513h0M471 554h0M471 550h0M472 550h0M471 554h0M471 549h0M471 549h0M471 547h0M471 549h0M472 514h0M472 511h0M472 514h0M472 517h0M472 551h0M473 548h0M472 549h0M472 511h0M473 549h0M473 549h0M473 547h0M473 553h0M473 547h0M475 516h0M474 499h0M475 546h0M474 546h0M474 546h0M473 548h0M475 547h0M474 547h0M474 555h0M475 508h0M475 514h0M475 511h0M475 551h0M475 549h0M475 552h0M475 548h0M474 548h0M475 549h0M475 546h0M476 515h0M476 517h0M476 512h0M476 514h0M476 551h0M476 549h0M477 552h0M476 555h0M476 554h0M477 515h0M477 512h0M477 509h0M477 502h0M477 507h0M477 515h0M477 511h0M477 553h0M477 550h0M478 557h0M477 549h0M478 511h0M478 509h0M478 517h0M478 516h0M478 518h0M478 518h0M477 517h0M479 510h0M478 553h0M478 549h0M478 550h0M479 518h0M479 512h0M479 518h0M479 514h0M479 515h0M479 510h0M479 514h0M479 516h0M478 545h0M480 545h0M480 513h0M480 512h0M480 507h0M480 509h0M479 518h0M480 548h0M480 546h0M480 549h0M481 513h0M482 514h0M481 512h0M481 516h0M481 505h0M481 551h0M481 548h0M480 551h0M481 545h0M481 550h0M482 510h0M482 507h0M481 511h0M482 514h0M482 513h0M482 505h0M482 545h0M482 551h0M481 549h0M482 546h0M482 548h0M482 548h0M482 545h0M483 512h0M483 513h0M483 504h0M482 515h0M483 511h0M483 512h0M483 553h0M483 549h0M483 548h0M483 549h0M483 547h0M483 554h0M483 552h0M483 510h0M484 552h0M484 547h0M484 553h0M484 554h0M484 547h0M484 547h0M484 548h0M485 509h0M484 504h0M485 508h0M485 557h0M485 549h0M484 553h0M485 548h0M485 549h0M486 548h0M486 547h0M486 552h0M486 549h0M487 509h0M487 507h0M487 505h0M486 547h0M487 549h0M487 546h0M487 546h0M487 545h0M487 552h0M488 513h0M488 516h0M488 549h0M488 546h0M488 552h0M488 547h0M488 552h0M488 549h0M489 511h0M489 553h0M490 549h0M489 550h0M489 548h0M489 557h0M489 552h0M489 549h0M489 548h0M489 551h0M489 550h0M490 515h0M490 554h0M490 548h0M490 548h0M490 548h0M491 548h0M490 551h0M490 561h0M491 547h0M489 555h0M491 514h0M491 551h0M491 553h0M491 551h0M491 548h0M491 548h0M490 551h0M492 509h0M492 509h0M492 548h0M492 549h0M493 550h0M493 517h0M493 513h0M493 515h0M494 513h0M494 510h0M495 506h0M494 508h0M494 546h0M494 550h0M493 547h0M495 516h0M495 517h0M495 517h0M495 516h0M495 510h0M495 516h0M495 545h0M495 546h0M495 545h0M494 549h0M496 513h0M496 515h0M496 515h0M496 552h0M496 548h0M496 549h0M496 551h0M496 551h0M498 515h0M498 511h0M497 554h0M497 550h0M497 549h0M497 547h0M497 554h0M497 552h0M499 510h0M498 516h0M498 552h0M498 548h0M498 559h0M498 555h0M498 554h0M497 547h0M497 551h0M499 515h0M499 507h0M499 514h0M499 515h0M499 514h0M499 550h0M499 549h0M499 548h0M498 552h0M499 552h0M499 550h0M499 552h0M499 549h0M500 512h0M499 511h0M500 511h0M500 554h0M500 548h0M500 551h0M500 548h0M500 549h0M500 551h0M500 552h0M500 551h0M501 548h0M502 548h0M501 547h0M501 549h0M501 549h0M501 552h0M501 553h0M501 547h0M501 557h0M500 553h0M502 513h0M502 557h0M501 551h0M502 548h0M502 547h0M502 548h0M502 553h0M502 551h0M502 553h0M503 554h0M503 555h0M502 560h0M503 550h0M503 549h0M503 550h0M504 553h0M504 514h0M504 548h0M504 547h0M504 549h0M503 550h0M505 547h0M505 547h0M505 548h0M506 556h0M507 552h0M506 551h0M507 511h0M508 516h0M508 549h0M508 549h0M509 550h0M509 550h0M508 549h0M510 555h0M510 548h0M510 554h0M512 514h0M512 514h0M512 517h0M512 513h0M512 550h0M513 553h0M514 518h0M514 517h0M514 513h0M514 554h0M515 514h0M515 510h0M515 515h0M515 513h0M515 516h0M515 514h0M516 554h0M515 549h0M516 517h0M515 512h0M516 514h0M516 515h0M516 515h0M516 514h0M516 512h0M516 547h0M517 513h0M518 512h0M517 515h0M517 512h0M516 553h0M517 552h0M518 556h0M517 551h0M518 512h0M518 514h0M518 512h0M518 557h0M518 548h0M518 547h0M518 548h0M519 513h0M519 511h0M519 516h0M519 507h0M519 509h0M519 512h0M519 549h0M519 554h0M519 551h0M520 548h0M519 548h0M520 514h0M520 510h0M521 505h0M521 512h0M520 514h0M521 512h0M520 508h0M520 505h0M521 504h0M520 516h0M520 503h0M519 506h0M521 550h0M520 548h0M519 548h0M520 555h0M520 548h0M521 554h0M521 512h0M521 514h0M521 516h0M521 511h0M521 507h0M521 511h0M521 516h0M520 510h0M521 511h0M522 515h0M520 551h0M521 554h0M521 552h0M521 550h0M521 551h0M521 552h0M521 513h0M522 509h0M522 513h0M522 506h0M523 509h0M522 507h0M522 511h0M523 559h0M522 551h0M522 551h0M522 550h0M522 549h0M522 549h0M523 504h0M523 512h0M522 513h0M523 515h0M523 509h0M524 508h0M524 510h0M523 508h0M523 513h0M524 550h0M523 550h0M524 558h0M523 551h0M524 516h0M524 510h0M524 511h0M524 511h0M524 516h0M524 515h0M524 552h0M525 553h0M524 549h0M524 551h0M524 550h0M524 559h0M525 518h0M524 514h0M525 508h0M525 515h0M525 515h0M525 515h0M525 549h0M525 558h0M525 555h0M525 549h0M525 550h0M526 517h0M526 516h0M526 516h0M526 517h0M526 551h0M526 560h0M527 512h0M528 514h0M527 511h0M527 515h0M527 548h0M527 555h0M527 548h0M527 549h0M527 549h0M528 514h0M528 553h0M529 551h0M529 514h0M529 511h0M529 549h0M529 554h0M529 550h0M529 551h0M529 548h0M530 548h0M530 546h0M530 549h0M531 508h0M532 547h0M532 547h0M532 508h0M533 553h0M532 551h0M532 547h0M533 506h0M533 552h0M533 547h0M533 548h0M534 507h0M534 514h0M534 511h0M534 516h0M534 514h0M535 502h0M534 550h0M534 549h0M534 547h0M533 553h0M534 554h0M535 513h0M535 512h0M535 510h0M534 510h0M534 514h0M534 515h0M535 515h0M535 548h0M534 558h0M535 552h0M536 514h0M536 518h0M536 515h0M536 517h0M537 518h0M536 547h0M536 549h0M536 547h0M536 548h0M538 513h0M537 514h0M538 516h0M537 512h0M536 515h0M537 512h0M537 513h0M538 513h0M538 555h0M540 510h0M540 548h0M541 554h0M540 547h0M540 547h0M541 552h0M542 552h0M541 546h0M541 551h0M541 557h0M541 551h0M542 545h0M542 548h0M542 550h0M542 546h0M543 547h0M544 551h0M544 548h0M543 551h0M544 512h0M545 550h0M544 552h0M544 548h0M544 546h0M544 546h0M544 547h0M545 514h0M544 507h0M545 508h0M545 514h0M546 514h0M545 513h0M545 554h0M545 548h0M545 549h0M546 547h0M546 549h0M545 551h0M545 516h0M546 514h0M546 508h0M546 513h0M546 510h0M546 550h0M546 554h0M547 503h0M547 514h0M547 510h0M547 509h0M547 517h0M546 511h0M547 553h0M548 549h0M547 550h0M547 547h0M547 548h0M547 547h0M548 514h0M548 508h0M548 514h0M548 550h0M548 548h0M548 553h0M548 550h0M548 560h0M548 556h0M548 559h0M548 558h0M549 558h0M549 561h0M549 515h0M549 515h0M550 512h0M549 516h0M549 511h0M549 552h0M549 549h0M548 550h0M549 550h0M550 549h0M549 547h0M549 549h0M549 551h0M550 517h0M550 508h0M550 510h0M550 512h0M550 548h0M550 556h0M550 552h0M550 549h0M550 552h0M550 555h0M551 518h0M551 513h0M551 556h0M551 549h0M551 552h0M552 549h0M551 552h0M551 548h0M551 557h0M551 556h0M552 552h0M552 515h0M552 516h0M552 513h0M552 552h0M552 552h0M552 557h0M552 552h0M552 550h0M552 550h0M553 516h0M553 515h0M553 511h0M553 516h0M553 551h0M553 552h0M552 551h0M553 549h0M553 553h0M553 550h0M553 557h0M554 513h0M554 510h0M554 548h0M554 549h0M554 548h0M554 550h0M554 552h0M555 511h0M555 550h0M555 549h0M556 553h0M556 556h0M554 552h0M555 514h0M556 550h0M556 552h0M556 550h0M556 551h0M557 517h0M557 552h0M557 548h0M557 553h0M557 552h0M559 518h0M561 549h0M560 547h0M560 547h0M561 553h0M562 548h0M561 551h0M561 551h0M561 556h0M563 561h0M562 549h0M562 549h0M563 516h0M563 517h0M563 514h0M563 560h0M562 550h0M563 550h0M565 514h0M564 515h0M564 513h0M564 551h0M564 558h0M565 555h0M565 552h0M565 508h0M565 512h0M565 513h0M564 514h0M565 551h0M565 550h0M566 514h0M566 515h0M566 515h0M566 518h0M566 553h0M566 553h0M567 548h0M568 517h0M567 517h0M567 551h0M567 551h0M567 555h0M567 554h0M566 549h0M566 556h0M568 516h0M568 515h0M568 508h0M568 517h0M568 551h0M568 553h0M569 549h0M569 517h0M570 516h0M569 504h0M569 511h0M569 553h0M569 551h0M569 551h0M569 548h0M569 553h0M569 554h0M570 516h0M570 515h0M571 513h0M570 547h0M570 549h0M570 552h0M570 549h0M570 547h0M570 551h0M572 516h0M571 514h0M572 508h0M571 512h0M571 547h0M571 548h0M571 552h0M571 556h0M571 555h0M571 548h0M572 549h0M572 510h0M572 510h0M573 512h0M572 506h0M572 515h0M572 518h0M572 514h0M571 550h0M572 547h0M572 545h0M573 546h0M573 547h0M572 551h0M573 553h0M572 515h0M573 512h0M573 505h0M573 505h0M573 511h0M573 514h0M573 552h0M573 553h0M573 546h0M574 510h0M574 512h0M574 517h0M574 514h0M574 518h0M574 512h0M574 516h0M574 553h0M574 555h0M574 553h0M575 515h0M575 518h0M575 546h0M575 556h0M575 548h0M574 548h0M576 511h0M576 550h0M576 553h0M576 549h0M577 514h0M577 551h0M577 547h0M577 548h0M577 547h0M577 547h0M578 508h0M577 549h0M578 550h0M578 547h0M578 558h0M578 547h0M578 548h0M578 552h0M580 514h0M580 515h0M581 510h0M581 511h0M581 515h0M582 515h0M583 513h0M582 515h0M582 514h0M583 502h0M583 514h0M584 516h0M583 514h0M585 516h0M584 515h0M584 515h0M584 506h0M584 505h0M585 505h0M585 514h0M585 511h0M585 517h0M585 548h0M585 546h0M585 548h0M585 546h0M585 548h0M586 515h0M585 513h0M586 516h0M585 508h0M586 516h0M585 515h0M586 510h0M586 549h0M587 553h0M586 545h0M586 546h0M586 546h0M587 513h0M587 515h0M587 514h0M586 516h0M587 509h0M587 551h0M587 546h0M586 546h0M587 549h0M588 517h0M588 511h0M588 515h0M588 514h0M588 555h0M588 551h0M588 551h0M588 555h0M588 555h0M589 517h0M589 510h0M589 516h0M589 550h0M589 552h0M589 549h0M589 516h0M590 514h0M590 548h0M590 550h0M591 551h0M590 549h0M592 514h0M591 514h0M591 550h0M591 547h0M591 547h0M591 552h0M591 548h0M591 547h0M592 514h0M592 552h0M592 551h0M592 554h0M592 551h0M592 547h0M592 557h0M591 552h0M593 508h0M593 547h0M594 550h0M594 547h0M593 554h0M594 547h0M593 549h0M594 512h0M594 517h0M594 549h0M594 550h0M594 548h0M594 547h0M595 511h0M595 513h0M595 553h0M595 554h0M595 555h0M594 549h0M595 551h0M596 517h0M596 517h0M596 516h0M595 516h0M596 554h0M596 551h0M597 514h0M596 510h0M597 515h0M597 509h0M596 554h0M597 550h0M596 549h0M598 517h0M599 510h0M599 516h0M599 549h0M599 513h0M600 511h0M601 514h0M600 514h0M600 551h0M600 551h0M601 515h0M601 506h0M601 508h0M601 508h0M601 554h0M601 553h0M601 551h0M601 554h0M600 549h0M602 514h0M602 510h0M602 510h0M602 551h0M601 552h0M603 552h0M602 559h0M602 551h0M602 554h0M602 555h0M602 550h0M603 517h0M603 556h0M603 552h0M603 561h0M603 557h0M603 550h0M602 554h0M604 515h0M604 551h0M604 557h0M604 551h0M604 554h0M605 515h0M605 512h0M605 511h0M606 552h0M606 512h0M607 514h0M607 513h0M606 513h0M606 511h0M606 514h0M606 556h0M606 556h0M606 553h0M608 515h0M607 515h0M607 511h0M607 514h0M607 510h0M607 550h0M607 551h0M609 515h0M608 515h0M608 514h0M608 515h0M608 515h0M609 517h0M609 514h0M609 516h0M609 513h0M609 511h0M609 557h0M610 509h0M610 517h0M610 515h0M610 516h0M611 553h0M610 548h0M610 556h0M611 514h0M611 516h0M611 514h0M611 508h0M611 514h0M611 553h0M611 551h0M611 554h0M611 551h0M611 552h0M611 549h0M612 514h0M612 511h0M613 515h0M612 517h0M612 551h0M612 550h0M612 555h0M612 550h0M612 549h0M612 552h0M612 554h0M613 515h0M613 512h0M613 517h0M612 554h0M614 549h0M613 552h0M613 554h0M613 555h0M613 549h0M614 515h0M615 550h0M615 554h0M614 549h0M615 514h0M614 552h0M615 550h0M615 557h0M616 552h0M614 551h0M616 557h0M617 516h0M617 557h0M617 551h0M618 516h0M618 554h0M617 552h0M618 556h0M619 551h0M619 513h0M619 518h0M619 518h0M619 551h0M619 554h0M619 556h0M618 551h0M619 551h0M619 553h0M620 513h0M620 517h0M620 511h0M620 553h0M621 514h0M621 516h0M621 556h0M621 551h0M621 560h0M621 558h0M621 517h0M622 515h0M622 517h0M622 554h0M622 561h0M623 553h0M622 550h0M622 552h0M623 516h0M623 515h0M623 554h0M623 555h0M623 551h0M624 554h0M625 550h0M625 553h0M624 553h0M625 548h0M625 559h0M625 550h0M625 550h0M626 550h0M626 553h0M626 554h0M626 550h0M626 557h0M626 550h0M626 554h0M626 560h0M627 550h0M626 553h0M626 554h0M627 516h0M627 553h0M626 554h0M627 549h0M627 551h0M627 555h0M627 551h0M626 556h0M627 555h0M628 550h0M628 554h0M628 549h0M628 554h0M628 551h0M628 551h0M628 551h0M628 553h0M628 548h0M629 511h0M629 513h0M629 553h0M629 552h0M628 553h0M629 551h0M629 551h0M629 551h0M629 549h0M630 548h0M630 513h0M630 514h0M630 551h0M630 556h0M630 554h0M630 549h0M630 557h0M631 518h0M631 551h0M631 558h0M632 514h0M631 513h0M633 552h0M633 549h0M634 517h0M634 516h0M634 554h0M635 506h0M635 553h0M635 555h0M635 516h0M636 550h0M635 550h0M637 517h0M637 518h0M637 518h0M637 552h0M636 552h0M637 550h0M637 552h0M637 557h0M637 554h0M638 512h0M638 516h0M638 556h0M639 519h0M638 518h0M639 520h0M639 551h0M640 517h0M640 515h0M640 550h0M641 551h0M641 517h0M641 518h0M642 515h0M642 513h0M642 518h0M643 510h0M643 514h0M643 519h0M642 550h0M643 553h0M643 551h0M644 518h0M644 510h0M644 515h0M644 520h0M644 514h0M644 551h0M644 557h0M643 553h0M644 551h0M645 514h0M645 515h0M645 512h0M645 516h0M645 557h0M645 559h0M645 552h0M644 550h0M646 517h0M646 552h0M646 550h0M645 550h0M647 516h0M647 516h0M647 553h0M649 514h0M648 515h0M649 517h0M648 519h0M649 520h0M649 556h0M649 554h0M649 553h0M650 517h0M650 515h0M650 514h0M650 563h0M650 550h0M650 560h0M650 553h0M650 551h0M650 518h0M651 515h0M651 519h0M652 518h0M651 513h0M652 516h0M652 511h0M652 516h0M653 518h0M652 513h0M652 551h0M652 553h0M652 555h0M653 517h0M653 507h0M654 510h0M654 518h0M654 511h0M654 552h0M655 513h0M654 510h0M656 516h0M656 520h0M658 519h0M658 517h0M660 515h0M660 514h0M660 511h0M661 519h0M661 519h0M661 552h0M662 515h0M662 516h0M662 519h0M662 551h0M662 553h0M662 557h0M663 519h0M662 517h0M663 510h0M663 518h0M663 554h0M663 549h0M663 551h0M664 513h0M664 510h0M663 516h0M664 510h0M664 552h0M664 550h0M664 550h0M664 549h0M664 551h0M664 553h0M665 517h0M666 511h0M665 552h0M665 552h0M665 550h0M666 551h0M666 550h0M666 550h0M666 556h0M666 550h0M667 551h0M667 551h0M667 549h0M667 553h0M667 550h0M667 555h0M667 550h0M668 556h0M668 553h0M668 550h0M668 554h0M669 553h0M670 549h0M669 549h0M671 551h0M670 559h0M671 518h0M671 515h0M671 550h0M671 551h0M672 519h0M673 515h0M672 553h0M672 550h0M673 549h0M672 562h0M672 555h0M673 516h0M673 512h0M673 516h0M673 552h0M673 548h0M673 555h0M673 548h0M673 551h0M673 551h0M673 551h0M674 518h0M674 514h0M675 517h0M674 519h0M673 517h0M674 514h0M674 552h0M674 551h0M675 549h0M673 548h0M674 556h0M675 520h0M675 521h0M675 551h0M674 551h0M676 517h0M676 518h0M676 552h0M677 520h0M677 517h0M677 516h0M678 521h0M678 555h0M677 557h0M677 557h0M678 554h0M679 554h0M677 551h0M678 552h0M678 556h0M678 554h0M678 551h0M679 553h0M679 561h0M678 556h0M679 553h0M679 560h0M679 555h0M679 554h0M679 565h0M679 556h0M681 554h0M680 556h0M680 554h0M680 552h0M680 552h0M680 558h0M679 563h0M680 560h0M681 519h0M681 560h0M681 553h0M681 555h0M682 555h0M681 559h0M681 557h0M680 553h0M681 557h0M681 558h0M682 515h0M681 553h0M683 556h0M682 551h0M682 558h0M682 555h0M682 552h0M682 551h0M683 517h0M683 512h0M683 552h0M683 553h0M682 553h0M684 553h0M683 550h0M683 550h0M684 511h0M684 514h0M684 554h0M684 551h0M684 554h0M684 554h0M684 557h0M685 516h0M685 510h0M685 552h0M685 551h0M685 557h0M685 553h0M685 554h0M685 557h0M686 516h0M686 552h0M686 554h0M686 556h0M686 551h0M686 553h0M686 551h0M687 553h0M686 553h0M685 554h0M688 520h0M687 552h0M688 551h0M687 554h0M687 552h0M687 555h0M687 554h0M687 553h0M687 554h0M687 558h0M686 552h0M687 550h0M688 514h0M688 511h0M689 518h0M688 520h0M688 559h0M688 560h0M688 552h0M688 557h0M688 551h0M689 559h0M688 552h0M688 552h0M688 552h0M688 564h0M689 514h0M689 514h0M689 520h0M689 517h0M689 552h0M688 559h0M689 554h0M689 551h0M689 555h0M689 556h0M689 552h0M689 558h0M689 551h0M690 516h0M690 551h0M690 558h0M690 553h0M690 551h0M690 556h0M689 554h0M689 552h0M690 557h0M691 519h0M692 520h0M690 553h0M691 553h0M691 553h0M691 561h0M690 555h0M690 552h0M691 556h0M691 551h0M691 554h0M691 553h0M690 555h0M693 514h0M692 520h0M692 555h0M692 552h0M692 553h0M692 556h0M692 550h0M692 550h0M692 551h0M692 553h0M691 551h0M692 556h0M692 554h0M694 553h0M693 559h0M692 552h0M693 554h0M693 557h0M693 554h0M693 553h0M694 519h0M695 520h0M694 518h0M694 520h0M694 554h0M694 554h0M694 558h0M695 554h0M694 518h0M696 517h0M695 520h0M694 515h0M695 516h0M695 550h0M695 551h0M696 520h0M697 517h0M696 520h0M695 551h0M696 553h0M696 554h0M695 553h0M696 554h0M696 552h0M697 519h0M697 519h0M697 551h0M697 556h0M697 557h0M697 553h0M697 557h0M698 522h0M699 516h0M698 519h0M699 521h0M699 552h0M698 551h0M698 557h0M698 555h0M698 551h0M699 554h0M698 554h0M698 558h0M698 557h0M699 515h0M699 518h0M699 519h0M699 513h0M699 520h0M699 554h0M699 550h0M699 553h0M699 559h0M699 551h0M699 552h0M700 550h0M700 518h0M700 519h0M700 519h0M700 513h0M700 515h0M700 516h0M700 552h0M700 554h0M699 550h0M700 551h0M700 551h0M700 553h0M699 556h0M701 516h0M701 518h0M701 518h0M701 517h0M701 553h0M701 551h0M701 553h0M701 553h0M701 555h0M701 555h0M702 515h0M702 517h0M702 518h0M703 514h0M702 516h0M702 513h0M702 517h0M702 519h0M702 550h0M702 556h0M702 553h0M702 550h0M703 519h0M703 519h0M703 518h0M703 517h0M703 554h0M704 519h0M704 518h0M704 518h0M704 515h0M705 515h0M705 517h0M705 515h0M705 514h0M706 519h0M705 516h0M705 558h0M705 552h0M706 518h0M706 519h0M707 519h0M706 515h0M706 550h0M705 552h0M706 551h0M706 552h0M707 521h0M707 520h0M707 522h0M707 557h0M707 554h0M708 555h0M707 552h0M708 519h0M708 553h0M708 558h0M708 556h0M708 551h0M708 550h0M708 555h0M710 521h0M709 513h0M709 560h0M709 557h0M708 554h0M709 561h0M709 554h0M709 556h0M709 557h0M708 557h0M710 520h0M710 556h0M710 563h0M710 555h0M711 553h0M709 553h0M710 552h0M712 518h0M711 521h0M711 520h0M711 514h0M711 554h0M711 553h0M711 557h0M711 553h0M711 554h0M711 553h0M710 555h0M711 556h0M712 520h0M712 523h0M712 521h0M712 517h0M713 555h0M712 553h0M712 562h0M712 551h0M712 553h0M712 559h0M712 551h0M713 511h0M713 517h0M713 516h0M713 514h0M713 520h0M713 521h0M713 551h0M713 554h0M714 553h0M713 556h0M713 553h0M713 550h0M713 553h0M713 517h0M714 515h0M714 519h0M714 520h0M714 512h0M714 555h0M714 555h0M714 552h0M714 552h0M713 553h0M714 516h0M715 515h0M714 510h0M715 519h0M715 517h0M715 518h0M715 551h0M716 553h0M715 557h0M716 520h0M716 518h0M716 518h0M717 518h0M716 520h0M717 521h0M717 552h0M716 556h0M717 519h0M717 517h0M717 513h0M717 519h0M717 518h0M719 516h0M718 514h0M719 522h0M718 522h0M718 521h0M719 521h0M718 520h0M718 555h0M719 553h0M719 518h0M719 518h0M720 519h0M719 519h0M719 518h0M719 516h0M719 553h0M719 553h0M718 558h0M719 515h0M720 513h0M720 559h0M720 551h0M720 552h0M720 554h0M721 519h0M721 514h0M721 514h0M721 519h0M721 556h0M721 553h0M721 556h0M722 552h0M721 556h0M722 519h0M722 507h0M722 556h0M721 553h0M722 560h0M722 554h0M723 520h0M724 513h0M723 518h0M723 552h0M722 552h0M724 515h0M724 520h0M724 519h0M724 554h0M724 552h0M724 553h0M724 552h0M724 514h0M726 519h0M725 554h0M724 555h0M725 558h0M726 516h0M726 511h0M726 552h0M726 552h0M726 551h0M727 551h0M726 556h0M726 565h0M727 555h0M728 556h0M727 553h0M728 557h0M728 554h0M728 554h0M728 563h0M729 514h0M729 560h0M729 552h0M729 550h0M729 552h0M729 559h0M729 557h0M729 550h0M730 513h0M729 521h0M729 557h0M730 552h0M730 552h0M730 552h0M730 551h0M730 551h0M730 552h0M732 521h0M731 513h0M731 510h0M730 556h0M731 557h0M730 557h0M731 557h0M730 555h0M731 556h0M732 521h0M732 559h0M732 558h0M733 562h0M732 554h0M732 554h0M732 557h0M733 520h0M733 559h0M733 559h0M733 553h0M733 558h0M734 555h0M733 551h0M733 552h0M733 560h0M733 555h0M734 514h0M734 521h0M734 515h0M734 555h0M734 557h0M734 557h0M734 553h0M734 553h0M734 556h0M734 556h0M733 555h0M735 520h0M735 516h0M735 552h0M735 556h0M735 557h0M735 555h0M736 553h0M736 520h0M736 522h0M736 522h0M736 512h0M736 555h0M736 553h0M736 556h0M737 519h0M737 522h0M736 516h0M737 556h0M736 554h0M737 555h0M737 554h0M738 518h0M738 520h0M738 517h0M738 516h0M738 554h0M739 519h0M738 513h0M739 520h0M739 517h0M739 519h0M739 552h0M739 556h0M739 557h0M739 551h0M739 555h0M740 516h0M740 517h0M740 520h0M740 519h0M740 519h0M740 555h0M740 552h0M741 519h0M742 519h0M741 517h0M741 520h0M741 520h0M741 515h0M740 555h0M742 519h0M743 516h0M742 558h0M742 557h0M742 558h0M741 555h0M742 553h0M742 556h0M743 519h0M744 509h0M743 554h0M743 557h0M743 553h0M744 513h0M744 518h0M743 519h0M744 555h0M744 556h0M744 559h0M745 517h0M745 518h0M745 558h0M745 557h0M746 519h0M746 518h0M746 514h0M746 519h0M746 518h0M747 519h0M748 518h0M748 562h0M747 560h0M747 556h0M747 555h0M748 518h0M748 518h0M748 512h0M748 555h0M748 556h0M748 563h0M748 554h0M749 519h0M749 518h0M749 515h0M749 553h0M749 553h0M749 554h0M749 552h0M750 510h0M751 521h0M750 519h0M750 561h0M751 555h0M751 514h0M751 516h0M751 521h0M752 521h0M752 521h0M751 519h0M752 517h0M752 552h0M752 556h0M753 519h0M753 522h0M753 523h0M754 522h0M753 520h0M753 555h0M754 517h0M754 519h0M754 517h0M754 518h0M754 558h0M755 519h0M756 515h0M755 520h0M755 519h0M756 522h0M755 517h0M756 553h0M755 552h0M755 556h0M757 514h0M756 519h0M755 517h0M756 522h0M756 520h0M756 522h0M756 552h0M756 557h0M756 553h0M757 555h0M756 554h0M757 514h0M757 511h0M757 520h0M758 519h0M757 517h0M756 514h0M757 519h0M756 551h0M757 553h0M757 553h0M757 552h0M757 551h0M757 551h0M758 522h0M759 518h0M758 515h0M758 516h0M758 508h0M757 553h0M758 557h0M758 555h0M758 556h0M758 555h0M759 520h0M759 517h0M760 517h0M760 520h0M759 553h0M759 553h0M759 559h0M759 552h0M760 517h0M760 520h0M760 555h0M760 560h0M761 557h0M760 554h0M761 556h0M760 552h0M760 552h0M761 517h0M761 554h0M761 560h0M761 556h0M761 554h0M761 552h0M762 552h0M761 561h0M762 516h0M762 556h0M762 556h0M762 555h0M762 554h0M763 516h0M763 559h0M764 514h0M764 558h0M765 515h0M765 562h0M765 557h0M767 519h0M767 517h0M768 556h0M768 519h0M768 518h0M768 517h0M768 554h0M768 561h0M769 557h0M768 554h0M769 515h0M768 516h0M769 518h0M769 554h0M769 553h0M769 555h0M770 520h0M770 514h0M770 518h0M770 517h0M770 519h0M770 557h0M769 554h0M770 551h0M770 556h0M771 514h0M771 517h0M771 513h0M771 518h0M771 519h0M771 513h0M771 554h0M772 517h0M772 513h0M772 517h0M772 518h0M772 517h0M772 516h0M772 518h0M772 551h0M773 516h0M773 517h0M773 521h0M774 517h0M773 521h0M773 521h0M774 516h0M773 551h0M773 553h0M773 551h0M773 551h0M773 551h0M774 513h0M774 514h0M774 518h0M774 521h0M774 520h0M774 558h0M774 554h0M774 556h0M774 552h0M774 556h0M774 553h0M775 519h0M776 515h0M775 518h0M775 510h0M775 553h0M775 552h0M775 557h0M775 552h0M774 553h0M775 552h0M775 552h0M776 518h0M776 517h0M775 516h0M775 517h0M776 514h0M776 552h0M776 557h0M776 554h0M776 552h0M776 552h0M776 518h0M777 512h0M777 515h0M776 517h0M777 515h0M777 518h0M777 553h0M776 552h0M777 552h0M778 556h0M777 563h0M778 516h0M779 519h0M779 515h0M778 511h0M779 514h0M779 516h0M778 505h0M779 512h0M779 516h0M779 553h0M781 515h0M780 518h0M780 517h0M780 518h0M780 550h0M780 553h0M779 556h0M781 552h0M780 551h0M781 516h0M781 519h0M781 516h0M781 515h0M781 551h0M781 558h0M781 558h0M782 516h0M782 520h0M782 510h0M782 521h0M782 552h0M782 551h0M782 555h0M782 554h0M782 519h0M782 518h0M783 518h0M783 551h0M783 554h0M784 550h0M784 513h0M784 511h0M784 519h0M784 563h0M784 554h0M785 518h0M785 513h0M785 559h0M785 559h0M785 555h0M785 559h0M786 517h0M786 511h0M786 521h0M787 557h0M786 558h0M786 552h0M786 557h0M787 517h0M787 556h0M787 554h0M786 561h0M786 554h0M787 558h0M787 520h0M788 521h0M789 554h0M789 555h0M788 558h0M788 555h0M788 555h0M789 557h0M788 556h0M789 517h0M789 554h0M789 553h0M789 555h0M789 555h0M790 555h0M789 554h0M790 511h0M790 516h0M791 517h0M790 558h0M790 555h0M790 556h0M790 558h0M790 560h0M791 521h0M792 521h0M791 522h0M792 554h0M791 559h0M791 558h0M792 562h0M791 556h0M791 555h0M791 520h0M792 557h0M793 513h0M793 560h0M794 554h0M793 555h0M794 515h0M794 553h0M794 555h0M795 517h0M795 559h0M795 555h0M795 554h0M795 558h0M796 519h0M796 556h0M796 552h0M795 556h0M796 560h0M797 519h0M797 554h0M797 558h0M798 517h0M798 554h0M798 555h0M799 520h0M799 518h0M799 520h0M799 556h0M800 520h0M800 513h0M800 516h0M800 520h0M801 518h0M801 517h0M801 519h0M801 516h0M801 512h0M801 552h0M802 513h0M802 521h0M802 512h0M802 521h0M802 557h0M802 555h0M802 552h0M803 560h0M803 517h0M803 520h0M803 520h0M803 521h0M804 518h0M804 518h0M804 519h0M804 519h0M804 511h0M804 553h0M804 555h0M805 518h0M806 515h0M805 555h0M805 558h0M806 552h0M806 520h0M806 554h0M805 557h0M806 556h0M807 519h0M807 552h0M807 518h0M809 519h0M808 521h0M808 551h0M807 557h0M808 555h0M809 520h0M809 553h0M809 551h0M809 551h0M809 553h0M809 558h0M809 553h0M809 556h0M809 552h0M809 552h0M810 521h0M810 520h0M810 555h0M811 517h0M811 521h0M811 554h0M811 553h0M811 556h0M812 555h0M812 514h0M811 519h0M813 514h0M813 515h0M813 559h0M813 561h0M814 560h0M814 557h0M814 562h0M813 555h0M814 560h0M815 554h0M815 559h0M815 561h0M815 556h0M815 557h0M816 562h0M815 556h0M814 559h0M816 516h0M815 555h0M816 559h0M816 560h0M816 557h0M816 556h0M818 553h0M817 554h0M817 555h0M817 557h0M817 559h0M818 556h0M818 554h0M818 556h0M819 555h0M819 556h0M819 554h0M819 521h0M820 557h0M820 555h0M821 559h0M821 559h0M820 557h0M819 557h0M820 555h0M821 520h0M821 556h0M821 555h0M821 554h0M821 555h0M822 514h0M822 514h0M822 517h0M822 519h0M822 556h0M822 559h0M822 559h0M822 556h0M822 555h0M822 557h0M822 558h0M823 518h0M823 517h0M823 516h0M823 561h0M823 555h0M823 553h0M822 554h0M824 518h0M824 520h0M824 516h0M823 517h0M824 556h0M824 553h0M824 557h0M826 521h0M825 514h0M825 522h0M825 515h0M825 561h0M825 552h0M825 553h0M825 555h0M824 557h0M826 518h0M825 521h0M826 517h0M826 555h0M826 561h0M827 553h0M826 556h0M826 553h0M827 555h0M826 557h0M827 517h0M827 520h0M827 560h0M827 558h0M827 553h0M828 552h0M827 554h0M829 519h0M828 513h0M828 554h0M829 556h0M828 556h0M828 561h0M828 554h0M828 563h0M829 563h0M829 557h0M829 553h0M829 562h0M829 558h0M828 555h0M831 517h0M830 562h0M830 556h0M829 559h0M830 552h0M830 558h0M829 557h0M831 515h0M831 553h0M831 553h0M832 517h0M832 520h0M833 557h0M832 554h0M832 562h0M833 511h0M833 513h0M833 554h0M833 556h0M833 554h0M833 557h0M833 560h0M833 555h0M833 555h0M834 519h0M834 519h0M834 565h0M834 554h0M834 557h0M834 554h0M834 560h0M836 520h0M835 515h0M835 512h0M835 515h0M835 520h0M835 520h0M835 554h0M835 553h0M835 553h0M835 556h0M836 509h0M836 516h0M836 519h0M836 520h0M836 516h0M836 553h0M837 516h0M837 517h0M837 521h0M836 518h0M837 520h0M837 556h0M837 553h0M837 561h0M837 553h0M837 555h0M838 518h0M839 517h0M838 519h0M838 519h0M838 556h0M838 553h0M838 559h0M838 558h0M839 517h0M839 509h0M839 510h0M839 554h0M839 553h0M839 554h0M839 553h0M839 553h0M840 518h0M840 556h0M840 555h0M839 557h0M841 553h0M840 555h0M841 521h0M841 518h0M841 557h0M841 553h0M841 557h0M841 556h0M841 556h0M841 554h0M841 558h0M842 555h0M842 557h0M842 556h0M842 555h0M843 560h0M843 518h0M843 557h0M844 555h0M843 555h0M843 563h0M843 557h0M843 556h0M843 557h0M843 562h0M844 521h0M844 518h0M844 555h0M844 562h0M844 555h0M844 554h0M844 556h0M845 556h0M845 558h0M845 555h0M845 553h0M845 552h0M845 555h0M845 554h0M844 553h0M845 561h0" stroke="#000" stroke-width="3.2" stroke-linecap="round"/>
<path d="M846 519.4 847 519.1 848 522.0 849 521.2 850 520.5 851 520.3 852 519.4 853 518.7 854 519.3 855 518.8 856 519.6 857 519.2 858 517.7 859 517.1 860 517.2 861 516.3 862 517.3 863 517.8 864 519.1 865 518.4 866 518.5 867 519.2 868 519.8 869 518.7 870 520.1 871 519.2 872 520.2 873 519.6 874 519.1 875 518.1 876 518.4 877 520.7 878 519.6 879 520.7 880 521.2 881 520.1 882 520.7 883 521.3 884 520.2 885 519.4 886 520.3 887 520.2 888 521.6 889 521.0 890 519.4 891 519.3 892 518.3 893 519.3 894 519.9 895 519.3 896 518.6 897 519.6 898 519.2 899 520.3 900 519.1 901 519.0 902 518.7 903 518.1 904 520.9 905 521.7 906 520.3 907 520.6 908 518.6 909 520.0 910 520.7 911 519.9 912 519.4 913 519.6 914 519.9 915 519.4 916 518.7 917 518.8 918 518.7 919 519.7 920 519.7 921 519.8 922 518.3 923 518.4 924 518.5 925 518.5 926 518.8 927 518.8 928 517.8 929 519.3 930 520.2 931 519.5 932 520.0 933 519.1 934 518.2 935 518.6 936 520.3 937 519.9 938 518.5 939 519.2 940 518.9 941 518.6 942 519.3 943 518.0 944 517.1 945 516.9 946 518.9 947 519.3 948 519.0 949 518.7 950 519.6 951 520.7 952 519.7 953 520.0 954 521.9 955 521.5 956 520.6 957 520.6 958 520.3 959 520.7 960 520.6 961 519.9 962 519.8 963 520.1 964 519.4 965 519.7 966 519.0 967 520.4 968 521.5 969 520.1 970 520.7 971 520.5 972 520.4 973 520.0 974 520.2 975 520.9 976 519.5 977 520.5 978 520.1 979 519.1 980 519.4 981 520.2 982 520.0 983 520.2 984 519.9 985 519.5 986 520.5 987 519.5 988 520.5 989 520.6 990 520.2 991 519.9 992 519.7 993 519.8 994 519.9 995 519.8 996 518.3 997 517.2 998 518.6 999 518.7 1000 518.8 1001 519.1 1002 518.6 1003 520.5 1004 520.3 1005 520.1 1006 519.2 1007 520.3 1008 520.8 1009 521.8 1010 521.9 1011 520.5 1012 519.3 1013 520.8 1014 520.0 1015 520.0 1016 519.9 1017 520.4 1018 520.8 1019 519.7 1020 519.4 1021 518.3 1022 519.5 1023 519.7 1024 518.5 1025 520.0 1026 520.1 1027 519.3 1028 519.4 1029 519.2 1030 519.7 1031 520.1 1032 519.7 1033 520.3 1034 518.2 1035 518.7 1036 519.9 1037 520.8 1038 521.3 1039 520.1 1040 518.8 1041 519.1 1042 521.5 1043 521.2 1044 520.3 1045 518.9 1046 519.6 1047 519.6 1048 520.3 1049 520.5 1050 518.5 1051 519.2 1052 520.3 1053 519.9 1054 519.1 1055 518.7 1056 518.3 1057 520.9 1058 521.9 1059 520.8 1060 521.8 1061 520.4 1062 520.0 1063 519.6 1064 519.8 1065 520.6 1066 522.2 1067 522.1 1068 521.4 1069 521.2 1070 520.7 1071 520.9 1072 520.1 1073 520.4 1074 520.8 1075 521.5 1076 520.4 1077 520.8 1078 520.9 1079 520.1 1080 518.7 1081 519.0 1082 520.3 1083 520.2 1084 522.2 1085 522.0 1086 520.9 1087 520.7 1088 521.0 1089 521.2 1090 520.8 1091 521.1 1092 523.3 1093 523.0 1094 522.2 1095 521.2 1096 519.5 1097 520.1 1098 520.0 1099 520.2 1100 519.9 1101 520.9 1102 521.7 1103 520.7 1104 519.6 1105 520.3 1106 521.6 1107 521.6 1108 521.6 1109 520.1 1110 519.9 1111 520.7 1112 521.0 1113 520.9 1114 521.3 1115 521.8 1116 521.4 1117 520.6 1118 519.5 1119 520.2 1120 520.3 1121 520.3 1122 521.4 1123 520.6 1124 520.5 1125 521.1 1126 520.3 1127 518.8 1128 519.1 1129 520.5 1130 520.1 1131 520.2 1132 519.0 1133 520.7 1134 519.3 1135 519.4 1136 519.8 1137 521.8 1138 521.5 1139 520.7 1140 519.6 1141 519.8 1142 519.3 1143 519.4 1144 520.0 1145 521.4 1146 520.3 1147 521.7 1148 519.8 1149 521.8 1150 521.0 1151 520.7 1152 520.4 1153 520.8 1154 520.8 1155 520.6 1156 520.2 1157 520.1 1158 520.5 1159 520.3 1160 520.0 1161 519.2 1162 520.0 1163 520.8 1164 520.1 1165 521.3 1166 521.1 1167 521.2 1168 519.8 L1168 550.8 1167 551.7 1166 550.7 1165 549.8 1164 549.4 1163 549.2 1162 550.4 1161 550.8 1160 551.8 1159 552.5 1158 551.1 1157 552.0 1156 551.5 1155 551.7 1154 551.1 1153 550.5 1152 550.2 1151 550.6 1150 551.7 1149 551.2 1148 550.1 1147 549.6 1146 550.9 1145 550.4 1144 550.0 1143 550.8 1142 550.3 1141 549.5 1140 550.5 1139 550.2 1138 550.3 1137 550.2 1136 551.8 1135 551.4 1134 550.8 1133 551.5 1132 550.1 1131 550.9 1130 552.1 1129 551.0 1128 551.5 1127 550.9 1126 551.3 1125 550.8 1124 551.5 1123 550.7 1122 550.3 1121 550.2 1120 550.9 1119 550.1 1118 551.8 1117 551.4 1116 551.9 1115 550.7 1114 550.4 1113 550.5 1112 552.2 1111 551.5 1110 551.3 1109 551.8 1108 549.9 1107 551.8 1106 552.5 1105 550.5 1104 551.8 1103 549.9 1102 550.2 1101 549.9 1100 551.7 1099 551.8 1098 552.0 1097 550.9 1096 549.3 1095 549.7 1094 548.9 1093 551.0 1092 551.4 1091 551.4 1090 551.1 1089 551.2 1088 551.8 1087 551.4 1086 551.5 1085 551.5 1084 551.0 1083 550.2 1082 550.9 1081 549.2 1080 550.0 1079 550.4 1078 550.4 1077 550.4 1076 550.0 1075 551.4 1074 551.6 1073 551.8 1072 550.3 1071 550.4 1070 551.2 1069 551.9 1068 550.6 1067 551.5 1066 550.0 1065 550.7 1064 550.4 1063 549.1 1062 549.0 1061 548.7 1060 548.7 1059 548.1 1058 550.0 1057 549.9 1056 551.0 1055 552.0 1054 550.4 1053 549.9 1052 551.2 1051 550.2 1050 550.5 1049 550.8 1048 550.6 1047 550.2 1046 551.2 1045 549.7 1044 550.5 1043 549.9 1042 549.7 1041 549.9 1040 548.9 1039 547.4 1038 549.9 1037 551.3 1036 551.4 1035 550.6 1034 552.1 1033 553.3 1032 552.6 1031 552.6 1030 551.8 1029 552.4 1028 552.3 1027 550.9 1026 551.2 1025 550.9 1024 551.2 1023 550.4 1022 550.5 1021 552.3 1020 551.7 1019 550.5 1018 550.6 1017 550.9 1016 550.8 1015 550.1 1014 550.2 1013 549.7 1012 551.4 1011 551.3 1010 551.1 1009 549.9 1008 551.4 1007 551.2 1006 551.8 1005 550.1 1004 550.3 1003 549.9 1002 549.4 1001 549.9 1000 549.8 999 550.1 998 551.1 997 550.4 996 550.0 995 549.9 994 550.6 993 550.6 992 551.3 991 551.1 990 550.9 989 550.5 988 550.4 987 550.0 986 550.3 985 550.0 984 550.0 983 549.3 982 549.7 981 550.9 980 551.8 979 552.2 978 551.0 977 549.8 976 551.0 975 551.4 974 552.1 973 552.4 972 551.9 971 552.9 970 553.2 969 551.3 968 551.6 967 551.3 966 551.3 965 552.0 964 551.8 963 551.1 962 551.7 961 551.6 960 552.1 959 551.2 958 552.7 957 551.6 956 551.8 955 551.6 954 551.2 953 550.5 952 550.7 951 549.6 950 550.6 949 551.4 948 550.4 947 550.9 946 551.3 945 551.1 944 551.9 943 551.3 942 551.3 941 550.9 940 551.2 939 551.9 938 552.2 937 550.6 936 551.2 935 551.3 934 550.7 933 551.5 932 550.7 931 552.0 930 552.1 929 552.6 928 550.9 927 552.1 926 551.1 925 551.7 924 551.4 923 551.3 922 551.8 921 551.5 920 551.7 919 551.4 918 550.5 917 551.4 916 551.7 915 550.4 914 550.6 913 552.2 912 552.4 911 551.2 910 551.4 909 551.7 908 551.4 907 551.5 906 552.6 905 551.4 904 552.6 903 553.0 902 552.0 901 550.7 900 551.0 899 551.7 898 551.9 897 550.8 896 551.1 895 552.1 894 552.1 893 551.9 892 550.9 891 550.5 890 551.4 889 552.5 888 550.7 887 550.7 886 551.3 885 552.6 884 551.9 883 553.2 882 553.3 881 552.5 880 551.7 879 550.7 878 551.5 877 551.6 876 552.3 875 550.8 874 550.4 873 549.1 872 549.9 871 550.0 870 550.1 869 550.3 868 552.8 867 552.9 866 552.0 865 552.4 864 552.6 863 551.3 862 550.5 861 550.6 860 551.1 859 550.6 858 552.2 857 551.6 856 552.0 855 551.9 854 551.2 853 551.1 852 552.0 851 552.0 850 551.6 849 552.0 848 553.4 847 552.4 846 551.5Z" fill="#000" stroke="#000" stroke-width="3.2" stroke-linejoin="round"/>
<path d="M846 518h0M846 517h0M846 513h0M846 560h0M846 556h0M845 553h0M846 552h0M846 561h0M846 559h0M846 556h0M846 511h0M847 516h0M847 512h0M848 518h0M847 515h0M847 558h0M847 556h0M848 561h0M848 520h0M848 522h0M848 515h0M848 515h0M848 514h0M848 508h0M848 521h0M849 520h0M849 521h0M849 518h0M849 514h0M849 519h0M849 514h0M849 514h0M849 517h0M849 554h0M849 554h0M849 554h0M849 553h0M850 518h0M850 512h0M850 515h0M850 515h0M850 513h0M850 513h0M850 516h0M850 556h0M850 558h0M851 559h0M850 559h0M850 516h0M851 517h0M851 516h0M852 517h0M851 560h0M851 564h0M851 556h0M851 553h0M851 553h0M851 555h0M851 510h0M852 514h0M852 515h0M852 553h0M852 557h0M852 552h0M853 556h0M852 558h0M852 510h0M853 558h0M853 555h0M853 554h0M855 515h0M855 512h0M855 518h0M855 516h0M855 513h0M855 556h0M856 518h0M856 516h0M856 515h0M856 515h0M856 509h0M856 516h0M856 520h0M856 509h0M857 558h0M856 564h0M857 512h0M857 517h0M856 515h0M857 517h0M857 514h0M857 518h0M856 560h0M859 514h0M859 517h0M858 508h0M858 507h0M858 517h0M858 517h0M858 516h0M858 557h0M859 513h0M859 514h0M859 516h0M859 505h0M859 515h0M859 517h0M859 516h0M859 509h0M859 556h0M860 515h0M860 512h0M861 514h0M860 517h0M860 510h0M860 505h0M859 553h0M861 513h0M861 516h0M860 555h0M861 558h0M861 551h0M862 513h0M863 560h0M861 556h0M864 509h0M864 554h0M865 518h0M865 517h0M865 556h0M866 513h0M866 555h0M867 514h0M867 516h0M867 517h0M868 520h0M868 515h0M868 518h0M868 518h0M868 557h0M868 518h0M869 517h0M869 518h0M869 517h0M870 519h0M871 515h0M872 510h0M871 511h0M871 517h0M871 553h0M872 520h0M871 515h0M872 551h0M873 512h0M873 517h0M873 513h0M873 555h0M872 556h0M874 517h0M874 512h0M874 553h0M874 558h0M874 553h0M874 554h0M874 557h0M875 513h0M875 514h0M875 515h0M874 552h0M876 514h0M876 555h0M876 563h0M877 511h0M878 517h0M878 552h0M880 513h0M879 517h0M879 520h0M879 519h0M879 516h0M878 555h0M879 559h0M879 553h0M878 555h0M879 551h0M880 521h0M880 520h0M880 558h0M880 552h0M881 554h0M881 553h0M879 557h0M880 554h0M880 553h0M881 517h0M881 553h0M881 561h0M881 554h0M881 558h0M882 556h0M881 558h0M881 560h0M881 559h0M881 558h0M881 562h0M882 515h0M882 514h0M881 513h0M882 556h0M882 556h0M882 556h0M882 557h0M882 554h0M882 515h0M883 556h0M883 554h0M883 557h0M884 558h0M883 556h0M884 511h0M884 515h0M884 555h0M884 560h0M885 514h0M884 518h0M885 561h0M885 554h0M885 560h0M886 512h0M886 518h0M886 555h0M886 558h0M886 556h0M885 551h0M886 556h0M887 510h0M887 519h0M887 554h0M887 557h0M888 552h0M887 553h0M887 519h0M888 520h0M888 560h0M888 553h0M888 551h0M888 560h0M888 557h0M888 552h0M889 553h0M889 559h0M889 558h0M890 512h0M890 519h0M890 514h0M890 556h0M890 552h0M890 552h0M891 514h0M891 517h0M891 558h0M892 514h0M892 514h0M892 551h0M893 517h0M893 512h0M895 510h0M894 555h0M896 515h0M896 518h0M896 552h0M897 519h0M897 517h0M897 553h0M898 513h0M897 515h0M898 518h0M898 510h0M898 516h0M898 517h0M899 514h0M899 512h0M899 519h0M899 520h0M899 519h0M899 516h0M898 505h0M899 556h0M899 560h0M900 557h0M900 510h0M900 507h0M900 511h0M900 515h0M899 517h0M900 556h0M900 555h0M902 515h0M901 518h0M900 514h0M901 516h0M901 516h0M901 515h0M901 517h0M901 560h0M902 557h0M902 553h0M903 517h0M904 514h0M904 516h0M904 508h0M903 516h0M904 519h0M904 520h0M904 559h0M904 556h0M905 560h0M905 556h0M905 553h0M905 553h0M905 556h0M906 520h0M906 519h0M906 518h0M907 554h0M907 554h0M907 552h0M908 517h0M908 554h0M909 515h0M910 555h0M909 558h0M911 519h0M910 556h0M911 560h0M912 512h0M913 519h0M913 518h0M914 515h0M914 515h0M914 514h0M914 519h0M914 518h0M914 558h0M914 551h0M914 563h0M914 555h0M914 554h0M914 552h0M914 551h0M914 514h0M915 519h0M915 518h0M915 553h0M915 552h0M914 555h0M915 560h0M915 556h0M915 551h0M916 514h0M917 515h0M916 512h0M916 515h0M915 516h0M916 511h0M916 558h0M916 556h0M916 552h0M916 557h0M917 509h0M917 511h0M917 514h0M916 516h0M918 517h0M917 515h0M917 555h0M917 554h0M917 552h0M917 554h0M918 516h0M918 515h0M918 518h0M919 518h0M918 517h0M918 561h0M918 551h0M918 557h0M918 559h0M920 518h0M919 518h0M918 514h0M919 518h0M919 519h0M919 557h0M919 556h0M919 553h0M919 554h0M919 552h0M920 518h0M920 515h0M920 552h0M920 556h0M920 555h0M920 553h0M920 554h0M920 553h0M920 554h0M921 512h0M920 516h0M921 510h0M921 514h0M921 519h0M921 554h0M921 556h0M921 558h0M920 553h0M920 556h0M921 554h0M922 517h0M922 512h0M921 554h0M922 552h0M922 556h0M922 558h0M922 560h0M922 552h0M923 514h0M922 515h0M923 509h0M925 512h0M924 516h0M925 518h0M924 511h0M924 553h0M925 517h0M925 514h0M925 511h0M925 512h0M925 513h0M926 518h0M926 517h0M926 515h0M926 513h0M926 516h0M926 518h0M925 517h0M926 556h0M926 555h0M927 518h0M927 516h0M927 510h0M927 517h0M928 554h0M928 516h0M927 552h0M928 554h0M928 553h0M929 517h0M929 516h0M929 554h0M928 562h0M930 516h0M930 519h0M930 558h0M929 553h0M930 556h0M930 562h0M930 553h0M931 515h0M931 515h0M932 519h0M931 514h0M931 517h0M931 553h0M932 511h0M932 552h0M932 552h0M932 552h0M933 516h0M933 555h0M933 511h0M934 518h0M934 516h0M934 559h0M934 552h0M935 555h0M934 552h0M935 509h0M935 512h0M935 554h0M936 555h0M936 564h0M936 555h0M937 554h0M938 516h0M938 515h0M938 516h0M938 554h0M938 555h0M939 512h0M939 552h0M939 557h0M939 558h0M939 558h0M941 559h0M940 561h0M940 552h0M941 511h0M942 553h0M941 557h0M941 553h0M942 519h0M942 557h0M942 553h0M942 554h0M942 554h0M942 554h0M941 553h0M943 515h0M943 552h0M943 552h0M943 556h0M944 510h0M944 514h0M944 517h0M944 517h0M944 516h0M943 554h0M944 554h0M944 552h0M944 554h0M944 557h0M945 507h0M945 505h0M945 512h0M944 515h0M946 553h0M945 553h0M945 557h0M946 515h0M946 514h0M946 518h0M946 515h0M946 517h0M946 516h0M946 519h0M946 560h0M946 552h0M946 553h0M946 560h0M946 554h0M947 513h0M947 515h0M947 519h0M947 514h0M946 516h0M947 512h0M947 509h0M947 508h0M947 558h0M947 552h0M948 518h0M948 518h0M948 512h0M948 518h0M949 517h0M948 560h0M948 551h0M948 555h0M948 552h0M948 553h0M948 553h0M948 557h0M948 552h0M947 551h0M949 517h0M949 514h0M948 518h0M948 513h0M949 516h0M949 513h0M949 553h0M949 552h0M949 556h0M949 556h0M948 564h0M949 556h0M950 552h0M949 559h0M950 514h0M950 514h0M950 513h0M950 511h0M950 518h0M950 511h0M950 518h0M949 517h0M950 512h0M950 555h0M950 560h0M951 516h0M951 517h0M951 519h0M951 518h0M951 512h0M952 516h0M951 518h0M951 516h0M951 520h0M951 516h0M951 520h0M950 554h0M951 554h0M952 558h0M951 554h0M952 518h0M952 512h0M952 518h0M952 519h0M952 520h0M952 519h0M952 515h0M952 517h0M952 515h0M952 513h0M953 516h0M952 558h0M952 552h0M952 551h0M953 513h0M953 511h0M954 517h0M953 509h0M953 515h0M953 516h0M953 518h0M953 516h0M954 516h0M954 522h0M955 521h0M954 518h0M954 521h0M955 519h0M954 521h0M955 519h0M955 520h0M954 516h0M955 557h0M956 518h0M957 520h0M956 520h0M956 517h0M956 519h0M956 520h0M956 519h0M956 519h0M957 520h0M957 519h0M957 510h0M957 518h0M957 516h0M958 520h0M957 518h0M958 513h0M958 514h0M958 513h0M958 518h0M958 557h0M959 517h0M959 512h0M959 517h0M959 520h0M959 517h0M960 514h0M959 518h0M959 513h0M960 516h0M960 520h0M960 512h0M960 520h0M961 520h0M960 520h0M960 516h0M960 519h0M960 557h0M960 552h0M961 515h0M961 513h0M960 519h0M962 511h0M961 515h0M961 518h0M960 519h0M961 517h0M961 554h0M961 554h0M960 552h0M962 515h0M962 517h0M962 520h0M962 518h0M962 513h0M962 556h0M963 560h0M962 553h0M962 515h0M963 519h0M963 516h0M963 516h0M963 517h0M963 519h0M963 518h0M962 553h0M963 553h0M963 553h0M963 558h0M964 515h0M964 515h0M964 516h0M964 512h0M963 517h0M964 557h0M964 562h0M964 558h0M965 555h0M965 512h0M965 517h0M964 514h0M965 514h0M965 517h0M965 556h0M965 556h0M965 558h0M966 557h0M964 557h0M966 557h0M964 560h0M966 516h0M966 519h0M966 517h0M966 516h0M966 555h0M966 554h0M966 557h0M967 552h0M966 552h0M966 552h0M966 555h0M967 555h0M967 520h0M967 520h0M967 556h0M968 553h0M967 554h0M967 558h0M967 559h0M967 552h0M968 553h0M968 560h0M968 514h0M969 521h0M968 554h0M967 554h0M968 561h0M968 557h0M968 557h0M968 553h0M968 556h0M968 552h0M969 554h0M968 558h0M969 553h0M969 566h0M968 553h0M970 557h0M970 554h0M970 515h0M970 515h0M970 519h0M970 557h0M970 562h0M970 555h0M970 554h0M970 565h0M970 559h0M970 558h0M971 554h0M972 520h0M972 514h0M972 516h0M973 560h0M973 518h0M973 510h0M973 561h0M974 519h0M974 515h0M975 514h0M973 553h0M974 556h0M975 513h0M976 555h0M975 554h0M975 565h0M975 553h0M975 552h0M976 518h0M976 555h0M976 552h0M977 556h0M976 556h0M977 510h0M977 513h0M978 519h0M978 512h0M978 510h0M978 515h0M977 519h0M978 555h0M978 553h0M978 558h0M979 517h0M980 518h0M979 518h0M978 513h0M979 512h0M979 513h0M979 516h0M979 552h0M979 563h0M979 561h0M980 515h0M981 519h0M980 516h0M980 516h0M980 519h0M980 513h0M980 513h0M980 556h0M981 517h0M982 517h0M981 512h0M981 518h0M982 514h0M981 517h0M981 557h0M981 558h0M981 561h0M981 551h0M981 551h0M981 556h0M982 518h0M982 513h0M982 517h0M982 520h0M982 512h0M983 551h0M982 558h0M982 558h0M982 550h0M982 550h0M982 554h0M983 517h0M983 517h0M983 516h0M983 519h0M983 517h0M983 520h0M984 519h0M983 557h0M983 552h0M983 551h0M983 551h0M983 550h0M983 550h0M984 516h0M984 518h0M984 519h0M984 518h0M984 516h0M984 517h0M984 519h0M984 517h0M984 514h0M985 554h0M984 558h0M984 552h0M984 550h0M984 554h0M985 513h0M985 512h0M985 519h0M985 516h0M984 516h0M986 518h0M985 517h0M985 518h0M985 515h0M985 552h0M985 554h0M985 552h0M985 551h0M986 520h0M986 513h0M986 517h0M986 514h0M987 509h0M986 520h0M986 514h0M986 518h0M986 516h0M986 514h0M986 506h0M986 552h0M986 555h0M986 552h0M986 557h0M986 559h0M988 512h0M987 519h0M987 519h0M987 516h0M987 510h0M988 550h0M987 552h0M987 552h0M987 556h0M987 551h0M989 520h0M987 512h0M988 516h0M988 518h0M988 517h0M988 520h0M988 519h0M988 558h0M988 553h0M988 550h0M988 553h0M988 553h0M988 565h0M988 552h0M988 563h0M990 516h0M989 517h0M989 518h0M989 519h0M989 508h0M989 520h0M989 515h0M989 507h0M989 518h0M989 508h0M989 516h0M989 551h0M989 552h0M989 553h0M990 518h0M990 514h0M990 515h0M991 516h0M990 518h0M990 516h0M990 514h0M990 518h0M990 519h0M990 564h0M990 555h0M990 554h0M990 559h0M991 518h0M991 515h0M991 519h0M991 519h0M991 511h0M991 514h0M991 558h0M991 554h0M991 554h0M991 556h0M990 558h0M991 553h0M992 514h0M992 518h0M992 513h0M992 516h0M992 519h0M992 517h0M992 512h0M992 516h0M992 513h0M992 552h0M992 555h0M993 517h0M993 519h0M993 512h0M993 558h0M993 554h0M993 554h0M993 559h0M994 516h0M994 513h0M994 515h0M994 517h0M994 516h0M993 514h0M994 553h0M994 562h0M994 555h0M995 520h0M995 518h0M995 511h0M994 553h0M994 552h0M995 551h0M995 550h0M995 552h0M996 518h0M995 518h0M995 518h0M996 510h0M996 551h0M996 557h0M995 551h0M996 561h0M996 550h0M996 559h0M996 556h0M997 551h0M997 514h0M997 558h0M997 551h0M998 556h0M997 552h0M997 551h0M997 558h0M997 552h0M998 556h0M998 510h0M998 516h0M998 516h0M998 516h0M998 518h0M999 516h0M998 554h0M998 553h0M998 563h0M997 553h0M998 551h0M999 554h0M998 552h0M999 518h0M999 515h0M999 516h0M999 518h0M999 515h0M999 553h0M999 550h0M999 554h0M999 558h0M999 551h0M1000 516h0M999 513h0M1000 518h0M1000 514h0M1000 552h0M1000 552h0M1001 555h0M1001 507h0M1001 513h0M1001 514h0M1001 517h0M1001 556h0M1000 551h0M1001 552h0M1002 515h0M1002 512h0M1002 509h0M1001 517h0M1002 515h0M1001 518h0M1002 552h0M1002 560h0M1002 553h0M1003 551h0M1003 519h0M1003 515h0M1003 516h0M1003 517h0M1003 520h0M1003 516h0M1003 511h0M1003 517h0M1003 520h0M1003 514h0M1002 559h0M1004 517h0M1004 507h0M1004 514h0M1004 519h0M1004 514h0M1004 514h0M1004 516h0M1004 515h0M1003 551h0M1004 558h0M1004 553h0M1005 520h0M1005 518h0M1005 518h0M1005 513h0M1005 519h0M1006 517h0M1006 515h0M1005 513h0M1005 512h0M1006 511h0M1006 519h0M1006 515h0M1005 514h0M1006 519h0M1005 518h0M1006 563h0M1006 554h0M1006 554h0M1006 555h0M1007 517h0M1007 513h0M1007 514h0M1007 519h0M1007 520h0M1007 509h0M1006 515h0M1007 519h0M1007 556h0M1007 557h0M1007 563h0M1007 554h0M1007 555h0M1007 553h0M1008 516h0M1008 518h0M1008 511h0M1008 519h0M1008 512h0M1007 510h0M1008 558h0M1008 555h0M1007 552h0M1008 553h0M1008 562h0M1009 520h0M1009 520h0M1009 520h0M1009 520h0M1009 521h0M1009 518h0M1009 520h0M1009 519h0M1009 516h0M1010 515h0M1009 551h0M1009 553h0M1009 555h0M1009 560h0M1008 554h0M1009 551h0M1009 551h0M1010 519h0M1010 521h0M1010 519h0M1010 519h0M1011 517h0M1010 554h0M1010 554h0M1009 559h0M1010 552h0M1010 551h0M1009 562h0M1011 518h0M1011 519h0M1011 516h0M1011 520h0M1011 511h0M1011 560h0M1011 553h0M1011 552h0M1012 553h0M1011 555h0M1011 552h0M1011 553h0M1011 556h0M1011 554h0M1011 517h0M1012 514h0M1012 512h0M1012 516h0M1012 513h0M1012 517h0M1012 518h0M1011 513h0M1012 518h0M1013 554h0M1011 553h0M1012 556h0M1012 556h0M1013 553h0M1012 557h0M1012 563h0M1013 552h0M1014 517h0M1013 520h0M1012 515h0M1013 516h0M1013 518h0M1013 520h0M1013 514h0M1013 519h0M1013 551h0M1013 559h0M1014 555h0M1013 551h0M1014 519h0M1014 514h0M1013 518h0M1014 514h0M1014 519h0M1013 517h0M1014 520h0M1015 510h0M1015 520h0M1016 505h0M1015 515h0M1015 514h0M1015 518h0M1015 516h0M1015 507h0M1015 518h0M1015 516h0M1015 554h0M1015 554h0M1016 551h0M1015 551h0M1015 550h0M1016 511h0M1016 516h0M1016 515h0M1016 518h0M1016 517h0M1016 519h0M1016 559h0M1017 512h0M1017 520h0M1017 518h0M1018 510h0M1017 516h0M1017 555h0M1017 554h0M1018 515h0M1018 521h0M1019 515h0M1019 519h0M1018 515h0M1018 518h0M1018 556h0M1018 556h0M1017 551h0M1018 560h0M1019 519h0M1019 519h0M1019 515h0M1019 509h0M1019 516h0M1019 519h0M1019 510h0M1018 556h0M1019 561h0M1019 557h0M1019 551h0M1020 519h0M1020 515h0M1020 508h0M1020 517h0M1020 519h0M1020 518h0M1019 518h0M1020 513h0M1020 553h0M1020 554h0M1021 516h0M1021 517h0M1021 518h0M1021 518h0M1022 509h0M1021 516h0M1021 516h0M1021 553h0M1022 513h0M1022 519h0M1021 518h0M1022 517h0M1022 517h0M1022 517h0M1023 519h0M1022 514h0M1022 517h0M1022 556h0M1021 556h0M1022 557h0M1023 517h0M1022 519h0M1023 517h0M1023 518h0M1024 519h0M1023 512h0M1024 514h0M1023 514h0M1023 508h0M1023 509h0M1024 516h0M1023 560h0M1023 555h0M1023 555h0M1024 518h0M1023 514h0M1024 518h0M1024 516h0M1024 514h0M1025 517h0M1025 553h0M1025 554h0M1023 553h0M1025 556h0M1024 565h0M1025 517h0M1025 519h0M1025 519h0M1025 516h0M1025 512h0M1025 519h0M1025 519h0M1025 518h0M1025 515h0M1025 515h0M1025 516h0M1026 553h0M1025 551h0M1025 558h0M1027 513h0M1026 512h0M1026 514h0M1025 510h0M1026 519h0M1026 517h0M1026 514h0M1026 519h0M1026 512h0M1026 516h0M1026 560h0M1026 554h0M1026 560h0M1025 560h0M1026 558h0M1026 556h0M1027 519h0M1026 511h0M1028 514h0M1027 515h0M1027 519h0M1027 518h0M1027 518h0M1028 518h0M1027 554h0M1027 552h0M1027 553h0M1027 554h0M1027 553h0M1027 555h0M1028 518h0M1028 519h0M1028 519h0M1028 515h0M1028 518h0M1028 518h0M1028 515h0M1028 517h0M1028 518h0M1029 513h0M1029 512h0M1029 555h0M1028 560h0M1028 557h0M1028 557h0M1028 558h0M1028 553h0M1028 553h0M1029 513h0M1029 517h0M1029 518h0M1028 507h0M1030 558h0M1029 557h0M1029 555h0M1029 553h0M1029 556h0M1029 554h0M1028 560h0M1029 554h0M1030 514h0M1029 557h0M1030 557h0M1030 562h0M1030 554h0M1030 555h0M1031 556h0M1030 558h0M1030 558h0M1031 517h0M1031 512h0M1031 518h0M1031 553h0M1031 554h0M1031 554h0M1031 557h0M1033 511h0M1032 519h0M1032 556h0M1032 555h0M1032 554h0M1033 557h0M1035 512h0M1035 512h0M1035 515h0M1035 518h0M1035 517h0M1035 514h0M1035 509h0M1035 559h0M1036 518h0M1036 518h0M1036 517h0M1037 519h0M1036 509h0M1036 520h0M1036 556h0M1037 521h0M1037 517h0M1037 518h0M1037 518h0M1037 517h0M1037 518h0M1038 520h0M1037 520h0M1038 521h0M1038 516h0M1038 517h0M1037 519h0M1038 516h0M1039 520h0M1038 520h0M1038 521h0M1038 517h0M1039 515h0M1039 511h0M1039 519h0M1039 517h0M1039 515h0M1040 512h0M1039 513h0M1039 548h0M1039 548h0M1039 554h0M1039 553h0M1040 517h0M1040 515h0M1040 516h0M1040 515h0M1040 518h0M1040 515h0M1040 512h0M1039 549h0M1040 554h0M1040 553h0M1041 515h0M1041 509h0M1041 516h0M1041 513h0M1041 551h0M1041 558h0M1041 552h0M1042 550h0M1041 556h0M1041 557h0M1041 550h0M1042 513h0M1041 521h0M1042 520h0M1041 516h0M1042 521h0M1042 550h0M1042 550h0M1042 550h0M1042 551h0M1042 556h0M1042 550h0M1043 519h0M1043 518h0M1043 514h0M1043 519h0M1043 512h0M1043 517h0M1043 517h0M1043 553h0M1043 556h0M1043 551h0M1043 551h0M1043 551h0M1044 515h0M1044 516h0M1045 518h0M1044 513h0M1044 512h0M1044 513h0M1044 554h0M1044 554h0M1044 551h0M1044 553h0M1045 519h0M1045 517h0M1045 510h0M1045 516h0M1045 518h0M1045 554h0M1045 550h0M1045 551h0M1044 556h0M1045 551h0M1045 552h0M1045 555h0M1045 516h0M1047 519h0M1046 517h0M1046 515h0M1046 517h0M1046 517h0M1046 518h0M1046 557h0M1046 553h0M1046 551h0M1045 553h0M1046 557h0M1046 556h0M1046 554h0M1046 552h0M1048 513h0M1047 514h0M1047 510h0M1047 510h0M1047 513h0M1047 517h0M1047 561h0M1047 557h0M1047 554h0M1047 553h0M1047 564h0M1047 552h0M1047 560h0M1047 553h0M1047 551h0M1048 511h0M1048 518h0M1048 517h0M1048 512h0M1048 520h0M1047 519h0M1048 519h0M1048 555h0M1048 553h0M1049 555h0M1048 552h0M1049 552h0M1048 555h0M1048 552h0M1049 518h0M1049 520h0M1049 561h0M1050 556h0M1049 552h0M1049 557h0M1049 557h0M1049 517h0M1049 513h0M1050 514h0M1050 517h0M1050 554h0M1050 551h0M1051 517h0M1051 559h0M1051 551h0M1052 517h0M1052 515h0M1052 517h0M1052 518h0M1052 556h0M1053 558h0M1053 514h0M1053 519h0M1053 516h0M1053 519h0M1053 550h0M1053 553h0M1053 552h0M1053 553h0M1052 550h0M1054 552h0M1055 518h0M1054 509h0M1054 518h0M1055 552h0M1054 558h0M1054 554h0M1054 558h0M1055 516h0M1055 567h0M1055 552h0M1055 567h0M1055 554h0M1055 558h0M1055 560h0M1056 558h0M1056 508h0M1056 515h0M1056 518h0M1056 515h0M1056 558h0M1056 551h0M1056 558h0M1056 557h0M1056 557h0M1056 554h0M1057 511h0M1057 520h0M1056 517h0M1057 552h0M1057 556h0M1057 553h0M1057 555h0M1057 555h0M1058 519h0M1058 520h0M1058 517h0M1058 555h0M1058 555h0M1058 550h0M1058 555h0M1058 551h0M1058 554h0M1059 549h0M1060 514h0M1060 521h0M1060 515h0M1060 518h0M1061 520h0M1061 518h0M1061 518h0M1061 549h0M1061 554h0M1061 555h0M1061 553h0M1063 516h0M1062 514h0M1062 555h0M1063 555h0M1062 551h0M1062 550h0M1063 519h0M1062 519h0M1063 519h0M1063 514h0M1063 514h0M1063 516h0M1063 550h0M1063 550h0M1062 553h0M1063 552h0M1064 553h0M1064 519h0M1064 516h0M1064 517h0M1064 518h0M1064 517h0M1064 514h0M1064 552h0M1063 556h0M1064 553h0M1064 558h0M1065 513h0M1065 553h0M1065 556h0M1066 552h0M1066 553h0M1065 561h0M1066 519h0M1066 555h0M1066 555h0M1066 552h0M1066 558h0M1066 557h0M1067 517h0M1067 522h0M1066 518h0M1067 522h0M1067 517h0M1067 520h0M1067 555h0M1067 557h0M1067 554h0M1067 557h0M1068 514h0M1068 513h0M1068 514h0M1069 516h0M1068 519h0M1068 552h0M1068 553h0M1068 563h0M1068 561h0M1068 558h0M1069 517h0M1069 520h0M1069 514h0M1069 520h0M1070 555h0M1070 552h0M1068 554h0M1069 553h0M1070 556h0M1070 519h0M1069 517h0M1070 520h0M1071 516h0M1070 515h0M1070 515h0M1070 552h0M1070 552h0M1070 557h0M1070 552h0M1070 561h0M1070 556h0M1072 514h0M1071 519h0M1071 517h0M1071 520h0M1071 520h0M1071 517h0M1071 509h0M1071 558h0M1071 554h0M1071 551h0M1072 516h0M1072 510h0M1073 511h0M1072 519h0M1072 561h0M1071 550h0M1073 517h0M1073 510h0M1073 517h0M1073 555h0M1072 555h0M1073 553h0M1072 555h0M1073 559h0M1073 552h0M1073 555h0M1074 517h0M1075 520h0M1074 520h0M1074 555h0M1074 552h0M1074 555h0M1074 557h0M1074 553h0M1075 512h0M1075 515h0M1075 554h0M1075 566h0M1075 560h0M1075 556h0M1075 557h0M1075 553h0M1076 515h0M1076 550h0M1075 554h0M1075 552h0M1076 558h0M1076 555h0M1076 558h0M1077 556h0M1077 551h0M1077 552h0M1078 517h0M1079 508h0M1078 518h0M1078 551h0M1078 552h0M1079 556h0M1077 553h0M1078 551h0M1078 558h0M1078 552h0M1078 555h0M1079 560h0M1079 555h0M1079 553h0M1078 561h0M1079 557h0M1079 555h0M1080 553h0M1079 551h0M1079 554h0M1080 511h0M1080 515h0M1081 514h0M1080 515h0M1080 556h0M1080 550h0M1080 555h0M1081 519h0M1082 517h0M1081 518h0M1081 517h0M1081 518h0M1081 559h0M1081 554h0M1081 555h0M1081 560h0M1081 552h0M1082 515h0M1082 517h0M1082 519h0M1082 517h0M1082 518h0M1082 513h0M1082 520h0M1082 552h0M1081 553h0M1083 516h0M1083 517h0M1083 505h0M1083 520h0M1084 515h0M1083 518h0M1083 518h0M1083 509h0M1084 518h0M1084 521h0M1084 522h0M1084 519h0M1083 521h0M1084 519h0M1085 558h0M1085 559h0M1086 518h0M1086 521h0M1086 519h0M1086 514h0M1087 519h0M1086 518h0M1086 510h0M1087 515h0M1087 518h0M1087 520h0M1088 552h0M1086 555h0M1088 517h0M1088 516h0M1089 506h0M1088 520h0M1088 515h0M1088 518h0M1088 559h0M1089 520h0M1089 519h0M1090 510h0M1089 519h0M1089 521h0M1089 519h0M1089 517h0M1090 521h0M1089 552h0M1089 554h0M1089 552h0M1089 552h0M1089 552h0M1090 518h0M1090 518h0M1090 518h0M1090 518h0M1090 556h0M1091 554h0M1090 553h0M1090 555h0M1090 563h0M1091 515h0M1091 514h0M1091 516h0M1092 519h0M1090 554h0M1091 552h0M1092 560h0M1091 554h0M1091 521h0M1093 518h0M1092 520h0M1092 517h0M1092 556h0M1092 519h0M1093 517h0M1093 521h0M1094 520h0M1095 519h0M1095 519h0M1096 517h0M1096 512h0M1096 512h0M1096 516h0M1097 514h0M1097 518h0M1097 518h0M1097 517h0M1097 518h0M1097 518h0M1097 552h0M1097 551h0M1097 551h0M1097 554h0M1098 516h0M1098 516h0M1098 513h0M1098 520h0M1098 514h0M1098 514h0M1098 513h0M1098 519h0M1098 562h0M1098 554h0M1098 554h0M1099 510h0M1098 515h0M1099 517h0M1099 515h0M1099 513h0M1099 517h0M1099 520h0M1099 517h0M1100 520h0M1099 516h0M1100 556h0M1100 517h0M1100 508h0M1100 515h0M1100 517h0M1099 512h0M1101 517h0M1100 515h0M1100 519h0M1100 553h0M1100 564h0M1100 555h0M1101 515h0M1101 520h0M1101 514h0M1101 520h0M1101 519h0M1102 520h0M1101 517h0M1102 521h0M1101 515h0M1102 521h0M1102 521h0M1102 521h0M1102 519h0M1102 558h0M1102 556h0M1103 520h0M1103 516h0M1103 520h0M1103 518h0M1103 518h0M1102 558h0M1103 557h0M1105 516h0M1104 517h0M1104 519h0M1104 519h0M1104 553h0M1105 518h0M1105 517h0M1105 513h0M1105 512h0M1105 516h0M1105 517h0M1105 519h0M1105 554h0M1106 515h0M1106 517h0M1106 516h0M1105 522h0M1106 521h0M1106 519h0M1106 521h0M1106 517h0M1105 518h0M1106 517h0M1106 553h0M1107 516h0M1107 517h0M1108 521h0M1106 520h0M1107 515h0M1107 521h0M1107 519h0M1107 520h0M1107 555h0M1107 554h0M1107 560h0M1106 553h0M1106 558h0M1108 520h0M1108 561h0M1108 555h0M1108 554h0M1107 553h0M1108 552h0M1109 520h0M1110 554h0M1109 556h0M1110 513h0M1110 556h0M1110 552h0M1111 513h0M1111 515h0M1111 516h0M1111 519h0M1111 516h0M1111 554h0M1112 518h0M1112 515h0M1112 513h0M1112 521h0M1111 516h0M1112 517h0M1112 516h0M1111 553h0M1113 517h0M1113 515h0M1113 520h0M1113 521h0M1113 520h0M1113 518h0M1113 551h0M1114 514h0M1114 520h0M1113 514h0M1113 518h0M1114 521h0M1114 521h0M1114 519h0M1115 560h0M1114 557h0M1116 520h0M1116 510h0M1115 520h0M1115 520h0M1116 519h0M1115 520h0M1115 518h0M1115 553h0M1116 555h0M1116 520h0M1117 516h0M1116 518h0M1116 509h0M1115 514h0M1116 519h0M1116 554h0M1116 557h0M1116 558h0M1115 560h0M1116 558h0M1115 561h0M1117 512h0M1117 519h0M1118 520h0M1117 514h0M1117 520h0M1117 554h0M1118 554h0M1116 554h0M1117 555h0M1118 556h0M1117 553h0M1118 517h0M1118 510h0M1118 517h0M1118 517h0M1118 560h0M1118 559h0M1118 556h0M1118 553h0M1118 553h0M1119 518h0M1119 518h0M1119 555h0M1119 558h0M1120 555h0M1119 555h0M1119 561h0M1119 552h0M1119 552h0M1120 519h0M1120 517h0M1121 552h0M1120 561h0M1120 553h0M1120 561h0M1120 556h0M1121 512h0M1121 553h0M1121 556h0M1121 557h0M1121 555h0M1121 552h0M1122 515h0M1123 520h0M1122 551h0M1122 554h0M1122 552h0M1122 557h0M1122 553h0M1123 521h0M1123 507h0M1123 555h0M1124 553h0M1123 552h0M1123 555h0M1123 553h0M1123 556h0M1123 551h0M1124 515h0M1124 552h0M1124 556h0M1124 553h0M1124 558h0M1124 552h0M1124 559h0M1124 558h0M1125 519h0M1125 516h0M1125 519h0M1125 555h0M1125 553h0M1125 552h0M1125 552h0M1125 552h0M1125 552h0M1125 552h0M1125 560h0M1126 520h0M1126 519h0M1126 558h0M1126 552h0M1126 552h0M1126 559h0M1126 554h0M1126 553h0M1126 552h0M1127 552h0M1126 552h0M1127 518h0M1127 516h0M1127 552h0M1127 560h0M1127 551h0M1127 553h0M1127 553h0M1127 555h0M1127 557h0M1127 553h0M1127 557h0M1128 519h0M1128 560h0M1128 556h0M1128 552h0M1128 552h0M1128 555h0M1128 557h0M1128 556h0M1128 560h0M1128 558h0M1129 508h0M1129 518h0M1130 519h0M1129 557h0M1130 551h0M1129 559h0M1129 557h0M1129 554h0M1129 560h0M1130 516h0M1130 518h0M1130 517h0M1130 519h0M1129 562h0M1130 554h0M1130 558h0M1130 519h0M1131 511h0M1131 517h0M1131 514h0M1131 555h0M1131 552h0M1131 552h0M1131 552h0M1132 515h0M1132 514h0M1132 518h0M1132 551h0M1132 550h0M1132 558h0M1132 551h0M1133 553h0M1132 554h0M1134 517h0M1133 518h0M1133 513h0M1133 519h0M1133 512h0M1133 556h0M1133 559h0M1134 554h0M1134 516h0M1134 519h0M1134 518h0M1134 510h0M1133 552h0M1134 552h0M1134 551h0M1134 558h0M1135 555h0M1136 519h0M1136 517h0M1136 516h0M1136 517h0M1136 518h0M1136 557h0M1137 553h0M1137 519h0M1137 514h0M1137 520h0M1137 520h0M1137 520h0M1138 521h0M1138 520h0M1138 515h0M1138 514h0M1138 517h0M1138 521h0M1138 513h0M1139 519h0M1139 516h0M1139 517h0M1139 515h0M1139 553h0M1139 553h0M1141 516h0M1140 558h0M1140 555h0M1141 551h0M1141 550h0M1141 557h0M1142 518h0M1142 516h0M1142 518h0M1142 552h0M1143 551h0M1142 554h0M1143 515h0M1143 519h0M1143 557h0M1144 519h0M1144 517h0M1144 553h0M1145 553h0M1145 518h0M1145 554h0M1144 552h0M1144 551h0M1145 553h0M1145 552h0M1145 553h0M1146 555h0M1146 552h0M1147 552h0M1146 552h0M1146 563h0M1146 517h0M1147 511h0M1147 516h0M1148 513h0M1147 556h0M1147 560h0M1147 551h0M1147 557h0M1147 552h0M1148 518h0M1148 514h0M1148 552h0M1148 553h0M1148 550h0M1148 555h0M1147 558h0M1148 554h0M1149 519h0M1149 557h0M1149 558h0M1149 557h0M1149 557h0M1150 560h0M1149 555h0M1149 559h0M1151 553h0M1150 556h0M1150 559h0M1149 554h0M1150 554h0M1150 556h0M1151 556h0M1150 553h0M1151 515h0M1151 518h0M1151 554h0M1151 552h0M1151 553h0M1150 553h0M1151 552h0M1151 555h0M1151 557h0M1150 555h0M1152 510h0M1152 520h0M1152 512h0M1152 517h0M1152 513h0M1152 553h0M1152 555h0M1152 555h0M1152 558h0M1152 553h0M1152 552h0M1152 553h0M1153 519h0M1154 510h0M1153 515h0M1152 512h0M1153 520h0M1153 518h0M1152 552h0M1153 555h0M1153 552h0M1153 555h0M1153 559h0M1153 553h0M1153 554h0M1154 521h0M1154 519h0M1154 518h0M1154 515h0M1154 520h0M1154 511h0M1154 555h0M1154 563h0M1154 560h0M1155 552h0M1155 520h0M1155 515h0M1155 520h0M1155 520h0M1155 514h0M1155 554h0M1155 556h0M1155 557h0M1156 517h0M1155 520h0M1156 519h0M1156 517h0M1156 519h0M1156 516h0M1156 517h0M1155 552h0M1157 552h0M1156 553h0M1156 552h0M1156 553h0M1156 552h0M1158 520h0M1157 515h0M1157 518h0M1156 518h0M1157 513h0M1156 514h0M1157 520h0M1156 514h0M1157 557h0M1157 553h0M1157 559h0M1157 557h0M1157 558h0M1157 555h0M1157 556h0M1158 562h0M1158 554h0M1158 512h0M1158 520h0M1158 520h0M1157 517h0M1158 517h0M1159 515h0M1158 518h0M1158 555h0M1158 553h0M1158 551h0M1158 555h0M1158 555h0M1158 553h0M1158 559h0M1158 562h0M1159 520h0M1159 514h0M1159 514h0M1160 509h0M1159 555h0M1159 553h0M1159 561h0M1159 557h0M1159 556h0M1159 561h0M1159 553h0M1159 553h0M1160 505h0M1160 519h0M1161 513h0M1160 519h0M1160 518h0M1160 518h0M1160 516h0M1160 553h0M1160 555h0M1160 552h0M1160 559h0M1160 554h0M1161 558h0M1161 515h0M1161 516h0M1161 512h0M1161 518h0M1161 513h0M1160 518h0M1161 519h0M1161 555h0M1161 551h0M1161 558h0M1161 552h0M1161 555h0M1161 558h0M1161 556h0M1161 518h0M1162 520h0M1162 515h0M1162 514h0M1162 519h0M1161 510h0M1162 556h0M1162 559h0M1162 555h0M1162 555h0M1162 557h0M1162 562h0M1162 520h0M1163 518h0M1163 516h0M1163 516h0M1163 550h0M1163 552h0M1163 550h0M1162 554h0M1164 520h0M1164 510h0M1164 513h0M1164 514h0M1164 519h0M1164 554h0M1164 555h0M1164 557h0M1164 558h0M1164 551h0M1165 550h0M1163 551h0M1165 518h0M1165 520h0M1166 550h0M1165 563h0M1165 553h0M1165 550h0M1165 562h0M1165 553h0M1166 512h0M1165 521h0M1166 520h0M1165 551h0M1166 556h0M1166 553h0M1166 556h0M1166 552h0M1166 555h0M1167 516h0M1167 517h0M1167 555h0M1167 560h0M1167 553h0M1168 518h0M1168 553h0M1168 557h0M1168 552h0M1168 553h0" stroke="#000" stroke-width="3.2" stroke-linecap="round"/>
<path d="M1170 450.7 1171 449.2 1172 449.4 1173 449.0 1174 448.3 1175 448.1 1176 448.1 1177 448.3 1178 448.9 1179 449.8 1180 449.6 1181 450.2 1182 450.1 1183 449.7 1184 449.2 1185 448.3 1186 447.3 1187 447.9 1188 448.1 1189 448.7 1190 449.0 1191 448.0 1192 447.8 1193 447.3 1194 448.7 1195 448.7 1196 448.9 1197 448.2 1198 447.4 1199 447.5 1200 448.0 1201 448.7 1202 447.6 1203 448.3 1204 447.9 1205 447.8 1206 448.0 1207 448.0 1208 448.7 1209 449.4 1210 449.5 1211 448.8 1212 449.2 1213 449.3 1214 449.8 1215 449.7 1216 448.1 1217 447.8 1218 447.9 1219 449.0 1220 448.8 1221 449.6 1222 449.5 1223 448.3 1224 448.6 1225 449.1 1226 449.3 1227 448.0 1228 448.7 1229 448.3 1230 446.9 1231 447.2 1232 446.3 1233 446.3 1234 448.4 1235 450.5 1236 450.7 1237 450.3 1238 451.2 1239 450.6 1240 449.1 1241 447.1 1242 448.5 1243 446.9 1244 445.4 1245 446.3 1246 447.3 1247 447.3 1248 448.7 1249 448.7 1250 448.9 1251 449.3 1252 448.6 1253 448.9 1254 450.7 1255 449.3 1256 449.2 1257 449.5 1258 448.8 1259 448.8 1260 447.5 1261 447.7 1262 448.2 1263 449.3 1264 449.9 1265 449.0 1266 448.1 1267 449.9 1268 450.2 1269 448.2 1270 448.2 1271 447.7 1272 447.7 1273 446.8 1274 447.3 1275 447.5 1276 447.9 1277 449.1 1278 449.2 1279 448.1 1280 447.0 1281 447.4 1282 448.9 1283 449.6 1284 448.9 1285 449.8 1286 449.8 1287 449.0 1288 449.3 1289 449.1 1290 448.1 1291 448.1 1292 448.5 1293 449.7 L1293 483.8 1292 483.2 1291 483.5 1290 484.7 1289 484.4 1288 483.5 1287 483.7 1286 483.2 1285 483.1 1284 482.7 1283 482.7 1282 484.0 1281 484.4 1280 484.3 1279 483.2 1278 485.0 1277 485.4 1276 485.3 1275 485.3 1274 486.5 1273 484.5 1272 482.3 1271 482.2 1270 484.0 1269 484.1 1268 482.8 1267 483.2 1266 483.8 1265 482.8 1264 483.2 1263 483.8 1262 483.2 1261 483.8 1260 484.3 1259 484.0 1258 483.5 1257 482.8 1256 482.7 1255 482.9 1254 483.7 1253 482.7 1252 482.9 1251 484.2 1250 483.9 1249 485.9 1248 485.5 1247 485.1 1246 485.7 1245 485.0 1244 486.0 1243 486.6 1242 485.2 1241 484.2 1240 485.4 1239 484.6 1238 484.5 1237 485.0 1236 484.4 1235 486.2 1234 486.4 1233 486.2 1232 485.6 1231 485.2 1230 484.7 1229 485.4 1228 485.6 1227 484.4 1226 484.8 1225 483.5 1224 484.0 1223 483.5 1222 483.9 1221 483.2 1220 483.2 1219 484.0 1218 483.9 1217 484.4 1216 484.7 1215 485.7 1214 484.3 1213 484.8 1212 484.8 1211 484.5 1210 483.8 1209 483.6 1208 483.2 1207 484.3 1206 483.3 1205 485.0 1204 484.5 1203 485.5 1202 483.4 1201 484.1 1200 483.0 1199 482.9 1198 482.9 1197 483.1 1196 484.4 1195 484.4 1194 485.8 1193 486.0 1192 485.9 1191 484.8 1190 482.6 1189 482.6 1188 482.2 1187 482.6 1186 483.1 1185 483.2 1184 484.1 1183 484.6 1182 484.8 1181 485.8 1180 485.7 1179 486.1 1178 485.5 1177 486.0 1176 485.2 1175 484.3 1174 482.9 1173 483.8 1172 483.8 1171 483.6 1170 483.1Z" fill="#000" stroke="#000" stroke-width="3.2" stroke-linejoin="round"/>
<path d="M1170 447h0M1170 444h0M1170 438h0M1170 447h0M1170 493h0M1170 490h0M1170 485h0M1170 496h0M1170 487h0M1169 491h0M1171 447h0M1171 432h0M1171 447h0M1171 433h0M1171 433h0M1171 445h0M1171 439h0M1171 448h0M1171 488h0M1172 449h0M1172 445h0M1171 446h0M1172 432h0M1172 438h0M1172 485h0M1172 489h0M1173 445h0M1173 446h0M1173 439h0M1173 446h0M1173 441h0M1172 449h0M1173 488h0M1172 491h0M1173 488h0M1173 488h0M1173 488h0M1173 487h0M1173 486h0M1174 446h0M1173 434h0M1173 448h0M1174 448h0M1174 447h0M1174 448h0M1174 448h0M1175 495h0M1174 485h0M1174 490h0M1174 495h0M1174 486h0M1174 483h0M1175 485h0M1174 489h0M1175 447h0M1175 443h0M1175 433h0M1175 489h0M1175 489h0M1175 487h0M1176 445h0M1176 446h0M1176 442h0M1176 446h0M1175 442h0M1176 432h0M1175 442h0M1177 496h0M1176 485h0M1176 490h0M1176 486h0M1176 489h0M1176 505h0M1176 491h0M1176 490h0M1176 486h0M1178 443h0M1177 441h0M1177 436h0M1177 444h0M1177 447h0M1177 434h0M1178 496h0M1177 489h0M1177 493h0M1178 497h0M1177 489h0M1176 492h0M1177 494h0M1178 445h0M1178 448h0M1178 447h0M1178 487h0M1178 495h0M1178 489h0M1178 491h0M1179 490h0M1178 494h0M1178 488h0M1178 491h0M1179 444h0M1179 438h0M1179 490h0M1179 489h0M1179 488h0M1180 496h0M1179 487h0M1179 487h0M1179 496h0M1179 493h0M1179 487h0M1180 487h0M1180 494h0M1180 491h0M1180 494h0M1180 494h0M1180 490h0M1180 492h0M1180 495h0M1180 441h0M1182 488h0M1182 488h0M1181 486h0M1180 499h0M1180 487h0M1181 491h0M1181 492h0M1181 490h0M1182 446h0M1182 446h0M1182 449h0M1183 500h0M1183 435h0M1183 441h0M1183 443h0M1183 496h0M1185 444h0M1184 441h0M1184 488h0M1184 486h0M1185 441h0M1185 437h0M1185 443h0M1185 486h0M1185 488h0M1186 447h0M1186 432h0M1186 442h0M1186 439h0M1186 447h0M1186 444h0M1185 484h0M1186 488h0M1186 489h0M1187 442h0M1187 446h0M1186 448h0M1187 485h0M1188 487h0M1187 488h0M1186 489h0M1187 495h0M1187 484h0M1189 440h0M1188 442h0M1188 442h0M1188 487h0M1188 494h0M1188 483h0M1187 483h0M1187 489h0M1188 484h0M1188 483h0M1188 488h0M1189 429h0M1189 440h0M1189 443h0M1189 446h0M1188 447h0M1190 491h0M1190 483h0M1189 489h0M1189 487h0M1189 488h0M1190 444h0M1190 443h0M1190 446h0M1190 446h0M1189 445h0M1190 447h0M1190 433h0M1190 489h0M1190 486h0M1189 490h0M1189 485h0M1190 500h0M1189 484h0M1190 495h0M1191 444h0M1190 447h0M1191 435h0M1191 441h0M1191 440h0M1191 440h0M1191 437h0M1190 495h0M1191 499h0M1191 490h0M1191 497h0M1191 486h0M1191 495h0M1191 486h0M1191 494h0M1191 488h0M1192 442h0M1192 435h0M1192 438h0M1192 425h0M1192 436h0M1192 448h0M1193 440h0M1192 446h0M1192 434h0M1192 444h0M1192 442h0M1192 487h0M1191 492h0M1192 495h0M1192 491h0M1192 490h0M1192 499h0M1192 487h0M1192 499h0M1193 428h0M1194 436h0M1193 443h0M1193 443h0M1193 446h0M1193 439h0M1193 443h0M1193 442h0M1193 444h0M1192 493h0M1193 494h0M1193 491h0M1193 500h0M1193 490h0M1193 496h0M1193 489h0M1193 492h0M1194 444h0M1193 447h0M1194 448h0M1194 444h0M1194 438h0M1193 446h0M1195 445h0M1195 443h0M1195 490h0M1196 444h0M1196 436h0M1196 496h0M1196 439h0M1197 447h0M1198 447h0M1197 440h0M1197 442h0M1198 443h0M1198 439h0M1198 447h0M1198 442h0M1198 490h0M1199 441h0M1199 438h0M1198 445h0M1199 438h0M1199 486h0M1199 492h0M1199 489h0M1199 492h0M1199 487h0M1198 495h0M1201 446h0M1199 447h0M1200 486h0M1200 490h0M1202 444h0M1203 490h0M1203 494h0M1205 447h0M1204 438h0M1204 443h0M1204 438h0M1204 446h0M1204 443h0M1204 494h0M1204 485h0M1204 485h0M1204 495h0M1204 492h0M1205 447h0M1205 439h0M1204 431h0M1205 441h0M1205 428h0M1205 444h0M1205 436h0M1206 488h0M1205 498h0M1204 489h0M1206 489h0M1206 444h0M1206 428h0M1206 441h0M1206 443h0M1205 447h0M1205 444h0M1206 447h0M1206 443h0M1206 483h0M1206 485h0M1206 492h0M1206 494h0M1207 446h0M1207 446h0M1207 439h0M1207 448h0M1207 448h0M1207 444h0M1207 444h0M1207 442h0M1207 441h0M1207 436h0M1207 487h0M1208 442h0M1209 446h0M1208 448h0M1208 445h0M1208 434h0M1208 433h0M1208 434h0M1208 440h0M1208 486h0M1208 496h0M1208 492h0M1209 441h0M1209 442h0M1208 449h0M1209 445h0M1209 448h0M1209 442h0M1209 448h0M1210 439h0M1209 445h0M1210 449h0M1209 449h0M1209 505h0M1210 443h0M1210 448h0M1209 446h0M1210 438h0M1210 440h0M1210 444h0M1210 443h0M1210 444h0M1210 449h0M1210 486h0M1209 485h0M1210 487h0M1211 491h0M1210 485h0M1211 434h0M1210 434h0M1211 446h0M1212 446h0M1211 500h0M1211 485h0M1211 489h0M1211 488h0M1210 490h0M1211 491h0M1211 449h0M1213 438h0M1212 488h0M1213 439h0M1213 444h0M1213 448h0M1214 486h0M1213 487h0M1213 501h0M1214 448h0M1215 489h0M1216 434h0M1215 437h0M1215 446h0M1215 446h0M1215 448h0M1215 439h0M1215 446h0M1216 490h0M1215 487h0M1215 487h0M1215 489h0M1216 441h0M1216 443h0M1216 443h0M1216 448h0M1216 438h0M1216 443h0M1216 445h0M1217 442h0M1217 430h0M1217 439h0M1218 444h0M1217 438h0M1217 447h0M1216 434h0M1217 487h0M1217 496h0M1217 486h0M1217 484h0M1217 489h0M1217 497h0M1218 448h0M1218 446h0M1218 439h0M1218 443h0M1218 485h0M1218 490h0M1219 487h0M1218 484h0M1218 487h0M1218 486h0M1218 487h0M1219 442h0M1219 442h0M1219 436h0M1219 444h0M1219 484h0M1219 485h0M1219 495h0M1219 500h0M1218 491h0M1218 485h0M1219 491h0M1219 500h0M1219 489h0M1219 485h0M1219 493h0M1219 487h0M1220 440h0M1220 446h0M1220 445h0M1220 446h0M1220 433h0M1220 483h0M1220 485h0M1221 483h0M1220 485h0M1220 489h0M1220 493h0M1220 485h0M1220 492h0M1220 484h0M1220 487h0M1220 484h0M1221 445h0M1221 445h0M1221 449h0M1222 491h0M1221 489h0M1221 488h0M1220 496h0M1221 495h0M1221 488h0M1221 486h0M1221 498h0M1221 499h0M1222 444h0M1222 443h0M1222 443h0M1222 445h0M1222 488h0M1222 487h0M1222 486h0M1221 493h0M1221 484h0M1222 491h0M1222 492h0M1222 491h0M1222 487h0M1222 489h0M1222 488h0M1223 433h0M1222 440h0M1223 441h0M1223 443h0M1223 490h0M1223 493h0M1223 484h0M1223 489h0M1223 496h0M1224 441h0M1224 444h0M1223 443h0M1224 435h0M1224 448h0M1224 487h0M1224 487h0M1225 493h0M1224 494h0M1225 442h0M1225 496h0M1225 491h0M1225 505h0M1226 443h0M1226 444h0M1226 446h0M1227 439h0M1225 493h0M1226 494h0M1226 490h0M1226 492h0M1227 445h0M1227 441h0M1226 447h0M1227 438h0M1228 501h0M1228 446h0M1228 448h0M1228 495h0M1229 438h0M1230 496h0M1230 443h0M1230 497h0M1231 442h0M1231 437h0M1232 441h0M1232 437h0M1232 431h0M1232 439h0M1232 443h0M1232 441h0M1232 489h0M1232 500h0M1232 500h0M1233 445h0M1233 446h0M1233 430h0M1233 490h0M1233 489h0M1233 495h0M1235 443h0M1234 444h0M1233 441h0M1234 446h0M1234 439h0M1234 435h0M1234 447h0M1234 488h0M1234 487h0M1234 499h0M1235 449h0M1236 438h0M1235 450h0M1235 449h0M1235 442h0M1234 448h0M1235 443h0M1235 439h0M1235 441h0M1234 443h0M1235 489h0M1235 495h0M1235 488h0M1235 490h0M1236 492h0M1235 495h0M1236 448h0M1236 439h0M1236 447h0M1236 447h0M1236 447h0M1236 449h0M1236 447h0M1236 439h0M1236 450h0M1237 445h0M1237 444h0M1236 445h0M1237 447h0M1238 443h0M1237 449h0M1237 450h0M1237 450h0M1237 450h0M1237 447h0M1236 491h0M1238 444h0M1238 438h0M1239 449h0M1238 437h0M1238 445h0M1238 438h0M1238 450h0M1237 448h0M1239 440h0M1238 447h0M1238 493h0M1239 450h0M1239 449h0M1239 444h0M1239 490h0M1240 446h0M1241 448h0M1240 447h0M1240 444h0M1240 448h0M1240 426h0M1240 447h0M1241 443h0M1240 489h0M1241 436h0M1241 445h0M1241 441h0M1241 444h0M1241 436h0M1241 444h0M1240 499h0M1242 447h0M1242 444h0M1242 441h0M1242 443h0M1242 489h0M1243 438h0M1243 438h0M1243 445h0M1243 443h0M1244 496h0M1246 444h0M1246 493h0M1247 487h0M1247 497h0M1247 488h0M1248 488h0M1248 489h0M1248 489h0M1248 491h0M1248 494h0M1249 438h0M1250 445h0M1249 444h0M1249 432h0M1249 489h0M1248 497h0M1249 490h0M1249 489h0M1249 488h0M1249 489h0M1250 439h0M1250 441h0M1250 426h0M1249 446h0M1250 488h0M1250 487h0M1250 489h0M1250 489h0M1250 491h0M1251 449h0M1251 445h0M1251 444h0M1251 492h0M1250 490h0M1251 496h0M1251 490h0M1251 492h0M1250 498h0M1251 490h0M1252 439h0M1251 434h0M1252 447h0M1252 448h0M1252 437h0M1252 492h0M1252 486h0M1252 486h0M1253 442h0M1252 434h0M1253 443h0M1253 484h0M1253 485h0M1253 484h0M1253 484h0M1254 438h0M1254 447h0M1254 450h0M1254 439h0M1255 484h0M1254 485h0M1254 488h0M1253 484h0M1254 486h0M1254 486h0M1254 488h0M1254 484h0M1254 489h0M1255 439h0M1255 444h0M1255 446h0M1256 445h0M1255 441h0M1256 486h0M1255 485h0M1255 484h0M1255 494h0M1255 487h0M1255 486h0M1257 449h0M1256 440h0M1257 449h0M1256 448h0M1255 485h0M1256 501h0M1256 487h0M1257 444h0M1257 427h0M1257 441h0M1258 445h0M1258 445h0M1257 445h0M1258 447h0M1259 438h0M1259 445h0M1259 440h0M1260 446h0M1259 488h0M1259 489h0M1259 506h0M1260 446h0M1261 439h0M1260 445h0M1260 436h0M1260 436h0M1260 436h0M1260 490h0M1260 492h0M1261 445h0M1261 445h0M1261 492h0M1262 445h0M1262 492h0M1262 484h0M1262 488h0M1263 495h0M1262 496h0M1263 484h0M1263 491h0M1263 492h0M1263 486h0M1263 491h0M1263 494h0M1264 445h0M1264 444h0M1264 489h0M1264 486h0M1263 487h0M1264 486h0M1263 497h0M1264 486h0M1265 487h0M1265 485h0M1265 488h0M1264 490h0M1266 437h0M1266 442h0M1267 447h0M1266 443h0M1266 485h0M1266 496h0M1266 491h0M1266 488h0M1267 486h0M1266 484h0M1266 493h0M1266 485h0M1267 441h0M1267 440h0M1267 444h0M1266 445h0M1267 449h0M1267 444h0M1267 448h0M1267 447h0M1267 491h0M1267 484h0M1267 484h0M1267 488h0M1267 487h0M1267 491h0M1267 504h0M1267 486h0M1267 490h0M1267 493h0M1267 449h0M1269 449h0M1268 441h0M1268 450h0M1268 444h0M1268 494h0M1268 490h0M1268 492h0M1269 490h0M1269 492h0M1268 488h0M1268 487h0M1268 492h0M1269 440h0M1270 431h0M1269 443h0M1269 441h0M1269 439h0M1269 445h0M1269 440h0M1268 447h0M1269 486h0M1269 488h0M1269 486h0M1269 486h0M1269 495h0M1270 444h0M1270 490h0M1270 489h0M1270 496h0M1270 488h0M1270 498h0M1270 488h0M1271 495h0M1270 493h0M1270 487h0M1270 491h0M1270 495h0M1271 501h0M1271 447h0M1271 439h0M1271 484h0M1271 487h0M1271 483h0M1271 497h0M1272 483h0M1271 496h0M1272 484h0M1272 439h0M1271 486h0M1272 484h0M1273 485h0M1273 445h0M1273 447h0M1273 445h0M1273 490h0M1274 443h0M1274 436h0M1274 442h0M1275 438h0M1274 442h0M1274 442h0M1275 443h0M1275 439h0M1275 443h0M1275 446h0M1275 442h0M1275 441h0M1275 492h0M1276 445h0M1276 444h0M1276 442h0M1276 436h0M1277 442h0M1276 491h0M1276 491h0M1277 448h0M1278 443h0M1278 446h0M1278 446h0M1278 441h0M1278 496h0M1279 442h0M1279 443h0M1280 484h0M1280 439h0M1280 446h0M1280 442h0M1280 440h0M1280 489h0M1281 438h0M1282 489h0M1282 447h0M1282 440h0M1282 491h0M1283 441h0M1283 442h0M1283 447h0M1283 442h0M1283 447h0M1283 484h0M1283 488h0M1284 483h0M1285 486h0M1285 485h0M1284 495h0M1285 488h0M1287 489h0M1286 492h0M1285 489h0M1286 486h0M1287 445h0M1288 486h0M1287 487h0M1287 492h0M1288 485h0M1288 486h0M1288 493h0M1288 489h0M1289 487h0M1288 449h0M1289 489h0M1289 489h0M1289 503h0M1290 491h0M1288 492h0M1289 490h0M1290 444h0M1290 497h0M1289 489h0M1290 490h0M1290 488h0M1290 493h0M1290 490h0M1290 497h0M1290 487h0M1291 438h0M1291 506h0M1291 487h0M1290 500h0M1291 496h0M1292 497h0M1292 488h0M1290 500h0M1291 486h0M1291 495h0M1292 485h0M1292 485h0M1292 488h0M1292 493h0M1292 488h0M1293 489h0M1292 484h0M1291 493h0M1292 488h0M1294 448h0M1293 485h0M1293 485h0M1292 499h0M1293 488h0M1293 489h0M1293 486h0" stroke="#000" stroke-width="3.2" stroke-linecap="round"/>
<rect x="105.3" y="502" width="1245.2" height="48.7" fill="#ff0000" fill-opacity="0.12"/>
<rect x="161.5" y="518.8" width="684.0" height="26.1" fill="#ffa500" fill-opacity="0.13"/>
<rect x="845.5" y="526.7" width="323.5" height="22.6" fill="#ffa500" fill-opacity="0.13"/>
<rect x="1168" y="451.8" width="127.0" height="31.0" fill="#ffa500" fill-opacity="0.13"/>
<path d="M105.3 525.8H1350.5" stroke="#ff0000" stroke-width="2.08"/>
<path d="M161.5 531.4H845.5M845.5 538.4H1169M1168 467.5H1295" stroke="#ffa500" stroke-width="3.0"/>
<text x="481.91" y="661.00" font-size="14.58" textLength="44.19" lengthAdjust="spacingAndGlyphs">17878</text>
<text x="984.41" y="641.00" font-size="14.58" textLength="44.19" lengthAdjust="spacingAndGlyphs">19887</text>
<text x="1207.51" y="621.00" font-size="14.58" textLength="44.19" lengthAdjust="spacingAndGlyphs">30544</text>
<rect x="1354.5" y="389.5" width="113.1" height="47.7" rx="2.8" fill="#fff" fill-opacity="0.8" stroke="#cccccc" stroke-width="1.11"/>
<path d="M1358 401.5H1388.8" stroke="#ffa500" stroke-width="3.0"/>
<path d="M1358 424H1388" stroke="#ff0000" stroke-width="2.08"/>
<text x="1399.60" y="405.60" font-size="14.58" textLength="30.86" lengthAdjust="spacingAndGlyphs">mag</text>
<text x="1429.60" y="407.60" font-size="10.21" textLength="30.84" lengthAdjust="spacingAndGlyphs" font-style="italic">OBSID</text>
<text x="1398.70" y="428.50" font-size="14.58" textLength="30.86" lengthAdjust="spacingAndGlyphs">mag</text>
<rect x="1337.4" y="617.4" width="130.1" height="45.6" rx="2.8" fill="#fff" fill-opacity="0.8" stroke="#cccccc" stroke-width="1.11"/>
<circle cx="1356.5" cy="630.4" r="2.1" fill="#ffa500"/>
<text x="1381.50" y="633.70" font-size="14.58" textLength="80.07" lengthAdjust="spacingAndGlyphs">Highlighted</text>
<circle cx="1356.5" cy="651.4" r="2.1" fill="#000"/>
<text x="1381.50" y="654.70" font-size="14.58" textLength="20.04" lengthAdjust="spacingAndGlyphs">OK</text>
<path d="M162.30 670.4V382.3" stroke="#800080" stroke-width="2.08" stroke-dasharray="2.08 3.43"/>
<path d="M845.00 670.4V382.3" stroke="#800080" stroke-width="2.08" stroke-dasharray="2.08 3.43"/>
<path d="M1168.00 670.4V382.3" stroke="#800080" stroke-width="2.08" stroke-dasharray="2.08 3.43"/>
<path d="M1293.00 670.4V382.3" stroke="#800080" stroke-width="2.08" stroke-dasharray="2.08 3.43"/>
<rect x="105.3" y="382.3" width="1369.20" height="288.10" fill="none" stroke="#000" stroke-width="1.11"/>
<path d="M100.44 638.30H105.3M100.44 605.58H105.3M100.44 572.87H105.3M100.44 540.16H105.3M100.44 507.44H105.3M100.44 474.73H105.3M100.44 442.01H105.3M100.44 409.30H105.3" stroke="#000" stroke-width="1.11"/>
<text x="64.65" y="643.30" font-size="14.58" textLength="30.93" lengthAdjust="spacingAndGlyphs">8.06</text>
<text x="64.65" y="610.58" font-size="14.58" textLength="30.93" lengthAdjust="spacingAndGlyphs">8.08</text>
<text x="64.65" y="577.87" font-size="14.58" textLength="30.93" lengthAdjust="spacingAndGlyphs">8.10</text>
<text x="64.65" y="545.16" font-size="14.58" textLength="30.93" lengthAdjust="spacingAndGlyphs">8.12</text>
<text x="64.65" y="512.44" font-size="14.58" textLength="30.93" lengthAdjust="spacingAndGlyphs">8.14</text>
<text x="64.65" y="479.73" font-size="14.58" textLength="30.93" lengthAdjust="spacingAndGlyphs">8.16</text>
<text x="64.65" y="447.01" font-size="14.58" textLength="30.93" lengthAdjust="spacingAndGlyphs">8.18</text>
<text x="64.65" y="414.30" font-size="14.58" textLength="30.93" lengthAdjust="spacingAndGlyphs">8.20</text>
<path d="M162.30 670.4V675.26M333.90 670.4V675.26M505.50 670.4V675.26M677.10 670.4V675.26M848.70 670.4V675.26M1020.30 670.4V675.26M1191.90 670.4V675.26M1363.50 670.4V675.26" stroke="#000" stroke-width="1.11"/>
<text x="157.88" y="690.90" font-size="14.58" textLength="8.84" lengthAdjust="spacingAndGlyphs">0</text>
<text x="316.23" y="690.90" font-size="14.58" textLength="35.35" lengthAdjust="spacingAndGlyphs">5000</text>
<text x="483.41" y="690.90" font-size="14.58" textLength="44.19" lengthAdjust="spacingAndGlyphs">10000</text>
<text x="655.01" y="690.90" font-size="14.58" textLength="44.19" lengthAdjust="spacingAndGlyphs">15000</text>
<text x="826.61" y="690.90" font-size="14.58" textLength="44.19" lengthAdjust="spacingAndGlyphs">20000</text>
<text x="998.21" y="690.90" font-size="14.58" textLength="44.19" lengthAdjust="spacingAndGlyphs">25000</text>
<text x="1169.81" y="690.90" font-size="14.58" textLength="44.19" lengthAdjust="spacingAndGlyphs">30000</text>
<text x="1341.41" y="690.90" font-size="14.58" textLength="44.19" lengthAdjust="spacingAndGlyphs">35000</text>
<path d="M105.3 768.40H1474.5M105.3 806.30H1474.5M105.3 845.50H1474.5M105.3 883.30H1474.5M105.3 921.20H1474.5" stroke="#b0b0b0" stroke-width="1.11" stroke-dasharray="1.11 1.83"/>
<path d="M165.9 845.5a1.2 1.2 0 1 0 2.4 0a1.2 1.2 0 1 0 -2.4 0M199.3 845.5a1.2 1.2 0 1 0 2.4 0a1.2 1.2 0 1 0 -2.4 0M217.0 845.5a1.2 1.2 0 1 0 2.4 0a1.2 1.2 0 1 0 -2.4 0M233.0 845.5a1.2 1.2 0 1 0 2.4 0a1.2 1.2 0 1 0 -2.4 0M250.2 845.5a1.2 1.2 0 1 0 2.4 0a1.2 1.2 0 1 0 -2.4 0M283.0 845.5a1.2 1.2 0 1 0 2.4 0a1.2 1.2 0 1 0 -2.4 0M297.2 845.5a1.2 1.2 0 1 0 2.4 0a1.2 1.2 0 1 0 -2.4 0M317.1 845.5a1.2 1.2 0 1 0 2.4 0a1.2 1.2 0 1 0 -2.4 0M367.3 845.5a1.2 1.2 0 1 0 2.4 0a1.2 1.2 0 1 0 -2.4 0M381.2 845.5a1.2 1.2 0 1 0 2.4 0a1.2 1.2 0 1 0 -2.4 0M395.3 845.5a1.2 1.2 0 1 0 2.4 0a1.2 1.2 0 1 0 -2.4 0M398.3 845.5a1.2 1.2 0 1 0 2.4 0a1.2 1.2 0 1 0 -2.4 0M434.2 845.5a1.2 1.2 0 1 0 2.4 0a1.2 1.2 0 1 0 -2.4 0M446.2 845.5a1.2 1.2 0 1 0 2.4 0a1.2 1.2 0 1 0 -2.4 0M450.2 845.5a1.2 1.2 0 1 0 2.4 0a1.2 1.2 0 1 0 -2.4 0M467.2 845.5a1.2 1.2 0 1 0 2.4 0a1.2 1.2 0 1 0 -2.4 0M484.6 845.5a1.2 1.2 0 1 0 2.4 0a1.2 1.2 0 1 0 -2.4 0M518.3 845.5a1.2 1.2 0 1 0 2.4 0a1.2 1.2 0 1 0 -2.4 0M532.1 845.5a1.2 1.2 0 1 0 2.4 0a1.2 1.2 0 1 0 -2.4 0M568.4 845.5a1.2 1.2 0 1 0 2.4 0a1.2 1.2 0 1 0 -2.4 0M582.3 845.5a1.2 1.2 0 1 0 2.4 0a1.2 1.2 0 1 0 -2.4 0M602.3 845.5a1.2 1.2 0 1 0 2.4 0a1.2 1.2 0 1 0 -2.4 0M635.3 845.5a1.2 1.2 0 1 0 2.4 0a1.2 1.2 0 1 0 -2.4 0M652.7 845.5a1.2 1.2 0 1 0 2.4 0a1.2 1.2 0 1 0 -2.4 0M686.3 845.5a1.2 1.2 0 1 0 2.4 0a1.2 1.2 0 1 0 -2.4 0M699.3 845.5a1.2 1.2 0 1 0 2.4 0a1.2 1.2 0 1 0 -2.4 0M719.3 845.5a1.2 1.2 0 1 0 2.4 0a1.2 1.2 0 1 0 -2.4 0M724.3 845.5a1.2 1.2 0 1 0 2.4 0a1.2 1.2 0 1 0 -2.4 0M735.0 845.5a1.2 1.2 0 1 0 2.4 0a1.2 1.2 0 1 0 -2.4 0M768.8 845.5a1.2 1.2 0 1 0 2.4 0a1.2 1.2 0 1 0 -2.4 0M782.8 845.5a1.2 1.2 0 1 0 2.4 0a1.2 1.2 0 1 0 -2.4 0M802.3 845.5a1.2 1.2 0 1 0 2.4 0a1.2 1.2 0 1 0 -2.4 0M817.8 845.5a1.2 1.2 0 1 0 2.4 0a1.2 1.2 0 1 0 -2.4 0M851.1 845.5a1.2 1.2 0 1 0 2.4 0a1.2 1.2 0 1 0 -2.4 0M943.2 845.5a1.2 1.2 0 1 0 2.4 0a1.2 1.2 0 1 0 -2.4 0M993.2 845.5a1.2 1.2 0 1 0 2.4 0a1.2 1.2 0 1 0 -2.4 0M1177.2 845.5a1.2 1.2 0 1 0 2.4 0a1.2 1.2 0 1 0 -2.4 0M1257.0 845.5a1.2 1.2 0 1 0 2.4 0a1.2 1.2 0 1 0 -2.4 0" fill="none" stroke="#000" stroke-width="1.3"/>
<path d="M165.9 883.3a1.2 1.2 0 1 0 2.4 0a1.2 1.2 0 1 0 -2.4 0M199.3 883.3a1.2 1.2 0 1 0 2.4 0a1.2 1.2 0 1 0 -2.4 0M217.0 883.3a1.2 1.2 0 1 0 2.4 0a1.2 1.2 0 1 0 -2.4 0M233.0 883.3a1.2 1.2 0 1 0 2.4 0a1.2 1.2 0 1 0 -2.4 0M250.2 883.3a1.2 1.2 0 1 0 2.4 0a1.2 1.2 0 1 0 -2.4 0M283.0 883.3a1.2 1.2 0 1 0 2.4 0a1.2 1.2 0 1 0 -2.4 0M297.2 883.3a1.2 1.2 0 1 0 2.4 0a1.2 1.2 0 1 0 -2.4 0M317.1 883.3a1.2 1.2 0 1 0 2.4 0a1.2 1.2 0 1 0 -2.4 0M367.3 883.3a1.2 1.2 0 1 0 2.4 0a1.2 1.2 0 1 0 -2.4 0M381.2 883.3a1.2 1.2 0 1 0 2.4 0a1.2 1.2 0 1 0 -2.4 0M395.3 883.3a1.2 1.2 0 1 0 2.4 0a1.2 1.2 0 1 0 -2.4 0M398.3 883.3a1.2 1.2 0 1 0 2.4 0a1.2 1.2 0 1 0 -2.4 0M434.2 883.3a1.2 1.2 0 1 0 2.4 0a1.2 1.2 0 1 0 -2.4 0M446.2 883.3a1.2 1.2 0 1 0 2.4 0a1.2 1.2 0 1 0 -2.4 0M450.2 883.3a1.2 1.2 0 1 0 2.4 0a1.2 1.2 0 1 0 -2.4 0M467.2 883.3a1.2 1.2 0 1 0 2.4 0a1.2 1.2 0 1 0 -2.4 0M484.6 883.3a1.2 1.2 0 1 0 2.4 0a1.2 1.2 0 1 0 -2.4 0M518.3 883.3a1.2 1.2 0 1 0 2.4 0a1.2 1.2 0 1 0 -2.4 0M532.1 883.3a1.2 1.2 0 1 0 2.4 0a1.2 1.2 0 1 0 -2.4 0M568.4 883.3a1.2 1.2 0 1 0 2.4 0a1.2 1.2 0 1 0 -2.4 0M582.3 883.3a1.2 1.2 0 1 0 2.4 0a1.2 1.2 0 1 0 -2.4 0M602.3 883.3a1.2 1.2 0 1 0 2.4 0a1.2 1.2 0 1 0 -2.4 0M635.3 883.3a1.2 1.2 0 1 0 2.4 0a1.2 1.2 0 1 0 -2.4 0M652.7 883.3a1.2 1.2 0 1 0 2.4 0a1.2 1.2 0 1 0 -2.4 0M686.3 883.3a1.2 1.2 0 1 0 2.4 0a1.2 1.2 0 1 0 -2.4 0M699.3 883.3a1.2 1.2 0 1 0 2.4 0a1.2 1.2 0 1 0 -2.4 0M719.3 883.3a1.2 1.2 0 1 0 2.4 0a1.2 1.2 0 1 0 -2.4 0M724.3 883.3a1.2 1.2 0 1 0 2.4 0a1.2 1.2 0 1 0 -2.4 0M735.0 883.3a1.2 1.2 0 1 0 2.4 0a1.2 1.2 0 1 0 -2.4 0M768.8 883.3a1.2 1.2 0 1 0 2.4 0a1.2 1.2 0 1 0 -2.4 0M782.8 883.3a1.2 1.2 0 1 0 2.4 0a1.2 1.2 0 1 0 -2.4 0M802.3 883.3a1.2 1.2 0 1 0 2.4 0a1.2 1.2 0 1 0 -2.4 0M817.8 883.3a1.2 1.2 0 1 0 2.4 0a1.2 1.2 0 1 0 -2.4 0M851.1 883.3a1.2 1.2 0 1 0 2.4 0a1.2 1.2 0 1 0 -2.4 0M943.2 883.3a1.2 1.2 0 1 0 2.4 0a1.2 1.2 0 1 0 -2.4 0M993.2 883.3a1.2 1.2 0 1 0 2.4 0a1.2 1.2 0 1 0 -2.4 0M1177.2 883.3a1.2 1.2 0 1 0 2.4 0a1.2 1.2 0 1 0 -2.4 0M1257.0 883.3a1.2 1.2 0 1 0 2.4 0a1.2 1.2 0 1 0 -2.4 0M642.3 883.3a1.2 1.2 0 1 0 2.4 0a1.2 1.2 0 1 0 -2.4 0" fill="none" stroke="#000" stroke-width="1.3"/>
<path d="M162.8 768.4H166.3M845.5 768.4H849.0M1168.5 768.4H1172.0" stroke="#000" stroke-width="3.0" stroke-linecap="round"/>
<path d="M163.5 768.4H166" stroke="#666" stroke-width="0.7"/>
<path d="M162.30 960.4V729.5" stroke="#800080" stroke-width="2.08" stroke-dasharray="2.08 3.43"/>
<path d="M845.00 960.4V729.5" stroke="#800080" stroke-width="2.08" stroke-dasharray="2.08 3.43"/>
<path d="M1168.00 960.4V729.5" stroke="#800080" stroke-width="2.08" stroke-dasharray="2.08 3.43"/>
<path d="M1293.00 960.4V729.5" stroke="#800080" stroke-width="2.08" stroke-dasharray="2.08 3.43"/>
<rect x="105.3" y="729.5" width="1369.20" height="230.90" fill="none" stroke="#000" stroke-width="1.11"/>
<path d="M100.44 768.40H105.3M100.44 806.30H105.3M100.44 845.50H105.3M100.44 883.30H105.3M100.44 921.20H105.3" stroke="#000" stroke-width="1.11"/>
<text x="16.34" y="773.40" font-size="14.58" textLength="79.24" lengthAdjust="spacingAndGlyphs">not Kalman</text>
<text x="33.07" y="811.30" font-size="14.58" textLength="62.51" lengthAdjust="spacingAndGlyphs">not track</text>
<text x="37.90" y="850.50" font-size="14.58" textLength="57.68" lengthAdjust="spacingAndGlyphs">Ion. rad.</text>
<text x="51.75" y="888.30" font-size="14.58" textLength="43.83" lengthAdjust="spacingAndGlyphs">dr &gt; 5</text>
<text x="14.93" y="926.20" font-size="14.58" textLength="80.65" lengthAdjust="spacingAndGlyphs">OBS not OK</text>
<rect x="105.3" y="960.4" width="1370.70" height="56.80" fill="#fff"/>
<path d="M105.3 962.50H1474.5M105.3 988.90H1474.5M105.3 1015.30H1474.5" stroke="#b0b0b0" stroke-width="1.11" stroke-dasharray="1.11 1.83"/>
<path d="M165.3 964.4h3.6l-1.8 -3.8zM198.7 964.4h3.6l-1.8 -3.8zM216.4 964.4h3.6l-1.8 -3.8zM232.4 964.4h3.6l-1.8 -3.8zM249.6 964.4h3.6l-1.8 -3.8zM282.4 964.4h3.6l-1.8 -3.8zM296.6 964.4h3.6l-1.8 -3.8zM316.5 964.4h3.6l-1.8 -3.8zM366.7 964.4h3.6l-1.8 -3.8zM380.6 964.4h3.6l-1.8 -3.8zM394.7 964.4h3.6l-1.8 -3.8zM397.7 964.4h3.6l-1.8 -3.8zM433.6 964.4h3.6l-1.8 -3.8zM445.6 964.4h3.6l-1.8 -3.8zM449.6 964.4h3.6l-1.8 -3.8zM466.6 964.4h3.6l-1.8 -3.8zM484.0 964.4h3.6l-1.8 -3.8zM517.7 964.4h3.6l-1.8 -3.8zM531.5 964.4h3.6l-1.8 -3.8zM567.8 964.4h3.6l-1.8 -3.8zM581.7 964.4h3.6l-1.8 -3.8zM601.7 964.4h3.6l-1.8 -3.8zM634.7 964.4h3.6l-1.8 -3.8zM652.1 964.4h3.6l-1.8 -3.8zM685.7 964.4h3.6l-1.8 -3.8zM698.7 964.4h3.6l-1.8 -3.8zM718.7 964.4h3.6l-1.8 -3.8zM723.7 964.4h3.6l-1.8 -3.8zM734.4 964.4h3.6l-1.8 -3.8zM768.2 964.4h3.6l-1.8 -3.8zM782.2 964.4h3.6l-1.8 -3.8zM801.7 964.4h3.6l-1.8 -3.8zM817.2 964.4h3.6l-1.8 -3.8zM850.5 964.4h3.6l-1.8 -3.8zM942.6 964.4h3.6l-1.8 -3.8zM992.6 964.4h3.6l-1.8 -3.8zM1176.6 964.4h3.6l-1.8 -3.8zM1256.4 964.4h3.6l-1.8 -3.8zM161.7 964.4h3.6l-1.8 -3.8zM164.2 964.4h3.6l-1.8 -3.8zM844.7 964.4h3.6l-1.8 -3.8zM847.2 964.4h3.6l-1.8 -3.8zM1167.7 964.4h3.6l-1.8 -3.8zM1170.2 964.4h3.6l-1.8 -3.8z" fill="#ff0000" stroke="#ff0000" stroke-width="0.5"/>
<path d="M643.2 988.4h0M781.3 998.4h0" stroke="#ff0000" stroke-width="2.8" stroke-linecap="round"/>
<path d="M643.2 1007.0h0" stroke="#000" stroke-width="2.8" stroke-linecap="round"/>
<path d="M164.0 1013.7 165.0 1013.7 166.0 1013.3 167.0 1013.7 168.0 1013.7 169.0 1013.8 170.0 1013.8 171.0 1014.2 172.0 1014.2 173.0 1014.3 174.0 1014.0 175.0 1013.7 176.0 1013.4 177.0 1013.4 178.0 1012.7 179.0 1013.5 180.0 1013.6 181.0 1013.6 182.0 1013.9 183.0 1013.7 184.0 1013.7 185.0 1013.9 186.0 1013.3 187.0 1014.0 188.0 1013.9 189.0 1013.9 190.0 1013.5 191.0 1013.4 192.0 1014.0 193.0 1013.7 194.0 1013.5 195.0 1013.7 196.0 1014.1 197.0 1013.2 198.0 1013.8 199.0 1013.8 200.0 1014.0 201.0 1013.5 202.0 1013.7 203.0 1014.1 204.0 1013.9 205.0 1013.6 206.0 1013.5 207.0 1013.4 208.0 1013.7 209.0 1013.7 210.0 1013.5 211.0 1013.8 212.0 1013.4 213.0 1013.0 214.0 1014.0 215.0 1013.7 216.0 1014.1 217.0 1013.9 218.0 1013.7 219.0 1013.8 220.0 1013.5 221.0 1013.3 222.0 1013.3 223.0 1013.3 224.0 1013.7 225.0 1014.2 226.0 1013.6 227.0 1013.4 228.0 1013.7 229.0 1013.8 230.0 1014.1 231.0 1013.7 232.0 1013.8 233.0 1013.7 234.0 1013.2 235.0 1013.5 236.0 1013.1 237.0 1013.4 238.0 1013.4 239.0 1013.4 240.0 1014.1 241.0 1014.4 242.0 1014.2 243.0 1014.1 244.0 1013.7 245.0 1014.0 246.0 1014.0 247.0 1013.6 248.0 1013.1 249.0 1013.3 250.0 1013.4 251.0 1013.7 252.0 1013.4 253.0 1013.2 254.0 1013.5 255.0 1013.5 256.0 1013.9 257.0 1014.1 258.0 1013.6 259.0 1012.9 260.0 1013.2 261.0 1013.1 262.0 1013.4 263.0 1012.7 264.0 1013.0 265.0 1013.3 266.0 1013.2 267.0 1013.5 268.0 1013.6 269.0 1013.7 270.0 1014.0 271.0 1014.2 272.0 1014.3 273.0 1014.2 274.0 1014.0 275.0 1014.0 276.0 1013.9 277.0 1013.6 278.0 1013.7 279.0 1013.9 280.0 1013.7 281.0 1013.3 282.0 1013.6 283.0 1013.4 284.0 1013.0 285.0 1013.2 286.0 1012.9 287.0 1013.3 288.0 1013.2 289.0 1013.4 290.0 1013.8 291.0 1014.1 292.0 1013.8 293.0 1013.1 294.0 1013.1 295.0 1013.0 296.0 1013.5 297.0 1014.0 298.0 1014.0 299.0 1014.1 300.0 1014.0 301.0 1014.1 302.0 1013.8 303.0 1014.0 304.0 1013.7 305.0 1013.3 306.0 1013.4 307.0 1014.0 308.0 1013.8 309.0 1013.2 310.0 1013.7 311.0 1013.7 312.0 1013.8 313.0 1013.6 314.0 1013.7 315.0 1014.2 316.0 1013.7 317.0 1013.9 318.0 1013.9 319.0 1013.5 320.0 1013.6 321.0 1013.8 322.0 1013.4 323.0 1013.8 324.0 1013.4 325.0 1013.8 326.0 1013.9 327.0 1013.9 328.0 1013.5 329.0 1013.3 330.0 1012.8 331.0 1013.1 332.0 1013.2 333.0 1013.5 334.0 1013.9 335.0 1013.8 336.0 1013.6 337.0 1013.9 338.0 1013.8 339.0 1013.7 340.0 1013.3 341.0 1013.7 342.0 1013.5 343.0 1014.1 344.0 1013.6 345.0 1013.5 346.0 1013.5 347.0 1013.4 348.0 1013.0 349.0 1012.9 350.0 1012.9 351.0 1013.1 352.0 1013.6 353.0 1013.8 354.0 1013.8 355.0 1014.0 356.0 1013.2 357.0 1013.1 358.0 1013.2 359.0 1013.0 360.0 1013.4 361.0 1013.3 362.0 1013.1 363.0 1013.5 364.0 1013.4 365.0 1013.4 366.0 1013.0 367.0 1013.5 368.0 1013.5 369.0 1014.0 370.0 1014.5 371.0 1014.3 372.0 1013.9 373.0 1013.6 374.0 1014.0 375.0 1013.8 376.0 1013.9 377.0 1013.8 378.0 1012.7 379.0 1013.1 380.0 1013.3 381.0 1013.5 382.0 1013.5 383.0 1013.6 384.0 1013.3 385.0 1013.6 386.0 1013.4 387.0 1013.5 388.0 1014.0 389.0 1013.9 390.0 1013.5 391.0 1013.6 392.0 1013.2 393.0 1013.4 394.0 1013.9 395.0 1013.4 396.0 1013.5 397.0 1013.2 398.0 1013.4 399.0 1013.6 400.0 1013.6 401.0 1013.5 402.0 1013.0 403.0 1012.9 404.0 1013.1 405.0 1013.5 406.0 1012.9 407.0 1013.5 408.0 1013.3 409.0 1012.9 410.0 1013.6 411.0 1013.7 412.0 1013.4 413.0 1013.5 414.0 1013.7 415.0 1013.2 416.0 1013.7 417.0 1013.4 418.0 1013.7 419.0 1013.5 420.0 1013.1 421.0 1013.1 422.0 1013.1 423.0 1013.3 424.0 1012.9 425.0 1012.9 426.0 1013.2 427.0 1013.3 428.0 1013.2 429.0 1013.5 430.0 1013.1 431.0 1013.9 432.0 1013.5 433.0 1013.7 434.0 1013.6 435.0 1013.9 436.0 1013.6 437.0 1013.4 438.0 1013.5 439.0 1013.7 440.0 1013.6 441.0 1014.2 442.0 1014.2 443.0 1014.3 444.0 1014.4 445.0 1014.4 446.0 1014.0 447.0 1014.3 448.0 1013.9 449.0 1013.8 450.0 1014.1 451.0 1014.2 452.0 1013.6 453.0 1013.5 454.0 1013.3 455.0 1013.7 456.0 1013.5 457.0 1013.6 458.0 1013.4 459.0 1013.3 460.0 1013.6 461.0 1013.3 462.0 1013.4 463.0 1013.3 464.0 1013.3 465.0 1013.0 466.0 1013.6 467.0 1013.1 468.0 1012.9 469.0 1013.0 470.0 1013.3 471.0 1013.2 472.0 1012.8 473.0 1013.0 474.0 1012.9 475.0 1013.0 476.0 1013.7 477.0 1013.0 478.0 1013.2 479.0 1013.5 480.0 1013.4 481.0 1013.3 482.0 1013.7 483.0 1013.6 484.0 1013.1 485.0 1013.1 486.0 1013.4 487.0 1013.3 488.0 1013.2 489.0 1013.4 490.0 1013.3 491.0 1013.4 492.0 1013.7 493.0 1013.4 494.0 1013.0 495.0 1013.6 496.0 1013.7 497.0 1013.4 498.0 1013.0 499.0 1013.2 500.0 1013.4 501.0 1013.6 502.0 1013.7 503.0 1013.5 504.0 1013.4 505.0 1013.0 506.0 1013.0 507.0 1013.1 508.0 1013.6 509.0 1013.2 510.0 1013.8 511.0 1014.0 512.0 1013.7 513.0 1013.4 514.0 1013.5 515.0 1013.6 516.0 1013.8 517.0 1013.2 518.0 1013.2 519.0 1013.5 520.0 1013.8 521.0 1013.8 522.0 1013.7 523.0 1013.7 524.0 1013.5 525.0 1014.0 526.0 1014.1 527.0 1014.0 528.0 1013.6 529.0 1013.6 530.0 1013.7 531.0 1013.6 532.0 1014.1 533.0 1014.4 534.0 1014.4 535.0 1013.7 536.0 1013.8 537.0 1013.6 538.0 1013.6 539.0 1014.1 540.0 1013.4 541.0 1013.0 542.0 1013.1 543.0 1013.5 544.0 1013.4 545.0 1012.9 546.0 1013.2 547.0 1013.5 548.0 1013.9 549.0 1013.8 550.0 1014.0 551.0 1013.6 552.0 1013.8 553.0 1014.1 554.0 1013.8 555.0 1013.6 556.0 1013.9 557.0 1013.5 558.0 1013.3 559.0 1013.4 560.0 1013.6 561.0 1013.8 562.0 1013.6 563.0 1013.7 564.0 1013.4 565.0 1013.1 566.0 1014.0 567.0 1013.6 568.0 1013.1 569.0 1013.4 570.0 1013.2 571.0 1013.5 572.0 1012.8 573.0 1012.8 574.0 1013.4 575.0 1013.5 576.0 1013.3 577.0 1013.8 578.0 1014.0 579.0 1013.7 580.0 1014.0 581.0 1014.0 582.0 1013.4 583.0 1013.2 584.0 1013.4 585.0 1013.1 586.0 1012.8 587.0 1013.0 588.0 1013.4 589.0 1013.5 590.0 1013.2 591.0 1012.6 592.0 1013.2 593.0 1013.2 594.0 1013.6 595.0 1013.5 596.0 1013.4 597.0 1013.5 598.0 1013.3 599.0 1013.2 600.0 1013.0 601.0 1012.6 602.0 1013.2 603.0 1013.6 604.0 1013.4 605.0 1013.3 606.0 1014.0 607.0 1014.0 608.0 1013.7 609.0 1013.2 610.0 1013.8 611.0 1014.1 612.0 1013.6 613.0 1013.7 614.0 1013.4 615.0 1013.3 616.0 1013.7 617.0 1013.5 618.0 1013.3 619.0 1013.0 620.0 1013.3 621.0 1013.3 622.0 1013.0 623.0 1013.8 624.0 1013.5 625.0 1013.3 626.0 1013.5 627.0 1013.4 628.0 1013.4 629.0 1013.6 630.0 1013.4 631.0 1013.2 632.0 1013.2 633.0 1013.6 634.0 1013.6 635.0 1014.0 636.0 1013.8 637.0 1013.4 638.0 1013.5 639.0 1013.4 640.0 1013.3 641.0 1013.3 642.0 1013.7 643.0 1013.8 644.0 1013.8 645.0 1013.7 646.0 1013.8 647.0 1013.9 648.0 1013.9 649.0 1013.5 650.0 1013.9 651.0 1014.0 652.0 1014.2 653.0 1013.1 654.0 1013.4 655.0 1013.5 656.0 1012.7 657.0 1013.4 658.0 1012.9 659.0 1013.0 660.0 1013.2 661.0 1013.6 662.0 1013.5 663.0 1013.3 664.0 1012.9 665.0 1013.1 666.0 1013.4 667.0 1013.0 668.0 1013.7 669.0 1012.8 670.0 1012.9 671.0 1013.0 672.0 1013.2 673.0 1013.4 674.0 1013.8 675.0 1013.5 676.0 1013.0 677.0 1012.9 678.0 1013.0 679.0 1012.9 680.0 1013.1 681.0 1013.2 682.0 1013.3 683.0 1013.6 684.0 1013.7 685.0 1013.2 686.0 1013.1 687.0 1013.1 688.0 1013.1 689.0 1013.5 690.0 1013.7 691.0 1013.7 692.0 1014.1 693.0 1013.6 694.0 1013.5 695.0 1013.8 696.0 1013.7 697.0 1013.4 698.0 1013.2 699.0 1013.6 700.0 1013.8 701.0 1014.2 702.0 1014.5 703.0 1014.2 704.0 1013.8 705.0 1013.4 706.0 1013.3 707.0 1013.9 708.0 1013.7 709.0 1013.4 710.0 1013.4 711.0 1013.6 712.0 1013.3 713.0 1013.2 714.0 1013.1 715.0 1013.7 716.0 1013.6 717.0 1013.7 718.0 1013.8 719.0 1013.1 720.0 1013.4 721.0 1013.1 722.0 1013.1 723.0 1012.7 724.0 1013.3 725.0 1013.4 726.0 1013.2 727.0 1013.6 728.0 1013.3 729.0 1013.8 730.0 1013.6 731.0 1014.3 732.0 1013.6 733.0 1013.7 734.0 1013.3 735.0 1013.0 736.0 1013.0 737.0 1013.1 738.0 1012.9 739.0 1013.3 740.0 1013.8 741.0 1013.9 742.0 1013.5 743.0 1014.1 744.0 1013.4 745.0 1013.9 746.0 1013.7 747.0 1013.3 748.0 1013.4 749.0 1013.4 750.0 1013.8 751.0 1013.8 752.0 1013.6 753.0 1013.8 754.0 1013.6 755.0 1013.3 756.0 1013.0 757.0 1012.9 758.0 1013.2 759.0 1013.2 760.0 1013.5 761.0 1013.1 762.0 1013.3 763.0 1013.5 764.0 1013.5 765.0 1013.6 766.0 1012.7 767.0 1012.6 768.0 1012.7 769.0 1013.1 770.0 1013.6 771.0 1014.2 772.0 1013.7 773.0 1013.6 774.0 1013.8 775.0 1013.5 776.0 1013.8 777.0 1013.7 778.0 1013.6 779.0 1013.7 780.0 1014.1 781.0 1013.9 782.0 1013.5 783.0 1013.9 784.0 1013.9 785.0 1013.5 786.0 1013.0 787.0 1013.2 788.0 1013.1 789.0 1013.1 790.0 1013.3 791.0 1013.6 792.0 1013.9 793.0 1013.8 794.0 1013.4 795.0 1013.0 796.0 1012.8 797.0 1013.2 798.0 1012.8 799.0 1012.9 800.0 1012.7 801.0 1012.9 802.0 1013.0 803.0 1013.1 804.0 1013.7 805.0 1013.8 806.0 1013.6 807.0 1013.2 808.0 1013.5 809.0 1013.4 810.0 1013.4 811.0 1013.1 812.0 1013.4 813.0 1013.5 814.0 1013.7 815.0 1013.6 816.0 1013.6 817.0 1013.2 818.0 1013.6 819.0 1013.7 820.0 1014.1 821.0 1013.8 822.0 1013.5 823.0 1013.8 824.0 1013.5 825.0 1013.7 826.0 1013.6 827.0 1013.5 828.0 1012.8 829.0 1013.2 830.0 1013.3 831.0 1013.0 832.0 1013.5 833.0 1012.9 834.0 1013.0 835.0 1013.9 836.0 1014.0 837.0 1013.6 838.0 1013.8 839.0 1013.9 840.0 1012.8 841.0 1013.1 842.0 1013.2 843.0 1013.8 844.0 1013.7 845.0 1013.2 846.0 1013.2 847.0 1013.9 848.0 1013.7 849.0 1014.2 850.0 1014.1 851.0 1013.7 852.0 1013.8 853.0 1013.7 854.0 1013.8 855.0 1013.7 856.0 1013.4 857.0 1013.7 858.0 1013.6 859.0 1013.5 860.0 1013.5 861.0 1013.3 862.0 1013.4 863.0 1013.4 864.0 1013.0 865.0 1013.7 866.0 1013.7 867.0 1013.5 868.0 1013.0 869.0 1013.6 870.0 1013.7 871.0 1013.9 872.0 1013.7 873.0 1013.8 874.0 1013.5 875.0 1013.5 876.0 1013.9 877.0 1014.4 878.0 1014.0 879.0 1013.4 880.0 1013.5 881.0 1013.6 882.0 1013.3 883.0 1013.1 884.0 1013.9 885.0 1013.8 886.0 1013.5 887.0 1013.6 888.0 1013.2 889.0 1012.8 890.0 1012.9 891.0 1013.4 892.0 1013.7 893.0 1013.7 894.0 1014.1 895.0 1013.5 896.0 1013.1 897.0 1013.7 898.0 1013.8 899.0 1013.7 900.0 1013.7 901.0 1013.4 902.0 1014.0 903.0 1013.7 904.0 1013.9 905.0 1013.7 906.0 1013.4 907.0 1013.0 908.0 1013.1 909.0 1013.2 910.0 1013.0 911.0 1012.8 912.0 1012.7 913.0 1012.5 914.0 1013.3 915.0 1013.2 916.0 1013.1 917.0 1013.5 918.0 1013.6 919.0 1013.7 920.0 1013.9 921.0 1013.7 922.0 1013.0 923.0 1013.3 924.0 1013.4 925.0 1013.3 926.0 1013.1 927.0 1013.4 928.0 1013.5 929.0 1013.9 930.0 1013.3 931.0 1013.0 932.0 1013.3 933.0 1013.5 934.0 1013.4 935.0 1013.7 936.0 1013.6 937.0 1013.9 938.0 1013.6 939.0 1013.6 940.0 1013.7 941.0 1013.3 942.0 1013.6 943.0 1013.4 944.0 1013.6 945.0 1013.3 946.0 1012.7 947.0 1013.0 948.0 1012.7 949.0 1013.6 950.0 1012.9 951.0 1012.8 952.0 1013.3 953.0 1013.6 954.0 1013.3 955.0 1013.8 956.0 1014.1 957.0 1013.6 958.0 1013.4 959.0 1013.5 960.0 1013.7 961.0 1013.5 962.0 1013.7 963.0 1013.3 964.0 1013.3 965.0 1012.9 966.0 1013.1 967.0 1013.5 968.0 1013.2 969.0 1013.6 970.0 1013.2 971.0 1012.5 972.0 1012.6 973.0 1012.9 974.0 1013.3 975.0 1013.6 976.0 1013.2 977.0 1013.0 978.0 1013.4 979.0 1013.4 980.0 1013.1 981.0 1012.9 982.0 1013.2 983.0 1013.3 984.0 1013.3 985.0 1013.0 986.0 1012.8 987.0 1012.8 988.0 1012.8 989.0 1013.2 990.0 1013.4 991.0 1013.4 992.0 1012.3 993.0 1012.4 994.0 1013.0 995.0 1013.0 996.0 1013.3 997.0 1012.7 998.0 1012.7 999.0 1013.2 1000.0 1013.0 1001.0 1014.1 1002.0 1014.0 1003.0 1014.2 1004.0 1014.6 1005.0 1014.1 1006.0 1014.0 1007.0 1013.6 1008.0 1014.0 1009.0 1013.6 1010.0 1013.3 1011.0 1013.5 1012.0 1013.3 1013.0 1013.6 1014.0 1013.3 1015.0 1013.2 1016.0 1013.3 1017.0 1013.4 1018.0 1013.1 1019.0 1013.1 1020.0 1014.1 1021.0 1013.8 1022.0 1013.6 1023.0 1013.1 1024.0 1012.9 1025.0 1013.4 1026.0 1013.4 1027.0 1013.9 1028.0 1013.6 1029.0 1013.4 1030.0 1013.5 1031.0 1013.7 1032.0 1013.4 1033.0 1013.7 1034.0 1013.5 1035.0 1013.5 1036.0 1013.3 1037.0 1013.6 1038.0 1014.2 1039.0 1013.8 1040.0 1013.1 1041.0 1012.8 1042.0 1013.1 1043.0 1013.4 1044.0 1013.5 1045.0 1013.7 1046.0 1013.5 1047.0 1013.8 1048.0 1013.9 1049.0 1013.5 1050.0 1013.3 1051.0 1013.7 1052.0 1013.9 1053.0 1013.6 1054.0 1013.8 1055.0 1013.6 1056.0 1013.2 1057.0 1013.1 1058.0 1013.1 1059.0 1012.7 1060.0 1013.1 1061.0 1013.4 1062.0 1013.8 1063.0 1013.9 1064.0 1013.4 1065.0 1013.4 1066.0 1013.9 1067.0 1013.8 1068.0 1013.7 1069.0 1013.6 1070.0 1013.8 1071.0 1013.7 1072.0 1013.6 1073.0 1013.6 1074.0 1013.4 1075.0 1012.9 1076.0 1012.6 1077.0 1013.2 1078.0 1013.9 1079.0 1013.7 1080.0 1013.7 1081.0 1013.7 1082.0 1013.5 1083.0 1013.7 1084.0 1013.8 1085.0 1013.5 1086.0 1013.0 1087.0 1013.4 1088.0 1013.2 1089.0 1013.4 1090.0 1013.2 1091.0 1013.6 1092.0 1014.0 1093.0 1013.5 1094.0 1013.7 1095.0 1013.6 1096.0 1013.4 1097.0 1013.1 1098.0 1013.2 1099.0 1012.6 1100.0 1013.3 1101.0 1013.5 1102.0 1013.5 1103.0 1013.9 1104.0 1013.7 1105.0 1013.8 1106.0 1013.9 1107.0 1013.3 1108.0 1013.2 1109.0 1013.0 1110.0 1013.2 1111.0 1013.4 1112.0 1013.9 1113.0 1013.5 1114.0 1013.5 1115.0 1013.3 1116.0 1013.7 1117.0 1013.6 1118.0 1013.8 1119.0 1013.9 1120.0 1013.5 1121.0 1013.9 1122.0 1013.9 1123.0 1014.0 1124.0 1013.6 1125.0 1013.6 1126.0 1013.5 1127.0 1013.6 1128.0 1013.4 1129.0 1013.7 1130.0 1013.3 1131.0 1013.6 1132.0 1013.8 1133.0 1013.4 1134.0 1013.5 1135.0 1013.8 1136.0 1013.9 1137.0 1014.2 1138.0 1014.1 1139.0 1013.8 1140.0 1014.0 1141.0 1013.6 1142.0 1013.5 1143.0 1013.5 1144.0 1013.7 1145.0 1014.1 1146.0 1014.2 1147.0 1014.1 1148.0 1014.1 1149.0 1014.2 1150.0 1014.0 1151.0 1013.9 1152.0 1013.9 1153.0 1014.4 1154.0 1014.3 1155.0 1014.0 1156.0 1014.1 1157.0 1013.6 1158.0 1013.9 1159.0 1013.8 1160.0 1013.5 1161.0 1013.7 1162.0 1013.7 1163.0 1013.7 1164.0 1013.1 1165.0 1013.1 1166.0 1013.5 1167.0 1013.2 1168.0 1012.7 L1168.0 1014.5 1167.0 1014.4 1166.0 1014.7 1165.0 1014.5 1164.0 1014.2 1163.0 1014.8 1162.0 1014.4 1161.0 1014.1 1160.0 1013.8 1159.0 1014.2 1158.0 1014.3 1157.0 1014.1 1156.0 1014.4 1155.0 1014.7 1154.0 1014.5 1153.0 1014.5 1152.0 1014.5 1151.0 1014.3 1150.0 1014.6 1149.0 1014.6 1148.0 1014.4 1147.0 1014.2 1146.0 1014.4 1145.0 1014.4 1144.0 1014.3 1143.0 1014.5 1142.0 1014.6 1141.0 1014.7 1140.0 1014.6 1139.0 1014.4 1138.0 1014.8 1137.0 1015.2 1136.0 1014.7 1135.0 1014.5 1134.0 1014.6 1133.0 1015.1 1132.0 1015.3 1131.0 1015.2 1130.0 1015.4 1129.0 1014.6 1128.0 1014.9 1127.0 1015.2 1126.0 1014.3 1125.0 1014.1 1124.0 1013.9 1123.0 1014.1 1122.0 1014.4 1121.0 1014.8 1120.0 1015.5 1119.0 1015.0 1118.0 1014.9 1117.0 1014.7 1116.0 1014.5 1115.0 1014.4 1114.0 1014.2 1113.0 1014.6 1112.0 1014.6 1111.0 1014.9 1110.0 1015.0 1109.0 1015.1 1108.0 1014.9 1107.0 1014.2 1106.0 1014.3 1105.0 1014.4 1104.0 1014.6 1103.0 1014.7 1102.0 1014.6 1101.0 1014.5 1100.0 1014.9 1099.0 1014.5 1098.0 1014.8 1097.0 1014.1 1096.0 1014.4 1095.0 1014.4 1094.0 1014.6 1093.0 1014.4 1092.0 1014.4 1091.0 1014.4 1090.0 1014.7 1089.0 1014.8 1088.0 1014.5 1087.0 1014.2 1086.0 1014.9 1085.0 1014.6 1084.0 1014.3 1083.0 1014.3 1082.0 1014.2 1081.0 1013.9 1080.0 1014.4 1079.0 1015.0 1078.0 1014.6 1077.0 1014.9 1076.0 1015.0 1075.0 1014.7 1074.0 1015.0 1073.0 1014.5 1072.0 1014.6 1071.0 1014.9 1070.0 1014.7 1069.0 1014.3 1068.0 1014.3 1067.0 1014.0 1066.0 1014.4 1065.0 1014.8 1064.0 1014.0 1063.0 1014.4 1062.0 1014.3 1061.0 1013.7 1060.0 1014.4 1059.0 1014.5 1058.0 1014.5 1057.0 1014.2 1056.0 1014.0 1055.0 1014.8 1054.0 1014.2 1053.0 1013.8 1052.0 1013.9 1051.0 1013.8 1050.0 1013.9 1049.0 1013.7 1048.0 1013.6 1047.0 1013.8 1046.0 1014.0 1045.0 1014.2 1044.0 1014.3 1043.0 1014.7 1042.0 1014.5 1041.0 1014.9 1040.0 1014.8 1039.0 1014.5 1038.0 1014.2 1037.0 1014.1 1036.0 1014.7 1035.0 1014.6 1034.0 1014.5 1033.0 1014.2 1032.0 1014.7 1031.0 1014.4 1030.0 1014.2 1029.0 1014.6 1028.0 1014.7 1027.0 1014.3 1026.0 1014.8 1025.0 1014.9 1024.0 1014.9 1023.0 1014.5 1022.0 1014.3 1021.0 1014.2 1020.0 1014.7 1019.0 1014.7 1018.0 1015.3 1017.0 1015.2 1016.0 1015.1 1015.0 1015.2 1014.0 1015.3 1013.0 1014.4 1012.0 1014.5 1011.0 1014.3 1010.0 1014.7 1009.0 1014.0 1008.0 1014.3 1007.0 1014.2 1006.0 1014.8 1005.0 1015.1 1004.0 1015.2 1003.0 1015.3 1002.0 1015.4 1001.0 1014.9 1000.0 1015.0 999.0 1015.0 998.0 1015.0 997.0 1014.9 996.0 1014.8 995.0 1014.8 994.0 1014.5 993.0 1014.5 992.0 1014.6 991.0 1014.2 990.0 1014.2 989.0 1014.5 988.0 1015.0 987.0 1014.3 986.0 1014.6 985.0 1014.4 984.0 1014.4 983.0 1014.2 982.0 1014.7 981.0 1014.6 980.0 1014.8 979.0 1014.7 978.0 1014.6 977.0 1014.6 976.0 1014.7 975.0 1014.8 974.0 1014.2 973.0 1014.0 972.0 1014.1 971.0 1014.3 970.0 1014.7 969.0 1014.7 968.0 1014.3 967.0 1014.4 966.0 1014.4 965.0 1014.2 964.0 1014.2 963.0 1014.0 962.0 1014.3 961.0 1014.6 960.0 1014.7 959.0 1014.4 958.0 1014.5 957.0 1014.4 956.0 1014.1 955.0 1013.8 954.0 1013.9 953.0 1013.5 952.0 1014.1 951.0 1014.1 950.0 1014.3 949.0 1014.4 948.0 1014.7 947.0 1014.8 946.0 1015.1 945.0 1014.6 944.0 1014.9 943.0 1014.8 942.0 1014.3 941.0 1015.0 940.0 1015.3 939.0 1015.2 938.0 1014.3 937.0 1014.5 936.0 1014.2 935.0 1014.2 934.0 1014.3 933.0 1014.2 932.0 1014.0 931.0 1014.1 930.0 1014.3 929.0 1014.5 928.0 1014.4 927.0 1014.9 926.0 1015.2 925.0 1015.3 924.0 1014.8 923.0 1014.6 922.0 1014.8 921.0 1014.8 920.0 1014.5 919.0 1014.6 918.0 1014.5 917.0 1014.5 916.0 1014.7 915.0 1015.2 914.0 1014.9 913.0 1014.6 912.0 1014.4 911.0 1015.2 910.0 1015.2 909.0 1015.4 908.0 1014.9 907.0 1014.8 906.0 1014.6 905.0 1014.7 904.0 1014.3 903.0 1014.1 902.0 1014.5 901.0 1014.4 900.0 1014.2 899.0 1014.3 898.0 1014.8 897.0 1014.9 896.0 1015.1 895.0 1014.9 894.0 1015.2 893.0 1014.8 892.0 1015.2 891.0 1014.6 890.0 1014.6 889.0 1014.4 888.0 1014.3 887.0 1014.7 886.0 1014.9 885.0 1014.7 884.0 1014.0 883.0 1014.3 882.0 1014.5 881.0 1014.0 880.0 1013.6 879.0 1013.8 878.0 1014.2 877.0 1014.4 876.0 1014.4 875.0 1014.6 874.0 1014.2 873.0 1014.0 872.0 1013.8 871.0 1014.1 870.0 1013.9 869.0 1014.5 868.0 1014.8 867.0 1014.3 866.0 1014.7 865.0 1014.6 864.0 1014.5 863.0 1014.1 862.0 1014.1 861.0 1014.1 860.0 1014.5 859.0 1014.1 858.0 1014.2 857.0 1014.2 856.0 1014.2 855.0 1014.4 854.0 1014.7 853.0 1014.4 852.0 1014.7 851.0 1014.3 850.0 1014.5 849.0 1014.8 848.0 1014.7 847.0 1014.3 846.0 1014.3 845.0 1014.2 844.0 1014.3 843.0 1014.4 842.0 1014.8 841.0 1015.0 840.0 1014.4 839.0 1014.5 838.0 1014.4 837.0 1014.3 836.0 1014.7 835.0 1014.8 834.0 1014.5 833.0 1015.1 832.0 1014.9 831.0 1014.4 830.0 1014.4 829.0 1014.6 828.0 1014.5 827.0 1014.6 826.0 1014.6 825.0 1014.3 824.0 1014.3 823.0 1014.7 822.0 1014.9 821.0 1014.5 820.0 1015.3 819.0 1014.7 818.0 1014.3 817.0 1014.6 816.0 1014.5 815.0 1014.8 814.0 1014.9 813.0 1014.8 812.0 1015.0 811.0 1014.9 810.0 1014.4 809.0 1014.6 808.0 1014.4 807.0 1014.8 806.0 1014.2 805.0 1014.3 804.0 1014.2 803.0 1014.5 802.0 1014.4 801.0 1013.8 800.0 1014.2 799.0 1015.0 798.0 1015.0 797.0 1015.4 796.0 1015.3 795.0 1015.1 794.0 1015.0 793.0 1015.3 792.0 1015.2 791.0 1014.8 790.0 1014.5 789.0 1015.3 788.0 1014.7 787.0 1014.8 786.0 1014.8 785.0 1014.6 784.0 1014.5 783.0 1014.0 782.0 1014.2 781.0 1014.3 780.0 1014.6 779.0 1014.2 778.0 1014.2 777.0 1014.1 776.0 1014.7 775.0 1014.3 774.0 1014.3 773.0 1014.6 772.0 1014.6 771.0 1014.8 770.0 1014.4 769.0 1014.6 768.0 1015.1 767.0 1015.0 766.0 1014.9 765.0 1014.8 764.0 1014.9 763.0 1015.1 762.0 1014.7 761.0 1014.9 760.0 1015.2 759.0 1015.1 758.0 1015.4 757.0 1015.1 756.0 1014.7 755.0 1014.5 754.0 1014.4 753.0 1014.5 752.0 1014.2 751.0 1013.9 750.0 1014.2 749.0 1014.3 748.0 1014.6 747.0 1014.7 746.0 1014.6 745.0 1015.0 744.0 1014.8 743.0 1014.7 742.0 1015.2 741.0 1014.5 740.0 1014.3 739.0 1014.3 738.0 1014.3 737.0 1014.4 736.0 1014.9 735.0 1015.0 734.0 1014.8 733.0 1014.5 732.0 1014.3 731.0 1014.2 730.0 1014.8 729.0 1015.1 728.0 1014.7 727.0 1014.3 726.0 1014.5 725.0 1014.6 724.0 1014.7 723.0 1014.4 722.0 1015.0 721.0 1015.2 720.0 1015.5 719.0 1015.1 718.0 1015.0 717.0 1014.8 716.0 1014.5 715.0 1014.6 714.0 1014.3 713.0 1014.8 712.0 1014.9 711.0 1014.8 710.0 1014.7 709.0 1014.4 708.0 1014.5 707.0 1014.6 706.0 1014.1 705.0 1014.0 704.0 1014.0 703.0 1014.3 702.0 1014.9 701.0 1014.8 700.0 1015.3 699.0 1015.0 698.0 1014.7 697.0 1014.6 696.0 1015.0 695.0 1014.8 694.0 1014.9 693.0 1015.1 692.0 1014.9 691.0 1014.5 690.0 1014.8 689.0 1015.2 688.0 1015.0 687.0 1014.7 686.0 1014.4 685.0 1014.3 684.0 1014.0 683.0 1014.3 682.0 1013.9 681.0 1014.3 680.0 1013.9 679.0 1014.5 678.0 1014.6 677.0 1014.8 676.0 1014.5 675.0 1014.5 674.0 1014.9 673.0 1014.7 672.0 1014.5 671.0 1014.2 670.0 1014.5 669.0 1014.6 668.0 1013.9 667.0 1014.5 666.0 1014.3 665.0 1014.5 664.0 1014.4 663.0 1014.5 662.0 1014.6 661.0 1014.5 660.0 1014.4 659.0 1014.9 658.0 1014.4 657.0 1014.3 656.0 1014.3 655.0 1014.3 654.0 1014.3 653.0 1014.4 652.0 1014.3 651.0 1014.6 650.0 1014.4 649.0 1014.8 648.0 1014.6 647.0 1014.8 646.0 1014.8 645.0 1014.7 644.0 1014.6 643.0 1015.2 642.0 1014.5 641.0 1014.6 640.0 1014.3 639.0 1014.3 638.0 1014.3 637.0 1014.3 636.0 1014.5 635.0 1014.6 634.0 1014.0 633.0 1014.3 632.0 1014.6 631.0 1014.7 630.0 1014.5 629.0 1014.4 628.0 1014.3 627.0 1014.7 626.0 1014.4 625.0 1014.3 624.0 1014.6 623.0 1014.8 622.0 1014.8 621.0 1014.3 620.0 1014.4 619.0 1014.3 618.0 1014.2 617.0 1014.3 616.0 1014.4 615.0 1014.8 614.0 1015.2 613.0 1014.8 612.0 1014.7 611.0 1014.6 610.0 1014.8 609.0 1015.2 608.0 1015.0 607.0 1015.0 606.0 1014.7 605.0 1014.6 604.0 1014.8 603.0 1014.7 602.0 1015.0 601.0 1014.4 600.0 1014.8 599.0 1014.6 598.0 1014.2 597.0 1014.3 596.0 1014.5 595.0 1014.8 594.0 1014.8 593.0 1015.1 592.0 1015.5 591.0 1015.0 590.0 1014.7 589.0 1014.6 588.0 1014.5 587.0 1014.5 586.0 1014.8 585.0 1014.9 584.0 1014.6 583.0 1014.8 582.0 1015.1 581.0 1015.0 580.0 1015.0 579.0 1015.0 578.0 1015.3 577.0 1015.6 576.0 1015.3 575.0 1015.0 574.0 1014.6 573.0 1015.2 572.0 1014.9 571.0 1014.4 570.0 1014.8 569.0 1014.3 568.0 1014.1 567.0 1014.1 566.0 1014.3 565.0 1015.0 564.0 1014.9 563.0 1014.6 562.0 1014.4 561.0 1015.0 560.0 1014.9 559.0 1014.5 558.0 1014.5 557.0 1014.5 556.0 1014.2 555.0 1014.6 554.0 1014.7 553.0 1014.8 552.0 1014.5 551.0 1014.8 550.0 1014.9 549.0 1015.1 548.0 1015.0 547.0 1014.5 546.0 1014.8 545.0 1014.4 544.0 1014.5 543.0 1014.8 542.0 1015.2 541.0 1015.0 540.0 1014.8 539.0 1014.6 538.0 1014.5 537.0 1014.6 536.0 1015.1 535.0 1014.3 534.0 1014.3 533.0 1014.3 532.0 1014.4 531.0 1014.7 530.0 1014.3 529.0 1014.4 528.0 1014.3 527.0 1014.8 526.0 1014.1 525.0 1014.3 524.0 1014.8 523.0 1014.7 522.0 1014.5 521.0 1014.4 520.0 1014.3 519.0 1014.3 518.0 1014.8 517.0 1014.9 516.0 1014.8 515.0 1014.9 514.0 1015.1 513.0 1015.0 512.0 1014.7 511.0 1014.6 510.0 1014.4 509.0 1014.9 508.0 1014.3 507.0 1014.2 506.0 1014.2 505.0 1014.3 504.0 1013.8 503.0 1014.1 502.0 1014.5 501.0 1015.1 500.0 1014.6 499.0 1014.8 498.0 1014.8 497.0 1014.7 496.0 1014.7 495.0 1015.0 494.0 1015.1 493.0 1015.0 492.0 1014.7 491.0 1014.4 490.0 1014.5 489.0 1014.0 488.0 1014.5 487.0 1014.5 486.0 1014.1 485.0 1014.5 484.0 1014.4 483.0 1014.9 482.0 1014.3 481.0 1014.7 480.0 1014.4 479.0 1014.5 478.0 1014.9 477.0 1014.8 476.0 1014.7 475.0 1015.2 474.0 1015.0 473.0 1014.8 472.0 1014.4 471.0 1014.3 470.0 1014.2 469.0 1014.5 468.0 1014.4 467.0 1014.8 466.0 1014.5 465.0 1014.5 464.0 1014.2 463.0 1014.6 462.0 1014.9 461.0 1015.2 460.0 1015.2 459.0 1014.9 458.0 1014.5 457.0 1014.0 456.0 1014.4 455.0 1014.2 454.0 1014.5 453.0 1014.7 452.0 1014.9 451.0 1014.5 450.0 1015.1 449.0 1014.7 448.0 1014.9 447.0 1014.8 446.0 1014.4 445.0 1015.0 444.0 1014.7 443.0 1014.9 442.0 1014.9 441.0 1014.4 440.0 1014.4 439.0 1014.6 438.0 1014.5 437.0 1014.6 436.0 1014.0 435.0 1014.1 434.0 1014.6 433.0 1014.7 432.0 1014.5 431.0 1014.0 430.0 1014.6 429.0 1014.4 428.0 1014.6 427.0 1014.5 426.0 1014.6 425.0 1014.4 424.0 1014.5 423.0 1015.2 422.0 1015.2 421.0 1014.9 420.0 1014.3 419.0 1014.4 418.0 1014.3 417.0 1014.2 416.0 1014.1 415.0 1014.1 414.0 1014.2 413.0 1014.1 412.0 1014.3 411.0 1014.7 410.0 1014.6 409.0 1015.0 408.0 1015.0 407.0 1015.3 406.0 1015.0 405.0 1014.6 404.0 1014.6 403.0 1015.2 402.0 1014.9 401.0 1014.6 400.0 1014.4 399.0 1014.3 398.0 1014.2 397.0 1014.3 396.0 1014.2 395.0 1014.7 394.0 1014.8 393.0 1014.7 392.0 1015.1 391.0 1014.7 390.0 1015.2 389.0 1014.5 388.0 1015.0 387.0 1014.7 386.0 1014.7 385.0 1014.5 384.0 1014.0 383.0 1014.1 382.0 1014.5 381.0 1014.8 380.0 1014.8 379.0 1014.5 378.0 1014.4 377.0 1014.4 376.0 1014.5 375.0 1015.0 374.0 1014.8 373.0 1015.0 372.0 1015.0 371.0 1015.1 370.0 1014.9 369.0 1015.0 368.0 1014.3 367.0 1014.4 366.0 1013.8 365.0 1014.3 364.0 1014.3 363.0 1014.6 362.0 1014.6 361.0 1014.6 360.0 1014.7 359.0 1014.2 358.0 1014.5 357.0 1014.2 356.0 1014.2 355.0 1014.3 354.0 1014.0 353.0 1014.4 352.0 1014.5 351.0 1014.3 350.0 1014.6 349.0 1015.1 348.0 1014.8 347.0 1014.5 346.0 1014.7 345.0 1014.6 344.0 1014.6 343.0 1014.5 342.0 1015.1 341.0 1014.6 340.0 1014.4 339.0 1014.5 338.0 1014.6 337.0 1014.6 336.0 1014.7 335.0 1014.9 334.0 1014.6 333.0 1014.5 332.0 1014.5 331.0 1014.4 330.0 1014.6 329.0 1014.0 328.0 1014.5 327.0 1014.8 326.0 1015.0 325.0 1015.5 324.0 1015.2 323.0 1015.0 322.0 1015.0 321.0 1014.4 320.0 1014.1 319.0 1014.1 318.0 1014.4 317.0 1014.3 316.0 1014.4 315.0 1015.2 314.0 1014.7 313.0 1014.3 312.0 1014.5 311.0 1014.5 310.0 1014.6 309.0 1014.3 308.0 1014.0 307.0 1014.1 306.0 1014.2 305.0 1014.6 304.0 1014.6 303.0 1014.3 302.0 1014.6 301.0 1014.5 300.0 1014.6 299.0 1014.7 298.0 1014.5 297.0 1014.1 296.0 1014.8 295.0 1014.7 294.0 1014.5 293.0 1014.4 292.0 1014.9 291.0 1014.4 290.0 1014.3 289.0 1014.4 288.0 1014.3 287.0 1014.0 286.0 1014.4 285.0 1014.3 284.0 1014.5 283.0 1014.9 282.0 1014.9 281.0 1015.2 280.0 1014.9 279.0 1014.8 278.0 1014.8 277.0 1015.0 276.0 1014.9 275.0 1014.7 274.0 1014.9 273.0 1015.2 272.0 1015.1 271.0 1015.0 270.0 1014.7 269.0 1014.9 268.0 1014.9 267.0 1015.1 266.0 1014.7 265.0 1014.6 264.0 1014.7 263.0 1014.5 262.0 1014.4 261.0 1014.5 260.0 1014.8 259.0 1014.6 258.0 1014.2 257.0 1014.8 256.0 1014.9 255.0 1014.5 254.0 1014.7 253.0 1014.7 252.0 1014.6 251.0 1014.6 250.0 1014.5 249.0 1014.1 248.0 1014.9 247.0 1014.5 246.0 1014.2 245.0 1014.7 244.0 1014.8 243.0 1015.2 242.0 1014.8 241.0 1014.7 240.0 1014.3 239.0 1014.6 238.0 1014.7 237.0 1014.7 236.0 1014.6 235.0 1014.8 234.0 1014.9 233.0 1014.3 232.0 1014.4 231.0 1014.7 230.0 1014.9 229.0 1015.3 228.0 1015.0 227.0 1015.2 226.0 1014.6 225.0 1014.6 224.0 1014.6 223.0 1015.1 222.0 1015.2 221.0 1015.0 220.0 1014.8 219.0 1015.0 218.0 1014.9 217.0 1014.9 216.0 1014.8 215.0 1014.2 214.0 1014.2 213.0 1014.0 212.0 1014.2 211.0 1014.2 210.0 1014.1 209.0 1015.0 208.0 1014.5 207.0 1014.7 206.0 1014.5 205.0 1014.1 204.0 1014.6 203.0 1015.0 202.0 1015.1 201.0 1015.1 200.0 1015.2 199.0 1015.0 198.0 1014.7 197.0 1014.7 196.0 1014.0 195.0 1014.6 194.0 1015.0 193.0 1015.0 192.0 1014.6 191.0 1014.2 190.0 1014.7 189.0 1015.0 188.0 1015.2 187.0 1014.8 186.0 1014.4 185.0 1014.5 184.0 1014.5 183.0 1014.6 182.0 1014.2 181.0 1014.4 180.0 1014.4 179.0 1014.6 178.0 1014.6 177.0 1014.3 176.0 1014.3 175.0 1014.0 174.0 1013.9 173.0 1014.1 172.0 1014.0 171.0 1014.3 170.0 1014.4 169.0 1014.9 168.0 1015.1 167.0 1015.4 166.0 1015.4 165.0 1015.0 164.0 1014.8Z" fill="#000" stroke="#000" stroke-width="2.8" stroke-linejoin="round"/>
<path d="M167.6 1013.4h0M185.5 1012.9h0M191.8 1014.6h0M201.1 1010.8h0M204.1 1015.6h0M204.8 1013.4h0M209.7 1013.2h0M210.8 1014.3h0M216.9 1013.9h0M218.0 1013.4h0M240.9 1014.9h0M244.0 1013.6h0M255.7 1013.5h0M285.2 1012.2h0M285.8 1014.4h0M289.1 1011.3h0M290.8 1013.8h0M316.9 1013.3h0M322.3 1015.3h0M324.0 1013.0h0M327.1 1015.2h0M327.6 1013.1h0M331.1 1011.8h0M338.6 1013.5h0M340.2 1012.3h0M348.2 1015.2h0M351.6 1013.1h0M358.6 1014.2h0M362.0 1012.6h0M364.8 1013.3h0M376.4 1011.9h0M391.2 1013.3h0M410.8 1013.7h0M422.3 1012.6h0M423.4 1012.9h0M423.5 1010.6h0M425.3 1014.9h0M425.8 1013.2h0M448.0 1015.0h0M448.8 1012.8h0M454.1 1011.8h0M460.4 1015.3h0M471.0 1013.0h0M472.3 1011.1h0M473.3 1014.9h0M476.6 1014.9h0M487.0 1013.3h0M491.6 1013.6h0M510.3 1013.6h0M511.2 1013.5h0M519.8 1011.7h0M525.2 1013.8h0M527.6 1015.0h0M528.8 1014.6h0M531.6 1013.3h0M532.9 1014.3h0M539.4 1013.8h0M551.4 1013.3h0M571.9 1011.9h0M578.4 1015.5h0M581.5 1013.9h0M589.0 1015.0h0M602.8 1012.4h0M610.7 1015.0h0M632.2 1012.4h0M636.8 1013.3h0M642.1 1012.6h0M645.4 1013.6h0M646.8 1013.3h0M662.9 1011.8h0M667.6 1013.0h0M676.6 1012.3h0M690.7 1013.1h0M694.4 1013.3h0M708.7 1012.8h0M713.0 1010.5h0M715.0 1012.6h0M717.5 1013.6h0M723.7 1013.2h0M752.3 1014.3h0M756.1 1014.7h0M758.0 1015.6h0M759.4 1011.1h0M766.6 1012.6h0M774.5 1013.2h0M774.7 1012.1h0M776.3 1012.8h0M778.3 1013.5h0M781.5 1013.5h0M781.8 1013.1h0M790.4 1012.4h0M793.7 1015.0h0M809.0 1015.4h0M821.4 1012.3h0M831.1 1012.5h0M836.1 1013.6h0M847.8 1012.6h0M849.6 1014.7h0M853.6 1011.2h0M855.7 1013.2h0M857.9 1014.9h0M860.5 1013.1h0M864.4 1012.6h0M867.2 1011.7h0M868.0 1011.6h0M885.5 1013.5h0M894.2 1012.5h0M894.8 1013.1h0M912.8 1012.4h0M918.4 1012.2h0M921.5 1012.5h0M933.3 1014.2h0M941.0 1012.5h0M950.6 1012.5h0M959.0 1013.3h0M964.0 1013.3h0M966.5 1012.8h0M970.2 1012.4h0M978.6 1013.1h0M987.4 1008.1h0M988.7 1014.7h0M996.7 1015.6h0M1009.6 1012.5h0M1018.9 1011.4h0M1026.7 1012.8h0M1029.2 1014.8h0M1032.8 1013.7h0M1038.7 1013.6h0M1039.9 1012.6h0M1046.4 1013.1h0M1067.3 1013.8h0M1070.4 1013.8h0M1072.4 1012.8h0M1071.8 1014.8h0M1080.1 1013.4h0M1090.8 1012.6h0M1099.3 1010.0h0M1109.7 1012.6h0M1111.7 1014.8h0M1117.0 1013.2h0M1116.5 1014.9h0M1119.5 1012.7h0M1120.8 1012.8h0M1134.2 1013.2h0M1134.6 1013.7h0M1139.0 1014.8h0M1143.5 1013.3h0M1147.2 1014.7h0M1164.4 1011.0h0M1164.6 1012.4h0M1164.8 1014.6h0M1165.7 1013.5h0M1166.9 1013.2h0" stroke="#000" stroke-width="2.8" stroke-linecap="round"/>
<path d="M1170.0 1008.5 1171.0 1008.6 1172.0 1007.8 1173.0 1009.5 1174.0 1007.6 1175.0 1007.8 1176.0 1008.6 1177.0 1009.0 1178.0 1009.1 1179.0 1007.9 1180.0 1009.5 1181.0 1008.3 1182.0 1008.2 1183.0 1008.1 1184.0 1008.1 1185.0 1007.6 1186.0 1009.1 1187.0 1008.7 1188.0 1009.3 1189.0 1007.5 1190.0 1008.2 1191.0 1008.0 1192.0 1008.3 1193.0 1008.4 1194.0 1008.6 1195.0 1008.3 1196.0 1008.3 1197.0 1008.3 1198.0 1008.4 1199.0 1008.3 1200.0 1007.9 1201.0 1008.3 1202.0 1007.5 1203.0 1009.4 1204.0 1009.6 1205.0 1010.2 1206.0 1009.3 1207.0 1007.7 1208.0 1006.6 1209.0 1006.5 1210.0 1006.6 1211.0 1006.9 1212.0 1007.0 1213.0 1007.9 1214.0 1006.1 1215.0 1008.2 1216.0 1007.8 1217.0 1008.0 1218.0 1006.6 1219.0 1007.4 1220.0 1006.4 1221.0 1007.5 1222.0 1007.9 1223.0 1008.1 1224.0 1007.9 1225.0 1007.7 1226.0 1007.6 1227.0 1008.5 1228.0 1008.4 1229.0 1008.4 1230.0 1010.2 1231.0 1009.4 1232.0 1008.1 1233.0 1006.3 1234.0 1005.0 1235.0 1006.3 1236.0 1007.7 1237.0 1007.0 1238.0 1006.4 1239.0 1006.9 1240.0 1007.5 1241.0 1008.4 1242.0 1008.2 1243.0 1007.6 1244.0 1008.3 1245.0 1007.4 1246.0 1006.5 1247.0 1006.2 1248.0 1006.6 1249.0 1006.8 1250.0 1007.3 1251.0 1007.6 1252.0 1009.7 1253.0 1009.4 1254.0 1007.1 1255.0 1006.3 1256.0 1007.1 1257.0 1006.8 1258.0 1009.0 1259.0 1008.2 1260.0 1007.8 1261.0 1008.0 1262.0 1007.8 1263.0 1008.3 1264.0 1008.0 1265.0 1008.2 1266.0 1007.6 1267.0 1005.6 1268.0 1006.9 1269.0 1008.7 1270.0 1007.6 1271.0 1007.3 1272.0 1008.2 1273.0 1007.7 1274.0 1007.9 1275.0 1007.8 1276.0 1008.3 1277.0 1008.1 1278.0 1009.7 1279.0 1009.1 1280.0 1008.4 1281.0 1007.1 1282.0 1007.5 1283.0 1006.9 1284.0 1007.9 1285.0 1008.4 1286.0 1010.4 1287.0 1008.8 1288.0 1008.6 1289.0 1009.2 1290.0 1007.1 1291.0 1008.0 1292.0 1009.5 1293.0 1008.9 L1293.0 1014.3 1292.0 1014.9 1291.0 1014.0 1290.0 1013.9 1289.0 1013.5 1288.0 1012.2 1287.0 1013.1 1286.0 1014.5 1285.0 1014.0 1284.0 1014.5 1283.0 1014.6 1282.0 1013.7 1281.0 1013.0 1280.0 1011.7 1279.0 1012.2 1278.0 1012.2 1277.0 1012.3 1276.0 1012.0 1275.0 1011.1 1274.0 1012.0 1273.0 1012.2 1272.0 1012.9 1271.0 1013.4 1270.0 1014.3 1269.0 1014.3 1268.0 1014.0 1267.0 1012.6 1266.0 1012.4 1265.0 1012.7 1264.0 1012.2 1263.0 1011.6 1262.0 1011.6 1261.0 1011.9 1260.0 1012.6 1259.0 1012.3 1258.0 1012.8 1257.0 1014.2 1256.0 1014.0 1255.0 1013.3 1254.0 1013.9 1253.0 1013.1 1252.0 1014.4 1251.0 1013.6 1250.0 1012.1 1249.0 1013.3 1248.0 1014.0 1247.0 1013.2 1246.0 1013.0 1245.0 1012.9 1244.0 1012.7 1243.0 1013.7 1242.0 1013.9 1241.0 1013.1 1240.0 1013.1 1239.0 1013.3 1238.0 1014.9 1237.0 1015.3 1236.0 1014.8 1235.0 1012.9 1234.0 1013.8 1233.0 1013.7 1232.0 1013.6 1231.0 1014.4 1230.0 1015.1 1229.0 1016.1 1228.0 1013.7 1227.0 1015.1 1226.0 1013.2 1225.0 1013.1 1224.0 1014.2 1223.0 1014.6 1222.0 1014.2 1221.0 1013.6 1220.0 1013.3 1219.0 1014.8 1218.0 1014.3 1217.0 1013.8 1216.0 1015.0 1215.0 1015.6 1214.0 1013.9 1213.0 1015.6 1212.0 1014.5 1211.0 1014.6 1210.0 1014.6 1209.0 1014.2 1208.0 1013.8 1207.0 1013.8 1206.0 1013.2 1205.0 1012.2 1204.0 1012.6 1203.0 1013.0 1202.0 1011.7 1201.0 1011.6 1200.0 1013.3 1199.0 1013.6 1198.0 1013.2 1197.0 1012.7 1196.0 1012.3 1195.0 1013.8 1194.0 1013.8 1193.0 1014.1 1192.0 1014.7 1191.0 1013.6 1190.0 1013.7 1189.0 1014.7 1188.0 1013.7 1187.0 1014.6 1186.0 1015.5 1185.0 1015.8 1184.0 1013.7 1183.0 1012.4 1182.0 1011.6 1181.0 1010.9 1180.0 1011.4 1179.0 1013.4 1178.0 1013.9 1177.0 1014.2 1176.0 1015.1 1175.0 1013.6 1174.0 1014.6 1173.0 1014.2 1172.0 1014.3 1171.0 1014.5 1170.0 1013.5Z" fill="#000" stroke="#000" stroke-width="2.8" stroke-linejoin="round"/>
<path d="M1170.0 1007.4h0M1175.2 1006.3h0M1175.7 1008.4h0M1176.7 1007.8h0M1177.6 1007.6h0M1179.6 1008.5h0M1181.5 1006.4h0M1185.5 1008.9h0M1186.9 1008.4h0M1187.8 1009.2h0M1187.6 1014.1h0M1188.6 1006.9h0M1189.9 1006.4h0M1192.9 1007.4h0M1195.0 1013.8h0M1196.5 1005.6h0M1199.2 1006.5h0M1199.3 1013.9h0M1200.1 1007.9h0M1202.7 1013.7h0M1203.9 1008.9h0M1204.9 1009.1h0M1207.7 1004.9h0M1212.7 1007.4h0M1215.2 1016.5h0M1217.1 1006.8h0M1220.8 1007.3h0M1231.1 1007.0h0M1232.7 1005.3h0M1233.9 1004.9h0M1235.9 1005.9h0M1241.0 1005.6h0M1242.5 1013.9h0M1244.3 1007.8h0M1244.9 1001.7h0M1251.6 1008.9h0M1254.3 1006.9h0M1255.4 1003.7h0M1258.9 1007.0h0M1261.2 1007.7h0M1263.0 1008.2h0M1263.9 1007.9h0M1267.3 1003.9h0M1268.6 1007.0h0M1271.2 1006.8h0M1275.1 1005.5h0M1276.1 1007.4h0M1278.5 1009.0h0M1278.1 1012.6h0M1278.9 1006.6h0M1281.1 1002.8h0M1285.2 1004.8h0M1286.0 1009.6h0M1286.2 1014.5h0M1287.1 1007.7h0M1289.7 1006.2h0M1292.1 1006.5h0M1293.1 1007.5h0" stroke="#000" stroke-width="2.8" stroke-linecap="round"/>
<path d="M162.30 1017.2V960.4" stroke="#800080" stroke-width="2.08" stroke-dasharray="2.08 3.43"/>
<path d="M845.00 1017.2V960.4" stroke="#800080" stroke-width="2.08" stroke-dasharray="2.08 3.43"/>
<path d="M1168.00 1017.2V960.4" stroke="#800080" stroke-width="2.08" stroke-dasharray="2.08 3.43"/>
<path d="M1293.00 1017.2V960.4" stroke="#800080" stroke-width="2.08" stroke-dasharray="2.08 3.43"/>
<rect x="105.3" y="960.4" width="1369.20" height="56.80" fill="none" stroke="#000" stroke-width="1.11"/>
<path d="M100.44 962.50H105.3M100.44 988.90H105.3M100.44 1015.30H105.3" stroke="#000" stroke-width="1.11"/>
<text x="77.91" y="967.50" font-size="14.58" textLength="17.67" lengthAdjust="spacingAndGlyphs">10</text>
<text x="86.74" y="993.90" font-size="14.58" textLength="8.84" lengthAdjust="spacingAndGlyphs">5</text>
<text x="86.74" y="1020.30" font-size="14.58" textLength="8.84" lengthAdjust="spacingAndGlyphs">0</text>
<path d="M102.52 975.70H105.3M102.52 1002.10H105.3" stroke="#000" stroke-width="0.83"/>
<path d="M162.30 1017.2V1022.06M333.90 1017.2V1022.06M505.50 1017.2V1022.06M677.10 1017.2V1022.06M848.70 1017.2V1022.06M1020.30 1017.2V1022.06M1191.90 1017.2V1022.06M1363.50 1017.2V1022.06" stroke="#000" stroke-width="1.11"/>
<text x="157.88" y="1037.70" font-size="14.58" textLength="8.84" lengthAdjust="spacingAndGlyphs">0</text>
<text x="316.23" y="1037.70" font-size="14.58" textLength="35.35" lengthAdjust="spacingAndGlyphs">5000</text>
<text x="483.41" y="1037.70" font-size="14.58" textLength="44.19" lengthAdjust="spacingAndGlyphs">10000</text>
<text x="655.01" y="1037.70" font-size="14.58" textLength="44.19" lengthAdjust="spacingAndGlyphs">15000</text>
<text x="826.61" y="1037.70" font-size="14.58" textLength="44.19" lengthAdjust="spacingAndGlyphs">20000</text>
<text x="998.21" y="1037.70" font-size="14.58" textLength="44.19" lengthAdjust="spacingAndGlyphs">25000</text>
<text x="1169.81" y="1037.70" font-size="14.58" textLength="44.19" lengthAdjust="spacingAndGlyphs">30000</text>
<text x="1341.41" y="1037.70" font-size="14.58" textLength="44.19" lengthAdjust="spacingAndGlyphs">35000</text>
<text transform="translate(67.8 990.3) rotate(-90)" x="-7.26" y="0" font-size="14.58" textLength="14.53" lengthAdjust="spacingAndGlyphs">dr</text>
<text x="734.44" y="1068.10" font-size="17.50" textLength="110.93" lengthAdjust="spacingAndGlyphs">OBSID 30484</text>
<rect x="105.3" y="1076.5" width="1369.20" height="287.80" fill="none" stroke="#000" stroke-width="1.11"/>
<path d="M100.44 1364.30H105.3M100.44 1306.74H105.3M100.44 1249.18H105.3M100.44 1191.62H105.3M100.44 1134.06H105.3M100.44 1076.50H105.3" stroke="#000" stroke-width="1.11"/>
<text x="73.49" y="1369.30" font-size="14.58" textLength="22.09" lengthAdjust="spacingAndGlyphs">0.0</text>
<text x="73.49" y="1311.74" font-size="14.58" textLength="22.09" lengthAdjust="spacingAndGlyphs">0.2</text>
<text x="73.49" y="1254.18" font-size="14.58" textLength="22.09" lengthAdjust="spacingAndGlyphs">0.4</text>
<text x="73.49" y="1196.62" font-size="14.58" textLength="22.09" lengthAdjust="spacingAndGlyphs">0.6</text>
<text x="73.49" y="1139.06" font-size="14.58" textLength="22.09" lengthAdjust="spacingAndGlyphs">0.8</text>
<text x="73.49" y="1081.50" font-size="14.58" textLength="22.09" lengthAdjust="spacingAndGlyphs">1.0</text>
<path d="M105.30 1364.3V1369.16M379.14 1364.3V1369.16M652.98 1364.3V1369.16M926.82 1364.3V1369.16M1200.66 1364.3V1369.16M1474.50 1364.3V1369.16" stroke="#000" stroke-width="1.11"/>
<text x="94.26" y="1384.80" font-size="14.58" textLength="22.09" lengthAdjust="spacingAndGlyphs">0.0</text>
<text x="368.10" y="1384.80" font-size="14.58" textLength="22.09" lengthAdjust="spacingAndGlyphs">0.2</text>
<text x="641.94" y="1384.80" font-size="14.58" textLength="22.09" lengthAdjust="spacingAndGlyphs">0.4</text>
<text x="915.78" y="1384.80" font-size="14.58" textLength="22.09" lengthAdjust="spacingAndGlyphs">0.6</text>
<text x="1189.62" y="1384.80" font-size="14.58" textLength="22.09" lengthAdjust="spacingAndGlyphs">0.8</text>
<text x="1463.46" y="1384.80" font-size="14.58" textLength="22.09" lengthAdjust="spacingAndGlyphs">1.0</text>
<text x="683.81" y="1224.00" font-size="14.58" textLength="212.19" lengthAdjust="spacingAndGlyphs">No Telemetry for OBSID 30484</text>
<path d="M105.3 1469.20H1474.5M105.3 1515.30H1474.5M105.3 1562.20H1474.5M105.3 1608.30H1474.5" stroke="#b0b0b0" stroke-width="1.11" stroke-dasharray="1.11 1.83"/>
<rect x="105.3" y="1423.7" width="1369.20" height="230.60" fill="none" stroke="#000" stroke-width="1.11"/>
<path d="M100.44 1469.20H105.3M100.44 1515.30H105.3M100.44 1562.20H105.3M100.44 1608.30H105.3" stroke="#000" stroke-width="1.11"/>
<text x="16.34" y="1474.20" font-size="14.58" textLength="79.24" lengthAdjust="spacingAndGlyphs">not Kalman</text>
<text x="33.07" y="1520.30" font-size="14.58" textLength="62.51" lengthAdjust="spacingAndGlyphs">not track</text>
<text x="37.90" y="1567.20" font-size="14.58" textLength="57.68" lengthAdjust="spacingAndGlyphs">Ion. rad.</text>
<text x="51.75" y="1613.30" font-size="14.58" textLength="43.83" lengthAdjust="spacingAndGlyphs">dr &gt; 5</text>
<path d="M105.30 1654.3V1659.16M379.14 1654.3V1659.16M652.98 1654.3V1659.16M926.82 1654.3V1659.16M1200.66 1654.3V1659.16M1474.50 1654.3V1659.16" stroke="#000" stroke-width="1.11"/>
<text x="94.26" y="1674.80" font-size="14.58" textLength="22.09" lengthAdjust="spacingAndGlyphs">0.0</text>
<text x="368.10" y="1674.80" font-size="14.58" textLength="22.09" lengthAdjust="spacingAndGlyphs">0.2</text>
<text x="641.94" y="1674.80" font-size="14.58" textLength="22.09" lengthAdjust="spacingAndGlyphs">0.4</text>
<text x="915.78" y="1674.80" font-size="14.58" textLength="22.09" lengthAdjust="spacingAndGlyphs">0.6</text>
<text x="1189.62" y="1674.80" font-size="14.58" textLength="22.09" lengthAdjust="spacingAndGlyphs">0.8</text>
<text x="1463.46" y="1674.80" font-size="14.58" textLength="22.09" lengthAdjust="spacingAndGlyphs">1.0</text>
<rect x="105.3" y="1654.3" width="1370.70" height="57.10" fill="#fff"/>
<rect x="105.3" y="1654.3" width="1369.20" height="57.10" fill="none" stroke="#000" stroke-width="1.11"/>
<path d="M100.44 1711.40H105.3M100.44 1682.85H105.3M100.44 1654.30H105.3" stroke="#000" stroke-width="1.11"/>
<text x="73.49" y="1716.40" font-size="14.58" textLength="22.09" lengthAdjust="spacingAndGlyphs">0.0</text>
<text x="73.49" y="1687.85" font-size="14.58" textLength="22.09" lengthAdjust="spacingAndGlyphs">0.5</text>
<text x="73.49" y="1659.30" font-size="14.58" textLength="22.09" lengthAdjust="spacingAndGlyphs">1.0</text>
<path d="M105.30 1711.4V1716.26M379.14 1711.4V1716.26M652.98 1711.4V1716.26M926.82 1711.4V1716.26M1200.66 1711.4V1716.26M1474.50 1711.4V1716.26" stroke="#000" stroke-width="1.11"/>
<text x="94.26" y="1731.90" font-size="14.58" textLength="22.09" lengthAdjust="spacingAndGlyphs">0.0</text>
<text x="368.10" y="1731.90" font-size="14.58" textLength="22.09" lengthAdjust="spacingAndGlyphs">0.2</text>
<text x="641.94" y="1731.90" font-size="14.58" textLength="22.09" lengthAdjust="spacingAndGlyphs">0.4</text>
<text x="915.78" y="1731.90" font-size="14.58" textLength="22.09" lengthAdjust="spacingAndGlyphs">0.6</text>
<text x="1189.62" y="1731.90" font-size="14.58" textLength="22.09" lengthAdjust="spacingAndGlyphs">0.8</text>
<text x="1463.46" y="1731.90" font-size="14.58" textLength="22.09" lengthAdjust="spacingAndGlyphs">1.0</text>
</svg>
</body></html>
